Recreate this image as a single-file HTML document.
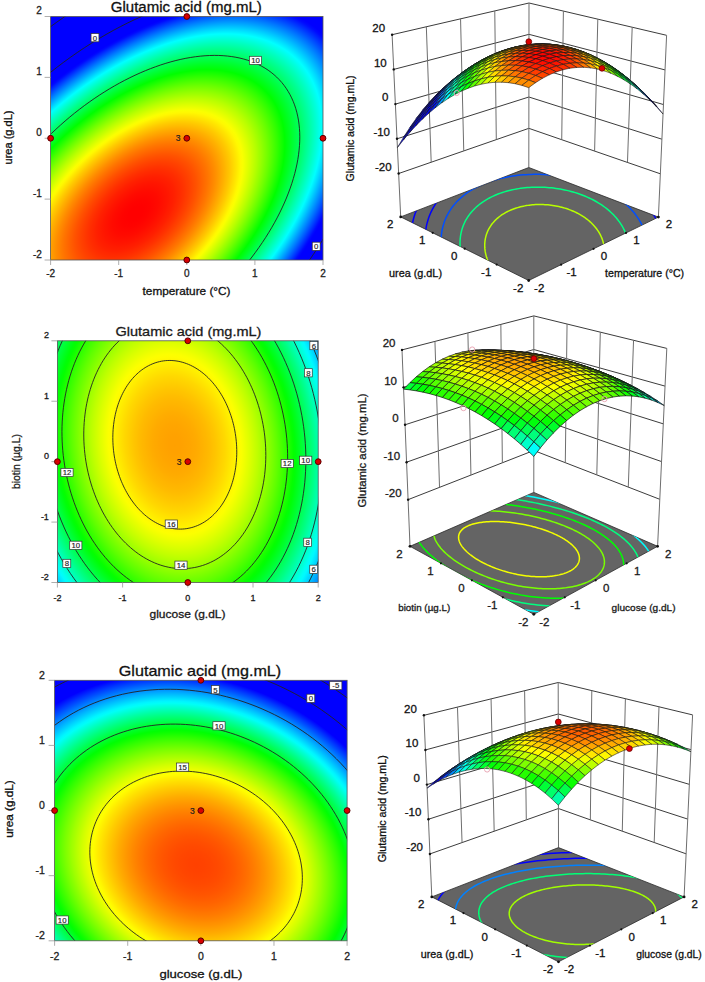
<!DOCTYPE html>
<html><head><meta charset="utf-8"><style>html,body{margin:0;padding:0;background:#fff;}body{width:705px;height:982px;overflow:hidden;}svg{display:block}</style></head><body>
<svg width="705" height="982" viewBox="0 0 705 982">
<rect width="705" height="982" fill="#fff"/>
<defs><radialGradient id="g1" gradientUnits="userSpaceOnUse" cx="0" cy="0" r="1" gradientTransform="matrix(-192.74226 200.42726 -131.68783 -101.19278 135.435 213.481)"><stop offset="0.000" stop-color="#ff0000"/><stop offset="0.010" stop-color="#ff0000"/><stop offset="0.020" stop-color="#ff0000"/><stop offset="0.030" stop-color="#ff0000"/><stop offset="0.040" stop-color="#ff0100"/><stop offset="0.050" stop-color="#ff0200"/><stop offset="0.060" stop-color="#ff0300"/><stop offset="0.070" stop-color="#ff0500"/><stop offset="0.080" stop-color="#ff0700"/><stop offset="0.090" stop-color="#ff0900"/><stop offset="0.100" stop-color="#ff0b00"/><stop offset="0.110" stop-color="#ff0e00"/><stop offset="0.120" stop-color="#ff1100"/><stop offset="0.130" stop-color="#ff1400"/><stop offset="0.140" stop-color="#ff1700"/><stop offset="0.150" stop-color="#ff1b00"/><stop offset="0.160" stop-color="#ff1e00"/><stop offset="0.170" stop-color="#ff2200"/><stop offset="0.180" stop-color="#ff2700"/><stop offset="0.190" stop-color="#ff2b00"/><stop offset="0.200" stop-color="#ff3000"/><stop offset="0.210" stop-color="#ff3500"/><stop offset="0.220" stop-color="#ff3b00"/><stop offset="0.230" stop-color="#ff4000"/><stop offset="0.240" stop-color="#ff4600"/><stop offset="0.250" stop-color="#ff4c00"/><stop offset="0.260" stop-color="#ff5200"/><stop offset="0.270" stop-color="#ff5900"/><stop offset="0.280" stop-color="#ff6000"/><stop offset="0.290" stop-color="#ff6700"/><stop offset="0.300" stop-color="#ff6e00"/><stop offset="0.310" stop-color="#ff7500"/><stop offset="0.320" stop-color="#ff7d00"/><stop offset="0.330" stop-color="#ff8500"/><stop offset="0.340" stop-color="#ff8d00"/><stop offset="0.350" stop-color="#ff9600"/><stop offset="0.360" stop-color="#ff9f00"/><stop offset="0.370" stop-color="#ffa800"/><stop offset="0.380" stop-color="#ffb100"/><stop offset="0.390" stop-color="#ffbb00"/><stop offset="0.400" stop-color="#ffc400"/><stop offset="0.410" stop-color="#ffce00"/><stop offset="0.420" stop-color="#ffd900"/><stop offset="0.430" stop-color="#ffe300"/><stop offset="0.440" stop-color="#ffee00"/><stop offset="0.450" stop-color="#fff900"/><stop offset="0.460" stop-color="#faff00"/><stop offset="0.470" stop-color="#eeff00"/><stop offset="0.480" stop-color="#e2ff00"/><stop offset="0.490" stop-color="#d6ff00"/><stop offset="0.500" stop-color="#c9ff00"/><stop offset="0.510" stop-color="#bdff00"/><stop offset="0.520" stop-color="#b0ff00"/><stop offset="0.530" stop-color="#a2ff00"/><stop offset="0.540" stop-color="#95ff00"/><stop offset="0.550" stop-color="#87ff00"/><stop offset="0.560" stop-color="#79ff00"/><stop offset="0.570" stop-color="#6bff00"/><stop offset="0.580" stop-color="#5cff00"/><stop offset="0.590" stop-color="#4dff00"/><stop offset="0.600" stop-color="#3eff00"/><stop offset="0.610" stop-color="#2fff00"/><stop offset="0.620" stop-color="#1fff00"/><stop offset="0.630" stop-color="#10ff00"/><stop offset="0.640" stop-color="#00ff00"/><stop offset="0.650" stop-color="#00ff0f"/><stop offset="0.660" stop-color="#00ff1d"/><stop offset="0.670" stop-color="#00ff2c"/><stop offset="0.680" stop-color="#00ff3b"/><stop offset="0.690" stop-color="#00ff4a"/><stop offset="0.700" stop-color="#00ff59"/><stop offset="0.710" stop-color="#00ff69"/><stop offset="0.720" stop-color="#00ff79"/><stop offset="0.730" stop-color="#00ff89"/><stop offset="0.740" stop-color="#00ff99"/><stop offset="0.750" stop-color="#00ffaa"/><stop offset="0.760" stop-color="#00ffba"/><stop offset="0.770" stop-color="#00ffcb"/><stop offset="0.780" stop-color="#00ffdc"/><stop offset="0.790" stop-color="#00ffee"/><stop offset="0.800" stop-color="#00ffff"/><stop offset="0.810" stop-color="#00ecff"/><stop offset="0.820" stop-color="#00d9ff"/><stop offset="0.830" stop-color="#00c5ff"/><stop offset="0.840" stop-color="#00b1ff"/><stop offset="0.850" stop-color="#009dff"/><stop offset="0.860" stop-color="#0089ff"/><stop offset="0.870" stop-color="#0075ff"/><stop offset="0.880" stop-color="#0060ff"/><stop offset="0.890" stop-color="#004bff"/><stop offset="0.900" stop-color="#0036ff"/><stop offset="0.910" stop-color="#0021ff"/><stop offset="0.920" stop-color="#000bff"/><stop offset="0.930" stop-color="#0000ff"/><stop offset="0.940" stop-color="#0000ff"/><stop offset="0.950" stop-color="#0000ff"/><stop offset="0.960" stop-color="#0000ff"/><stop offset="0.970" stop-color="#0000ff"/><stop offset="0.980" stop-color="#0000ff"/><stop offset="0.990" stop-color="#0000ff"/><stop offset="1.000" stop-color="#0000ff"/></radialGradient>
<clipPath id="cg1"><rect x="50.60" y="16.50" width="272.40" height="243.50"/></clipPath></defs>
<rect x="50.60" y="16.50" width="272.40" height="243.50" fill="url(#g1)"/>
<g clip-path="url(#cg1)" fill="none" stroke="#222" stroke-width="0.9">
<polyline points="-97.16,455.35 -102.04,451.39 -106.68,447.20 -111.08,442.78 -115.24,438.14 -119.16,433.27 -122.82,428.18 -126.22,422.88 -129.37,417.38 -132.26,411.68 -134.88,405.77 -137.24,399.68 -139.33,393.41 -141.14,386.96 -142.69,380.33 -143.95,373.55 -144.95,366.60 -145.66,359.50 -146.10,352.26 -146.26,344.89 -146.15,337.38 -145.75,329.75 -145.08,322.00 -144.13,314.15 -142.90,306.20 -141.40,298.16 -139.63,290.03 -137.59,281.83 -135.27,273.56 -132.69,265.23 -129.85,256.85 -126.74,248.43 -123.37,239.97 -119.75,231.49 -115.88,222.99 -111.76,214.48 -107.39,205.97 -102.78,197.47 -97.94,188.98 -92.87,180.51 -87.58,172.08 -82.06,163.69 -76.33,155.35 -70.39,147.07 -64.25,138.85 -57.91,130.71 -51.38,122.64 -44.66,114.67 -37.77,106.79 -30.71,99.02 -23.48,91.37 -16.10,83.83 -8.56,76.42 -0.89,69.15 6.92,62.01 14.86,55.03 22.92,48.21 31.09,41.54 39.36,35.05 47.72,28.73 56.17,22.60 64.70,16.65 73.30,10.90 81.96,5.35 90.68,0.00 99.44,-5.13 108.23,-10.05 117.05,-14.75 125.89,-19.22 134.74,-23.47 143.58,-27.48 152.43,-31.25 161.25,-34.78 170.05,-38.07 178.81,-41.11 187.53,-43.89 196.20,-46.43 204.81,-48.70 213.35,-50.72 221.82,-52.48 230.20,-53.97 238.48,-55.20 246.67,-56.17 254.74,-56.87 262.70,-57.30 270.53,-57.46 278.23,-57.36 285.79,-56.99 293.19,-56.36 300.45,-55.45 307.54,-54.29 314.46,-52.85 321.20,-51.16 327.76,-49.20 334.13,-46.99 340.31,-44.51 346.28,-41.79 352.04,-38.81 357.59,-35.58 362.92,-32.10 368.03,-28.39 372.91,-24.43 377.55,-20.24 381.95,-15.82 386.11,-11.17 390.03,-6.31 393.69,-1.22 397.09,4.08 400.24,9.58 403.13,15.29 405.75,21.19 408.11,27.28 410.20,33.55 412.01,40.00 413.56,46.63 414.82,53.41 415.82,60.36 416.53,67.46 416.97,74.70 417.13,82.08 417.02,89.58 416.62,97.21 415.95,104.96 415.00,112.81 413.77,120.76 412.27,128.80 410.50,136.93 408.46,145.13 406.14,153.40 403.56,161.73 400.72,170.11 397.61,178.53 394.24,186.99 390.62,195.47 386.75,203.97 382.63,212.48 378.26,220.99 373.65,229.50 368.81,237.98 363.74,246.45 358.45,254.88 352.93,263.27 347.20,271.61 341.26,279.89 335.12,288.11 328.78,296.26 322.25,304.32 315.53,312.29 308.64,320.17 301.58,327.94 294.35,335.60 286.97,343.13 279.43,350.54 271.76,357.82 263.95,364.95 256.01,371.93 247.95,378.75 239.78,385.42 231.51,391.91 223.15,398.23 214.70,404.36 206.17,410.31 197.57,416.06 188.91,421.61 180.19,426.96 171.43,432.09 162.64,437.01 153.82,441.71 144.98,446.19 136.13,450.43 127.29,454.44 118.44,458.21 109.62,461.74 100.82,465.03 92.06,468.07 83.34,470.86 74.67,473.39 66.06,475.66 57.51,477.68 49.05,479.44 40.67,480.93 32.38,482.16 24.20,483.13 16.13,483.83 8.17,484.26 0.34,484.43 -7.36,484.32 -14.92,483.95 -22.32,483.32 -29.58,482.41 -36.67,481.25 -43.59,479.81 -50.33,478.12 -56.89,476.16 -63.26,473.95 -69.44,471.47 -75.41,468.75 -81.17,465.77 -86.72,462.54 -92.05,459.06 -97.16,455.35"/>
<polyline points="-54.98,411.49 -58.97,408.25 -62.77,404.82 -66.38,401.20 -69.78,397.40 -72.99,393.41 -75.98,389.25 -78.77,384.91 -81.35,380.40 -83.71,375.73 -85.86,370.90 -87.79,365.92 -89.50,360.78 -90.99,355.50 -92.25,350.08 -93.29,344.52 -94.10,338.83 -94.69,333.02 -95.05,327.10 -95.18,321.06 -95.08,314.91 -94.76,308.66 -94.21,302.32 -93.43,295.90 -92.43,289.39 -91.20,282.80 -89.75,276.15 -88.08,269.44 -86.18,262.67 -84.07,255.85 -81.74,248.99 -79.19,242.09 -76.44,235.17 -73.47,228.23 -70.30,221.27 -66.93,214.30 -63.35,207.33 -59.58,200.37 -55.62,193.42 -51.47,186.49 -47.14,179.59 -42.62,172.72 -37.93,165.89 -33.07,159.11 -28.04,152.38 -22.85,145.72 -17.50,139.12 -12.00,132.59 -6.36,126.14 -0.58,119.78 5.34,113.51 11.38,107.34 17.55,101.27 23.83,95.32 30.23,89.48 36.73,83.77 43.32,78.18 50.01,72.72 56.78,67.41 63.63,62.24 70.55,57.22 77.53,52.35 84.57,47.64 91.66,43.09 98.79,38.72 105.96,34.51 113.16,30.49 120.38,26.64 127.62,22.98 134.86,19.50 142.11,16.22 149.34,13.13 156.57,10.24 163.77,7.55 170.95,5.06 178.09,2.78 185.18,0.71 192.23,-1.16 199.22,-2.81 206.15,-4.25 213.01,-5.47 219.80,-6.48 226.50,-7.27 233.11,-7.84 239.62,-8.19 246.03,-8.33 252.33,-8.25 258.52,-7.94 264.59,-7.42 270.52,-6.68 276.33,-5.73 281.99,-4.55 287.51,-3.17 292.88,-1.56 298.10,0.25 303.15,2.27 308.04,4.51 312.76,6.95 317.30,9.59 321.67,12.43 325.85,15.47 329.84,18.71 333.64,22.14 337.25,25.76 340.65,29.57 343.86,33.55 346.85,37.71 349.64,42.05 352.22,46.56 354.58,51.23 356.73,56.06 358.66,61.04 360.37,66.18 361.86,71.46 363.12,76.88 364.16,82.44 364.97,88.13 365.56,93.94 365.92,99.87 366.05,105.91 365.95,112.05 365.63,118.30 365.08,124.64 364.30,131.07 363.30,137.57 362.07,144.16 360.62,150.81 358.95,157.53 357.05,164.30 354.94,171.11 352.61,177.97 350.06,184.87 347.31,191.79 344.34,198.74 341.17,205.70 337.80,212.66 334.22,219.63 330.45,226.59 326.49,233.54 322.34,240.47 318.01,247.37 313.49,254.24 308.80,261.07 303.94,267.85 298.91,274.58 293.72,281.25 288.37,287.85 282.87,294.37 277.23,300.82 271.45,307.18 265.53,313.45 259.49,319.62 253.32,325.69 247.03,331.64 240.64,337.48 234.14,343.20 227.55,348.78 220.86,354.24 214.09,359.55 207.24,364.72 200.32,369.75 193.34,374.61 186.30,379.32 179.21,383.87 172.08,388.24 164.91,392.45 157.71,396.48 150.49,400.32 143.25,403.99 136.01,407.46 128.76,410.74 121.53,413.83 114.30,416.72 107.10,419.41 99.92,421.90 92.78,424.18 85.69,426.26 78.64,428.12 71.65,429.77 64.72,431.21 57.86,432.43 51.07,433.44 44.37,434.23 37.76,434.80 31.25,435.16 24.84,435.29 18.54,435.21 12.35,434.90 6.28,434.38 0.35,433.64 -5.46,432.69 -11.12,431.52 -16.64,430.13 -22.01,428.53 -27.23,426.71 -32.28,424.69 -37.17,422.46 -41.89,420.02 -46.43,417.37 -50.80,414.53 -54.98,411.49"/>
<polyline points="-0.27,354.59 -3.11,352.29 -5.82,349.84 -8.39,347.26 -10.82,344.55 -13.10,341.71 -15.24,338.74 -17.22,335.65 -19.06,332.44 -20.75,329.11 -22.28,325.67 -23.65,322.12 -24.87,318.46 -25.93,314.69 -26.83,310.83 -27.57,306.87 -28.15,302.82 -28.57,298.68 -28.82,294.45 -28.92,290.15 -28.85,285.77 -28.62,281.31 -28.22,276.80 -27.67,272.22 -26.96,267.58 -26.08,262.88 -25.05,258.14 -23.85,253.36 -22.50,248.53 -21.00,243.67 -19.34,238.79 -17.52,233.87 -15.56,228.94 -13.45,223.99 -11.19,219.03 -8.78,214.06 -6.24,209.10 -3.55,204.14 -0.73,199.19 2.23,194.25 5.32,189.33 8.54,184.43 11.88,179.57 15.35,174.73 18.93,169.94 22.63,165.19 26.44,160.48 30.36,155.83 34.38,151.24 38.50,146.70 42.72,142.23 47.03,137.84 51.42,133.52 55.90,129.27 60.46,125.11 65.09,121.04 69.79,117.06 74.55,113.17 79.38,109.38 84.26,105.69 89.19,102.12 94.17,98.65 99.18,95.29 104.24,92.05 109.32,88.93 114.43,85.94 119.56,83.07 124.71,80.32 129.86,77.71 135.03,75.24 140.19,72.90 145.35,70.70 150.50,68.64 155.63,66.72 160.74,64.95 165.83,63.32 170.89,61.84 175.91,60.51 180.90,59.34 185.83,58.31 190.72,57.44 195.56,56.72 200.33,56.16 205.04,55.75 209.69,55.50 214.25,55.40 218.75,55.46 223.15,55.68 227.48,56.05 231.71,56.58 235.84,57.26 239.88,58.09 243.82,59.08 247.64,60.22 251.36,61.52 254.96,62.96 258.45,64.55 261.81,66.29 265.05,68.17 268.16,70.20 271.14,72.37 273.98,74.68 276.69,77.12 279.26,79.70 281.69,82.41 283.97,85.25 286.11,88.22 288.09,91.31 289.93,94.52 291.62,97.85 293.15,101.29 294.52,104.84 295.74,108.50 296.80,112.27 297.70,116.13 298.44,120.09 299.02,124.15 299.44,128.29 299.69,132.51 299.79,136.82 299.72,141.20 299.49,145.65 299.09,150.17 298.54,154.75 297.83,159.39 296.95,164.08 295.92,168.82 294.72,173.60 293.37,178.43 291.87,183.29 290.21,188.18 288.39,193.09 286.43,198.02 284.32,202.97 282.06,207.93 279.65,212.90 277.11,217.86 274.42,222.82 271.60,227.78 268.64,232.71 265.55,237.63 262.33,242.53 258.99,247.39 255.52,252.23 251.94,257.02 248.24,261.77 244.43,266.48 240.51,271.13 236.49,275.73 232.37,280.26 228.15,284.73 223.84,289.12 219.45,293.45 214.97,297.69 210.41,301.85 205.78,305.92 201.08,309.91 196.32,313.79 191.49,317.58 186.61,321.27 181.68,324.85 176.70,328.31 171.68,331.67 166.63,334.91 161.55,338.03 156.44,341.02 151.31,343.90 146.16,346.64 141.00,349.25 135.84,351.72 130.68,354.06 125.52,356.26 120.37,358.33 115.24,360.24 110.13,362.01 105.04,363.64 99.98,365.12 94.96,366.45 89.97,367.62 85.04,368.65 80.15,369.52 75.31,370.24 70.54,370.80 65.83,371.21 61.18,371.46 56.62,371.56 52.12,371.50 47.72,371.28 43.39,370.91 39.16,370.38 35.03,369.70 30.99,368.87 27.05,367.88 23.23,366.74 19.51,365.44 15.91,364.00 12.42,362.41 9.06,360.67 5.82,358.79 2.71,356.76 -0.27,354.59"/>
</g>
<rect x="50.60" y="16.50" width="272.40" height="243.50" fill="none" stroke="#555" stroke-width="0.8"/>
<rect x="91.05" y="33.60" width="7.90" height="8.2" fill="#fff" stroke="#333" stroke-width="0.7"/>
<text x="95.00" y="40.60" font-size="7.80" text-anchor="middle" font-family="Liberation Sans, sans-serif" fill="#222" stroke="#222" stroke-width="0.15">0</text>
<rect x="249.40" y="56.30" width="12.20" height="8.2" fill="#fff" stroke="#333" stroke-width="0.7"/>
<text x="255.50" y="63.30" font-size="7.80" text-anchor="middle" font-family="Liberation Sans, sans-serif" fill="#222" stroke="#222" stroke-width="0.15">10</text>
<rect x="312.25" y="242.20" width="7.90" height="8.2" fill="#fff" stroke="#333" stroke-width="0.7"/>
<text x="316.20" y="249.20" font-size="7.80" text-anchor="middle" font-family="Liberation Sans, sans-serif" fill="#222" stroke="#222" stroke-width="0.15">0</text>
<g stroke="#999" stroke-width="0.8">
<line x1="50.60" y1="260.00" x2="50.60" y2="265.00"/>
<line x1="44.60" y1="16.50" x2="50.60" y2="16.50"/>
<line x1="118.70" y1="260.00" x2="118.70" y2="265.00"/>
<line x1="44.60" y1="77.38" x2="50.60" y2="77.38"/>
<line x1="186.80" y1="260.00" x2="186.80" y2="265.00"/>
<line x1="44.60" y1="138.25" x2="50.60" y2="138.25"/>
<line x1="254.90" y1="260.00" x2="254.90" y2="265.00"/>
<line x1="44.60" y1="199.12" x2="50.60" y2="199.12"/>
<line x1="323.00" y1="260.00" x2="323.00" y2="265.00"/>
<line x1="44.60" y1="260.00" x2="50.60" y2="260.00"/>
</g>
<text x="50.60" y="277.30" font-size="10.00" text-anchor="middle" font-family="Liberation Sans, sans-serif" fill="#222" stroke="#222" stroke-width="0.30">-2</text>
<text x="41.80" y="257.70" font-size="10.00" text-anchor="end" font-family="Liberation Sans, sans-serif" fill="#222" stroke="#222" stroke-width="0.30">-2</text>
<text x="118.70" y="277.30" font-size="10.00" text-anchor="middle" font-family="Liberation Sans, sans-serif" fill="#222" stroke="#222" stroke-width="0.30">-1</text>
<text x="41.80" y="196.82" font-size="10.00" text-anchor="end" font-family="Liberation Sans, sans-serif" fill="#222" stroke="#222" stroke-width="0.30">-1</text>
<text x="186.80" y="277.30" font-size="10.00" text-anchor="middle" font-family="Liberation Sans, sans-serif" fill="#222" stroke="#222" stroke-width="0.30">0</text>
<text x="41.80" y="135.95" font-size="10.00" text-anchor="end" font-family="Liberation Sans, sans-serif" fill="#222" stroke="#222" stroke-width="0.30">0</text>
<text x="254.90" y="277.30" font-size="10.00" text-anchor="middle" font-family="Liberation Sans, sans-serif" fill="#222" stroke="#222" stroke-width="0.30">1</text>
<text x="41.80" y="75.08" font-size="10.00" text-anchor="end" font-family="Liberation Sans, sans-serif" fill="#222" stroke="#222" stroke-width="0.30">1</text>
<text x="323.00" y="277.30" font-size="10.00" text-anchor="middle" font-family="Liberation Sans, sans-serif" fill="#222" stroke="#222" stroke-width="0.30">2</text>
<text x="41.80" y="14.20" font-size="10.00" text-anchor="end" font-family="Liberation Sans, sans-serif" fill="#222" stroke="#222" stroke-width="0.30">2</text>
<circle cx="186.80" cy="16.50" r="2.9" fill="#d80000" stroke="#5a0000" stroke-width="1.0"/>
<circle cx="186.80" cy="260.00" r="2.9" fill="#d80000" stroke="#5a0000" stroke-width="1.0"/>
<circle cx="50.60" cy="138.25" r="2.9" fill="#d80000" stroke="#5a0000" stroke-width="1.0"/>
<circle cx="323.00" cy="138.25" r="2.9" fill="#d80000" stroke="#5a0000" stroke-width="1.0"/>
<circle cx="186.80" cy="138.25" r="2.9" fill="#d80000" stroke="#5a0000" stroke-width="1.0"/>
<text x="180.60" y="141.25" font-size="8.50" text-anchor="end" font-family="Liberation Sans, sans-serif" fill="#222" stroke="#222" stroke-width="0.20">3</text>
<text x="186.30" y="11.50" font-size="14.00" text-anchor="middle" font-family="Liberation Sans, sans-serif" fill="#111" textLength="151.00" lengthAdjust="spacingAndGlyphs" stroke="#111" stroke-width="0.30">Glutamic acid (mg.mL)</text>
<text x="186.55" y="295.30" font-size="11.00" text-anchor="middle" font-family="Liberation Sans, sans-serif" fill="#111" textLength="88.00" lengthAdjust="spacingAndGlyphs" stroke="#111" stroke-width="0.30">temperature (°C)</text>
<text x="0" y="0" font-size="10.50" text-anchor="middle" font-family="Liberation Sans, sans-serif" fill="#111" textLength="54.00" lengthAdjust="spacingAndGlyphs" transform="translate(11.80 137.50) rotate(-90)" stroke="#111" stroke-width="0.30">urea  (g.dL)</text>
<defs><radialGradient id="g2" gradientUnits="userSpaceOnUse" cx="0" cy="0" r="1" gradientTransform="matrix(30.78660 273.26194 -198.93376 19.24993 174.792 444.790)"><stop offset="0.000" stop-color="#ffa000"/><stop offset="0.010" stop-color="#ffa100"/><stop offset="0.020" stop-color="#ffa100"/><stop offset="0.030" stop-color="#ffa100"/><stop offset="0.040" stop-color="#ffa200"/><stop offset="0.050" stop-color="#ffa300"/><stop offset="0.060" stop-color="#ffa400"/><stop offset="0.070" stop-color="#ffa500"/><stop offset="0.080" stop-color="#ffa600"/><stop offset="0.090" stop-color="#ffa800"/><stop offset="0.100" stop-color="#ffa900"/><stop offset="0.110" stop-color="#ffab00"/><stop offset="0.120" stop-color="#ffad00"/><stop offset="0.130" stop-color="#ffb000"/><stop offset="0.140" stop-color="#ffb200"/><stop offset="0.150" stop-color="#ffb500"/><stop offset="0.160" stop-color="#ffb700"/><stop offset="0.170" stop-color="#ffba00"/><stop offset="0.180" stop-color="#ffbd00"/><stop offset="0.190" stop-color="#ffc100"/><stop offset="0.200" stop-color="#ffc400"/><stop offset="0.210" stop-color="#ffc800"/><stop offset="0.220" stop-color="#ffcc00"/><stop offset="0.230" stop-color="#ffd000"/><stop offset="0.240" stop-color="#ffd400"/><stop offset="0.250" stop-color="#ffd800"/><stop offset="0.260" stop-color="#ffdd00"/><stop offset="0.270" stop-color="#ffe200"/><stop offset="0.280" stop-color="#ffe700"/><stop offset="0.290" stop-color="#ffec00"/><stop offset="0.300" stop-color="#fff100"/><stop offset="0.310" stop-color="#fff600"/><stop offset="0.320" stop-color="#fffc00"/><stop offset="0.330" stop-color="#fcff00"/><stop offset="0.340" stop-color="#f5ff00"/><stop offset="0.350" stop-color="#eeff00"/><stop offset="0.360" stop-color="#e6ff00"/><stop offset="0.370" stop-color="#dfff00"/><stop offset="0.380" stop-color="#d7ff00"/><stop offset="0.390" stop-color="#cfff00"/><stop offset="0.400" stop-color="#c7ff00"/><stop offset="0.410" stop-color="#bfff00"/><stop offset="0.420" stop-color="#b6ff00"/><stop offset="0.430" stop-color="#adff00"/><stop offset="0.440" stop-color="#a4ff00"/><stop offset="0.450" stop-color="#9bff00"/><stop offset="0.460" stop-color="#92ff00"/><stop offset="0.470" stop-color="#88ff00"/><stop offset="0.480" stop-color="#7eff00"/><stop offset="0.490" stop-color="#74ff00"/><stop offset="0.500" stop-color="#6aff00"/><stop offset="0.510" stop-color="#60ff00"/><stop offset="0.520" stop-color="#55ff00"/><stop offset="0.530" stop-color="#4aff00"/><stop offset="0.540" stop-color="#3fff00"/><stop offset="0.550" stop-color="#34ff00"/><stop offset="0.560" stop-color="#28ff00"/><stop offset="0.570" stop-color="#1dff00"/><stop offset="0.580" stop-color="#11ff00"/><stop offset="0.590" stop-color="#05ff00"/><stop offset="0.600" stop-color="#00ff08"/><stop offset="0.610" stop-color="#00ff15"/><stop offset="0.620" stop-color="#00ff22"/><stop offset="0.630" stop-color="#00ff30"/><stop offset="0.640" stop-color="#00ff3e"/><stop offset="0.650" stop-color="#00ff4c"/><stop offset="0.660" stop-color="#00ff5a"/><stop offset="0.670" stop-color="#00ff68"/><stop offset="0.680" stop-color="#00ff77"/><stop offset="0.690" stop-color="#00ff85"/><stop offset="0.700" stop-color="#00ff95"/><stop offset="0.710" stop-color="#00ffa4"/><stop offset="0.720" stop-color="#00ffb3"/><stop offset="0.730" stop-color="#00ffc3"/><stop offset="0.740" stop-color="#00ffd3"/><stop offset="0.750" stop-color="#00ffe3"/><stop offset="0.760" stop-color="#00fff3"/><stop offset="0.770" stop-color="#00faff"/><stop offset="0.780" stop-color="#00eaff"/><stop offset="0.790" stop-color="#00daff"/><stop offset="0.800" stop-color="#00caff"/><stop offset="0.810" stop-color="#00b9ff"/><stop offset="0.820" stop-color="#00a8ff"/><stop offset="0.830" stop-color="#0097ff"/><stop offset="0.840" stop-color="#0086ff"/><stop offset="0.850" stop-color="#0075ff"/><stop offset="0.860" stop-color="#0063ff"/><stop offset="0.870" stop-color="#0051ff"/><stop offset="0.880" stop-color="#003fff"/><stop offset="0.890" stop-color="#002dff"/><stop offset="0.900" stop-color="#001aff"/><stop offset="0.910" stop-color="#0008ff"/><stop offset="0.920" stop-color="#0000ff"/><stop offset="0.930" stop-color="#0000ff"/><stop offset="0.940" stop-color="#0000ff"/><stop offset="0.950" stop-color="#0000ff"/><stop offset="0.960" stop-color="#0000ff"/><stop offset="0.970" stop-color="#0000ff"/><stop offset="0.980" stop-color="#0000ff"/><stop offset="0.990" stop-color="#0000ff"/><stop offset="1.000" stop-color="#0000ff"/></radialGradient>
<clipPath id="cg2"><rect x="57.40" y="340.80" width="260.80" height="241.70"/></clipPath></defs>
<rect x="57.40" y="340.80" width="260.80" height="241.70" fill="url(#g2)"/>
<g clip-path="url(#cg2)" fill="none" stroke="#222" stroke-width="0.9">
<polyline points="199.49,663.98 194.46,664.35 189.42,664.51 184.36,664.46 179.29,664.18 174.22,663.69 169.15,662.99 164.08,662.07 159.03,660.93 153.99,659.58 148.97,658.02 143.97,656.25 139.01,654.27 134.08,652.08 129.20,649.69 124.35,647.10 119.56,644.30 114.82,641.31 110.14,638.13 105.53,634.75 100.98,631.19 96.50,627.45 92.11,623.52 87.79,619.42 83.56,615.14 79.42,610.70 75.38,606.09 71.43,601.32 67.58,596.40 63.84,591.33 60.21,586.12 56.70,580.76 53.30,575.27 50.02,569.66 46.86,563.92 43.83,558.06 40.93,552.09 38.16,546.01 35.52,539.83 33.02,533.56 30.67,527.21 28.45,520.77 26.38,514.26 24.45,507.67 22.68,501.03 21.05,494.33 19.58,487.58 18.26,480.79 17.09,473.96 16.08,467.11 15.22,460.23 14.53,453.34 13.99,446.44 13.61,439.53 13.39,432.64 13.33,425.75 13.42,418.89 13.68,412.04 14.10,405.24 14.67,398.47 15.40,391.74 16.29,385.07 17.34,378.46 18.54,371.91 19.90,365.44 21.41,359.04 23.07,352.73 24.87,346.51 26.83,340.38 28.94,334.36 31.18,328.45 33.57,322.65 36.10,316.97 38.77,311.42 41.57,306.00 44.50,300.72 47.56,295.58 50.74,290.59 54.05,285.75 57.48,281.06 61.02,276.54 64.68,272.18 68.44,268.00 72.31,263.99 76.28,260.15 80.35,256.50 84.51,253.04 88.76,249.76 93.09,246.68 97.51,243.79 102.00,241.10 106.56,238.61 111.19,236.33 115.88,234.25 120.63,232.38 125.44,230.72 130.29,229.27 135.19,228.03 140.13,227.00 145.10,226.20 150.10,225.60 155.12,225.23 160.17,225.07 165.22,225.12 170.29,225.40 175.36,225.89 180.43,226.59 185.50,227.51 190.56,228.65 195.60,230.00 200.62,231.56 205.61,233.33 210.57,235.31 215.50,237.50 220.39,239.89 225.23,242.48 230.02,245.28 234.76,248.27 239.44,251.45 244.06,254.83 248.61,258.39 253.08,262.13 257.48,266.06 261.79,270.16 266.02,274.44 270.16,278.88 274.21,283.49 278.15,288.26 282.00,293.18 285.74,298.25 289.37,303.46 292.89,308.82 296.29,314.31 299.57,319.92 302.73,325.67 305.76,331.52 308.66,337.49 311.43,343.57 314.06,349.75 316.56,356.02 318.92,362.37 321.13,368.81 323.21,375.32 325.13,381.91 326.91,388.55 328.53,395.25 330.01,402.00 331.33,408.79 332.49,415.62 333.51,422.47 334.36,429.35 335.06,436.24 335.60,443.14 335.98,450.05 336.20,456.94 336.26,463.83 336.16,470.69 335.90,477.54 335.49,484.34 334.91,491.11 334.18,497.84 333.29,504.51 332.24,511.12 331.04,517.67 329.69,524.14 328.18,530.54 326.52,536.85 324.71,543.08 322.75,549.20 320.65,555.22 318.40,561.13 316.01,566.93 313.48,572.61 310.82,578.16 308.02,583.58 305.08,588.86 302.02,594.00 298.84,598.99 295.53,603.83 292.10,608.52 288.56,613.04 284.91,617.40 281.14,621.58 277.27,625.59 273.30,629.43 269.24,633.08 265.08,636.54 260.83,639.82 256.49,642.90 252.08,645.79 247.59,648.48 243.02,650.97 238.39,653.25 233.70,655.33 228.95,657.20 224.14,658.86 219.29,660.31 214.39,661.55 209.46,662.58 204.49,663.38 199.49,663.98"/>
<polyline points="197.28,644.41 192.71,644.76 188.11,644.90 183.51,644.85 178.89,644.60 174.27,644.16 169.65,643.51 165.04,642.67 160.43,641.64 155.84,640.41 151.27,638.99 146.73,637.38 142.21,635.57 137.72,633.58 133.27,631.40 128.85,629.04 124.49,626.50 120.17,623.77 115.91,620.87 111.71,617.80 107.57,614.55 103.49,611.14 99.49,607.57 95.56,603.83 91.70,599.94 87.93,595.89 84.25,591.69 80.65,587.35 77.15,582.87 73.75,578.25 70.44,573.50 67.24,568.63 64.14,563.63 61.15,558.51 58.28,553.28 55.52,547.95 52.87,542.51 50.35,536.98 47.95,531.35 45.68,525.64 43.53,519.85 41.51,513.99 39.63,508.06 37.87,502.06 36.25,496.01 34.77,489.91 33.43,483.76 32.23,477.58 31.17,471.36 30.24,465.12 29.47,458.85 28.83,452.58 28.34,446.29 28.00,440.00 27.79,433.72 27.74,427.45 27.83,421.20 28.06,414.97 28.44,408.77 28.96,402.60 29.63,396.48 30.44,390.40 31.39,384.38 32.49,378.42 33.72,372.52 35.10,366.69 36.61,360.94 38.26,355.28 40.04,349.70 41.95,344.22 44.00,338.83 46.18,333.55 48.48,328.38 50.91,323.33 53.46,318.39 56.13,313.58 58.92,308.90 61.82,304.35 64.83,299.94 67.95,295.68 71.18,291.56 74.51,287.59 77.93,283.78 81.46,280.12 85.07,276.63 88.78,273.31 92.57,270.15 96.44,267.17 100.38,264.36 104.40,261.73 108.49,259.28 112.65,257.02 116.87,254.94 121.14,253.04 125.47,251.34 129.84,249.82 134.26,248.50 138.73,247.38 143.22,246.44 147.75,245.71 152.30,245.17 156.88,244.82 161.47,244.68 166.08,244.73 170.69,244.98 175.31,245.42 179.93,246.07 184.55,246.91 189.15,247.94 193.74,249.17 198.31,250.59 202.86,252.20 207.38,254.01 211.87,256.00 216.32,258.18 220.73,260.54 225.09,263.08 229.41,265.81 233.67,268.71 237.88,271.78 242.02,275.03 246.09,278.44 250.10,282.01 254.03,285.75 257.88,289.64 261.65,293.69 265.33,297.89 268.93,302.23 272.43,306.71 275.84,311.33 279.14,316.08 282.35,320.95 285.44,325.95 288.43,331.07 291.31,336.30 294.07,341.63 296.71,347.07 299.23,352.60 301.63,358.23 303.91,363.94 306.05,369.73 308.07,375.59 309.96,381.53 311.71,387.52 313.33,393.57 314.81,399.67 316.15,405.82 317.36,412.00 318.42,418.22 319.34,424.46 320.12,430.73 320.75,437.00 321.24,443.29 321.59,449.58 321.79,455.86 321.85,462.13 321.76,468.38 321.52,474.61 321.14,480.81 320.62,486.98 319.95,493.10 319.14,499.18 318.19,505.20 317.10,511.16 315.86,517.06 314.49,522.89 312.98,528.64 311.33,534.30 309.54,539.88 307.63,545.36 305.58,550.75 303.41,556.03 301.10,561.20 298.68,566.26 296.13,571.19 293.46,576.00 290.67,580.68 287.77,585.23 284.75,589.64 281.63,593.90 278.41,598.02 275.08,601.99 271.65,605.80 268.13,609.46 264.51,612.95 260.81,616.27 257.02,619.43 253.15,622.41 249.20,625.22 245.18,627.85 241.09,630.30 236.93,632.56 232.72,634.64 228.44,636.54 224.12,638.24 219.74,639.76 215.32,641.08 210.86,642.20 206.36,643.14 201.84,643.87 197.28,644.41"/>
<polyline points="194.84,622.71 190.76,623.02 186.66,623.15 182.56,623.10 178.45,622.88 174.33,622.48 170.21,621.91 166.10,621.16 162.00,620.24 157.90,619.14 153.83,617.88 149.78,616.44 145.75,614.83 141.75,613.06 137.78,611.11 133.85,609.01 129.96,606.74 126.11,604.31 122.31,601.73 118.57,598.99 114.88,596.10 111.24,593.06 107.67,589.87 104.17,586.54 100.74,583.07 97.38,579.46 94.09,575.72 90.89,571.85 87.77,567.86 84.73,563.74 81.79,559.51 78.93,555.16 76.17,550.71 73.51,546.15 70.94,541.49 68.48,536.73 66.13,531.89 63.88,526.95 61.74,521.94 59.71,516.85 57.80,511.69 56.00,506.46 54.32,501.18 52.76,495.83 51.32,490.44 50.00,485.00 48.80,479.52 47.73,474.01 46.78,468.47 45.96,462.91 45.27,457.32 44.70,451.73 44.26,446.13 43.95,440.52 43.77,434.93 43.72,429.34 43.80,423.76 44.01,418.21 44.35,412.68 44.82,407.19 45.41,401.73 46.13,396.31 46.98,390.95 47.96,385.63 49.06,380.38 50.28,375.18 51.63,370.06 53.10,365.01 54.69,360.04 56.40,355.15 58.22,350.35 60.16,345.64 62.21,341.04 64.38,336.53 66.65,332.13 69.03,327.84 71.51,323.67 74.10,319.62 76.78,315.69 79.57,311.89 82.44,308.22 85.41,304.68 88.46,301.28 91.60,298.03 94.83,294.91 98.13,291.95 101.50,289.14 104.95,286.48 108.47,283.98 112.06,281.63 115.70,279.45 119.41,277.43 123.16,275.58 126.97,273.89 130.83,272.37 134.73,271.02 138.67,269.84 142.65,268.84 146.65,268.01 150.69,267.35 154.75,266.87 158.83,266.56 162.92,266.43 167.03,266.48 171.14,266.70 175.26,267.10 179.37,267.67 183.48,268.42 187.59,269.34 191.68,270.44 195.75,271.70 199.81,273.14 203.84,274.75 207.84,276.52 211.80,278.47 215.74,280.57 219.63,282.84 223.47,285.27 227.27,287.85 231.02,290.59 234.71,293.48 238.34,296.52 241.91,299.71 245.41,303.04 248.85,306.51 252.21,310.12 255.49,313.86 258.69,317.73 261.82,321.72 264.85,325.84 267.80,330.07 270.65,334.42 273.41,338.87 276.08,343.43 278.64,348.09 281.10,352.85 283.46,357.69 285.70,362.63 287.84,367.64 289.87,372.73 291.78,377.89 293.58,383.12 295.26,388.40 296.83,393.75 298.27,399.14 299.59,404.58 300.78,410.06 301.86,415.57 302.80,421.11 303.62,426.67 304.32,432.26 304.88,437.85 305.32,443.45 305.63,449.06 305.81,454.65 305.86,460.24 305.78,465.82 305.57,471.37 305.23,476.90 304.77,482.39 304.17,487.85 303.45,493.27 302.60,498.63 301.63,503.95 300.53,509.20 299.30,514.40 297.95,519.52 296.48,524.57 294.90,529.54 293.19,534.43 291.36,539.23 289.42,543.94 287.37,548.54 285.21,553.05 282.93,557.45 280.55,561.74 278.07,565.91 275.49,569.96 272.80,573.89 270.02,577.69 267.14,581.36 264.18,584.90 261.12,588.30 257.98,591.55 254.76,594.67 251.46,597.63 248.08,600.44 244.63,603.10 241.11,605.60 237.53,607.95 233.88,610.13 230.18,612.15 226.42,614.00 222.61,615.69 218.75,617.21 214.85,618.56 210.91,619.74 206.94,620.74 202.93,621.57 198.90,622.23 194.84,622.71"/>
<polyline points="192.05,597.96 188.54,598.23 185.01,598.34 181.48,598.30 177.94,598.11 174.39,597.77 170.85,597.27 167.31,596.63 163.78,595.84 160.25,594.89 156.75,593.80 153.26,592.56 149.79,591.18 146.34,589.65 142.93,587.98 139.54,586.17 136.19,584.22 132.88,582.13 129.61,579.90 126.39,577.54 123.21,575.05 120.08,572.44 117.01,569.69 113.99,566.82 111.04,563.84 108.14,560.73 105.32,557.51 102.56,554.18 99.87,550.74 97.26,547.20 94.72,543.55 92.26,539.81 89.89,535.98 87.59,532.05 85.39,528.04 83.27,523.94 81.24,519.77 79.31,515.53 77.46,511.21 75.72,506.83 74.07,502.39 72.52,497.89 71.08,493.33 69.73,488.73 68.49,484.09 67.35,479.41 66.32,474.69 65.40,469.95 64.58,465.18 63.88,460.39 63.28,455.58 62.79,450.76 62.42,445.94 62.15,441.12 62.00,436.30 61.95,431.49 62.02,426.69 62.20,421.91 62.49,417.15 62.89,412.42 63.41,407.72 64.03,403.06 64.76,398.44 65.60,393.86 66.55,389.33 67.60,384.86 68.76,380.45 70.03,376.11 71.39,371.83 72.86,367.62 74.43,363.49 76.10,359.43 77.87,355.47 79.73,351.59 81.69,347.80 83.74,344.11 85.88,340.52 88.10,337.03 90.42,333.65 92.81,330.37 95.29,327.21 97.84,324.17 100.47,321.24 103.17,318.44 105.95,315.76 108.79,313.21 111.70,310.79 114.67,308.50 117.70,306.34 120.78,304.33 123.92,302.45 127.11,300.71 130.35,299.11 133.63,297.66 136.95,296.35 140.30,295.19 143.69,294.18 147.12,293.31 150.57,292.60 154.04,292.03 157.53,291.62 161.05,291.35 164.57,291.24 168.11,291.28 171.65,291.47 175.19,291.81 178.74,292.31 182.28,292.95 185.81,293.74 189.33,294.69 192.84,295.78 196.33,297.02 199.80,298.40 203.24,299.93 206.66,301.60 210.04,303.41 213.39,305.36 216.70,307.45 219.97,309.68 223.20,312.04 226.37,314.53 229.50,317.14 232.57,319.89 235.59,322.76 238.55,325.74 241.44,328.85 244.27,332.07 247.02,335.40 249.71,338.84 252.33,342.38 254.86,346.03 257.32,349.77 259.70,353.60 261.99,357.53 264.20,361.54 266.31,365.64 268.34,369.81 270.28,374.05 272.12,378.37 273.86,382.75 275.51,387.19 277.06,391.69 278.51,396.25 279.85,400.85 281.09,405.49 282.23,410.17 283.26,414.89 284.18,419.63 285.00,424.40 285.71,429.19 286.30,434.00 286.79,438.82 287.17,443.64 287.43,448.46 287.59,453.28 287.63,458.09 287.56,462.89 287.38,467.67 287.09,472.43 286.69,477.16 286.18,481.86 285.56,486.52 284.82,491.14 283.99,495.72 283.04,500.25 281.98,504.72 280.82,509.13 279.56,513.47 278.19,517.75 276.72,521.96 275.15,526.09 273.48,530.15 271.71,534.11 269.85,537.99 267.89,541.78 265.84,545.47 263.71,549.06 261.48,552.55 259.17,555.94 256.77,559.21 254.30,562.37 251.74,565.41 249.11,568.34 246.41,571.14 243.64,573.82 240.79,576.37 237.89,578.79 234.92,581.08 231.89,583.24 228.80,585.25 225.66,587.13 222.47,588.87 219.24,590.47 215.96,591.92 212.64,593.23 209.28,594.39 205.89,595.40 202.47,596.27 199.02,596.99 195.54,597.55 192.05,597.96"/>
<polyline points="188.71,568.36 185.88,568.57 183.04,568.66 180.19,568.63 177.33,568.47 174.47,568.20 171.61,567.80 168.75,567.28 165.90,566.64 163.06,565.88 160.23,565.00 157.42,564.00 154.62,562.88 151.84,561.65 149.09,560.30 146.36,558.84 143.65,557.27 140.98,555.58 138.34,553.79 135.74,551.88 133.18,549.87 130.66,547.76 128.18,545.55 125.75,543.24 123.36,540.83 121.03,538.32 118.75,535.72 116.52,533.04 114.35,530.26 112.24,527.40 110.20,524.46 108.22,521.44 106.30,518.35 104.45,515.18 102.67,511.95 100.96,508.64 99.32,505.28 97.76,501.85 96.28,498.37 94.87,494.84 93.54,491.25 92.29,487.62 91.12,483.95 90.04,480.24 89.04,476.49 88.12,472.72 87.29,468.91 86.54,465.08 85.89,461.24 85.32,457.37 84.84,453.49 84.44,449.61 84.14,445.72 83.92,441.83 83.80,437.94 83.76,434.06 83.82,430.19 83.96,426.33 84.20,422.49 84.52,418.67 84.94,414.88 85.44,411.12 86.03,407.40 86.70,403.70 87.47,400.05 88.32,396.45 89.26,392.89 90.28,389.38 91.38,385.93 92.57,382.53 93.83,379.20 95.18,375.93 96.61,372.73 98.11,369.60 99.69,366.55 101.34,363.57 103.06,360.67 104.86,357.86 106.72,355.13 108.66,352.49 110.65,349.94 112.71,347.48 114.84,345.12 117.02,342.86 119.26,340.70 121.55,338.64 123.89,336.69 126.29,334.84 128.73,333.10 131.22,331.48 133.75,329.96 136.33,328.56 138.94,327.27 141.58,326.10 144.26,325.04 146.97,324.11 149.71,323.29 152.47,322.59 155.25,322.01 158.05,321.56 160.87,321.22 163.70,321.01 166.55,320.92 169.40,320.95 172.25,321.11 175.11,321.38 177.97,321.78 180.83,322.30 183.68,322.94 186.52,323.70 189.35,324.58 192.17,325.58 194.96,326.70 197.74,327.93 200.50,329.28 203.23,330.74 205.93,332.31 208.60,334.00 211.24,335.79 213.84,337.70 216.40,339.71 218.93,341.82 221.41,344.03 223.84,346.34 226.22,348.75 228.56,351.26 230.84,353.86 233.06,356.54 235.23,359.32 237.34,362.18 239.39,365.12 241.37,368.14 243.29,371.23 245.13,374.40 246.91,377.63 248.62,380.94 250.26,384.30 251.82,387.73 253.31,391.21 254.71,394.74 256.04,398.33 257.29,401.96 258.46,405.63 259.55,409.34 260.55,413.09 261.46,416.86 262.29,420.67 263.04,424.50 263.70,428.34 264.27,432.21 264.75,436.09 265.14,439.97 265.45,443.86 265.66,447.75 265.78,451.64 265.82,455.52 265.76,459.39 265.62,463.25 265.38,467.09 265.06,470.91 264.65,474.70 264.15,478.46 263.56,482.18 262.88,485.88 262.11,489.53 261.26,493.13 260.33,496.69 259.31,500.20 258.20,503.65 257.02,507.05 255.75,510.38 254.40,513.65 252.98,516.85 251.48,519.98 249.90,523.03 248.25,526.01 246.52,528.91 244.72,531.72 242.86,534.45 240.93,537.09 238.93,539.64 236.87,542.10 234.75,544.46 232.57,546.72 230.33,548.88 228.04,550.94 225.69,552.89 223.29,554.74 220.85,556.48 218.36,558.10 215.83,559.62 213.26,561.02 210.65,562.31 208.00,563.48 205.32,564.54 202.61,565.47 199.88,566.29 197.12,566.99 194.33,567.57 191.53,568.02 188.71,568.36"/>
<polyline points="184.27,528.91 182.34,529.05 180.40,529.11 178.46,529.09 176.52,528.99 174.57,528.80 172.63,528.53 170.68,528.17 168.74,527.74 166.81,527.22 164.88,526.62 162.97,525.94 161.06,525.18 159.17,524.34 157.29,523.42 155.44,522.43 153.60,521.36 151.78,520.21 149.98,518.99 148.21,517.69 146.47,516.32 144.75,514.89 143.06,513.38 141.40,511.80 139.78,510.16 138.19,508.46 136.64,506.69 135.13,504.86 133.65,502.97 132.21,501.03 130.82,499.03 129.47,496.97 128.17,494.86 126.91,492.71 125.70,490.51 124.53,488.26 123.42,485.97 122.36,483.63 121.34,481.26 120.39,478.86 119.48,476.42 118.63,473.95 117.84,471.45 117.10,468.92 116.42,466.37 115.79,463.80 115.23,461.21 114.72,458.61 114.27,455.99 113.88,453.35 113.56,450.72 113.29,448.07 113.08,445.42 112.94,442.77 112.85,440.13 112.83,437.48 112.86,434.85 112.96,432.22 113.12,429.61 113.34,427.01 113.62,424.43 113.97,421.87 114.37,419.33 114.83,416.82 115.35,414.34 115.93,411.88 116.57,409.46 117.26,407.07 118.01,404.72 118.82,402.41 119.68,400.14 120.60,397.92 121.57,395.74 122.59,393.61 123.67,391.53 124.79,389.50 125.96,387.53 127.19,385.61 128.46,383.76 129.77,381.96 131.13,380.22 132.53,378.55 133.98,376.94 135.46,375.40 136.99,373.93 138.55,372.53 140.14,371.20 141.77,369.95 143.44,368.76 145.13,367.65 146.86,366.62 148.61,365.67 150.38,364.79 152.19,363.99 154.01,363.27 155.85,362.64 157.72,362.08 159.59,361.61 161.49,361.21 163.40,360.90 165.32,360.67 167.24,360.53 169.18,360.47 171.12,360.49 173.06,360.60 175.01,360.78 176.96,361.05 178.90,361.41 180.84,361.84 182.78,362.36 184.70,362.96 186.62,363.64 188.52,364.40 190.41,365.24 192.29,366.16 194.15,367.15 195.99,368.22 197.81,369.37 199.60,370.59 201.37,371.89 203.12,373.26 204.84,374.69 206.52,376.20 208.18,377.78 209.80,379.42 211.39,381.12 212.94,382.89 214.46,384.72 215.93,386.61 217.37,388.55 218.76,390.55 220.11,392.61 221.42,394.72 222.68,396.87 223.89,399.07 225.05,401.32 226.16,403.61 227.23,405.95 228.24,408.32 229.20,410.72 230.10,413.16 230.95,415.63 231.75,418.13 232.49,420.66 233.17,423.21 233.79,425.78 234.36,428.37 234.86,430.97 235.31,433.59 235.70,436.23 236.03,438.86 236.30,441.51 236.50,444.16 236.65,446.81 236.73,449.45 236.76,452.10 236.72,454.73 236.62,457.36 236.46,459.97 236.24,462.57 235.96,465.15 235.62,467.71 235.22,470.25 234.76,472.76 234.23,475.24 233.66,477.70 233.02,480.12 232.32,482.51 231.57,484.86 230.77,487.17 229.90,489.44 228.99,491.66 228.02,493.84 226.99,495.97 225.92,498.05 224.79,500.08 223.62,502.05 222.40,503.97 221.13,505.83 219.81,507.62 218.45,509.36 217.05,511.03 215.61,512.64 214.12,514.18 212.60,515.65 211.04,517.05 209.44,518.38 207.81,519.63 206.15,520.82 204.45,521.93 202.73,522.96 200.98,523.91 199.20,524.79 197.40,525.59 195.58,526.31 193.73,526.94 191.87,527.50 189.99,527.97 188.09,528.37 186.19,528.68 184.27,528.91"/>
</g>
<rect x="57.40" y="340.80" width="260.80" height="241.70" fill="none" stroke="#555" stroke-width="0.8"/>
<rect x="309.85" y="341.50" width="7.90" height="8.2" fill="#fff" stroke="#333" stroke-width="0.7"/>
<text x="313.80" y="348.50" font-size="7.80" text-anchor="middle" font-family="Liberation Sans, sans-serif" fill="#1a1a1a" stroke="#1a1a1a" stroke-width="0.15">6</text>
<rect x="304.35" y="368.70" width="7.90" height="8.2" fill="#fff" stroke="#333" stroke-width="0.7"/>
<text x="308.30" y="375.70" font-size="7.80" text-anchor="middle" font-family="Liberation Sans, sans-serif" fill="#1a1a1a" stroke="#1a1a1a" stroke-width="0.15">8</text>
<rect x="281.10" y="459.40" width="12.20" height="8.2" fill="#fff" stroke="#333" stroke-width="0.7"/>
<text x="287.20" y="466.40" font-size="7.80" text-anchor="middle" font-family="Liberation Sans, sans-serif" fill="#1a1a1a" stroke="#1a1a1a" stroke-width="0.15">12</text>
<rect x="299.60" y="456.20" width="12.20" height="8.2" fill="#fff" stroke="#333" stroke-width="0.7"/>
<text x="305.70" y="463.20" font-size="7.80" text-anchor="middle" font-family="Liberation Sans, sans-serif" fill="#1a1a1a" stroke="#1a1a1a" stroke-width="0.15">10</text>
<rect x="303.75" y="538.20" width="7.90" height="8.2" fill="#fff" stroke="#333" stroke-width="0.7"/>
<text x="307.70" y="545.20" font-size="7.80" text-anchor="middle" font-family="Liberation Sans, sans-serif" fill="#1a1a1a" stroke="#1a1a1a" stroke-width="0.15">8</text>
<rect x="309.75" y="565.20" width="7.90" height="8.2" fill="#fff" stroke="#333" stroke-width="0.7"/>
<text x="313.70" y="572.20" font-size="7.80" text-anchor="middle" font-family="Liberation Sans, sans-serif" fill="#1a1a1a" stroke="#1a1a1a" stroke-width="0.15">6</text>
<rect x="174.90" y="561.10" width="12.20" height="8.2" fill="#fff" stroke="#333" stroke-width="0.7"/>
<text x="181.00" y="568.10" font-size="7.80" text-anchor="middle" font-family="Liberation Sans, sans-serif" fill="#1a1a1a" stroke="#1a1a1a" stroke-width="0.15">14</text>
<rect x="165.20" y="520.00" width="12.20" height="8.2" fill="#fff" stroke="#333" stroke-width="0.7"/>
<text x="171.30" y="527.00" font-size="7.80" text-anchor="middle" font-family="Liberation Sans, sans-serif" fill="#1a1a1a" stroke="#1a1a1a" stroke-width="0.15">16</text>
<rect x="60.90" y="468.40" width="12.20" height="8.2" fill="#fff" stroke="#333" stroke-width="0.7"/>
<text x="67.00" y="475.40" font-size="7.80" text-anchor="middle" font-family="Liberation Sans, sans-serif" fill="#1a1a1a" stroke="#1a1a1a" stroke-width="0.15">12</text>
<rect x="69.70" y="541.20" width="12.20" height="8.2" fill="#fff" stroke="#333" stroke-width="0.7"/>
<text x="75.80" y="548.20" font-size="7.80" text-anchor="middle" font-family="Liberation Sans, sans-serif" fill="#1a1a1a" stroke="#1a1a1a" stroke-width="0.15">10</text>
<rect x="62.85" y="559.30" width="7.90" height="8.2" fill="#fff" stroke="#333" stroke-width="0.7"/>
<text x="66.80" y="566.30" font-size="7.80" text-anchor="middle" font-family="Liberation Sans, sans-serif" fill="#1a1a1a" stroke="#1a1a1a" stroke-width="0.15">8</text>
<g stroke="#999" stroke-width="0.8">
<line x1="57.40" y1="582.50" x2="57.40" y2="587.50"/>
<line x1="51.40" y1="340.80" x2="57.40" y2="340.80"/>
<line x1="122.60" y1="582.50" x2="122.60" y2="587.50"/>
<line x1="51.40" y1="401.23" x2="57.40" y2="401.23"/>
<line x1="187.80" y1="582.50" x2="187.80" y2="587.50"/>
<line x1="51.40" y1="461.65" x2="57.40" y2="461.65"/>
<line x1="253.00" y1="582.50" x2="253.00" y2="587.50"/>
<line x1="51.40" y1="522.08" x2="57.40" y2="522.08"/>
<line x1="318.20" y1="582.50" x2="318.20" y2="587.50"/>
<line x1="51.40" y1="582.50" x2="57.40" y2="582.50"/>
</g>
<text x="57.40" y="600.50" font-size="9.00" text-anchor="middle" font-family="Liberation Sans, sans-serif" fill="#1a1a1a" stroke="#1a1a1a" stroke-width="0.30">-2</text>
<text x="48.90" y="580.00" font-size="9.00" text-anchor="end" font-family="Liberation Sans, sans-serif" fill="#1a1a1a" stroke="#1a1a1a" stroke-width="0.30">-2</text>
<text x="122.60" y="600.50" font-size="9.00" text-anchor="middle" font-family="Liberation Sans, sans-serif" fill="#1a1a1a" stroke="#1a1a1a" stroke-width="0.30">-1</text>
<text x="48.90" y="519.58" font-size="9.00" text-anchor="end" font-family="Liberation Sans, sans-serif" fill="#1a1a1a" stroke="#1a1a1a" stroke-width="0.30">-1</text>
<text x="187.80" y="600.50" font-size="9.00" text-anchor="middle" font-family="Liberation Sans, sans-serif" fill="#1a1a1a" stroke="#1a1a1a" stroke-width="0.30">0</text>
<text x="48.90" y="459.15" font-size="9.00" text-anchor="end" font-family="Liberation Sans, sans-serif" fill="#1a1a1a" stroke="#1a1a1a" stroke-width="0.30">0</text>
<text x="253.00" y="600.50" font-size="9.00" text-anchor="middle" font-family="Liberation Sans, sans-serif" fill="#1a1a1a" stroke="#1a1a1a" stroke-width="0.30">1</text>
<text x="48.90" y="398.73" font-size="9.00" text-anchor="end" font-family="Liberation Sans, sans-serif" fill="#1a1a1a" stroke="#1a1a1a" stroke-width="0.30">1</text>
<text x="318.20" y="600.50" font-size="9.00" text-anchor="middle" font-family="Liberation Sans, sans-serif" fill="#1a1a1a" stroke="#1a1a1a" stroke-width="0.30">2</text>
<text x="48.90" y="338.30" font-size="9.00" text-anchor="end" font-family="Liberation Sans, sans-serif" fill="#1a1a1a" stroke="#1a1a1a" stroke-width="0.30">2</text>
<circle cx="187.80" cy="340.80" r="2.9" fill="#d80000" stroke="#5a0000" stroke-width="1.0"/>
<circle cx="187.80" cy="582.50" r="2.9" fill="#d80000" stroke="#5a0000" stroke-width="1.0"/>
<circle cx="57.40" cy="461.65" r="2.9" fill="#d80000" stroke="#5a0000" stroke-width="1.0"/>
<circle cx="318.20" cy="461.65" r="2.9" fill="#d80000" stroke="#5a0000" stroke-width="1.0"/>
<circle cx="187.80" cy="461.65" r="2.9" fill="#d80000" stroke="#5a0000" stroke-width="1.0"/>
<text x="181.60" y="464.65" font-size="8.50" text-anchor="end" font-family="Liberation Sans, sans-serif" fill="#1a1a1a" stroke="#1a1a1a" stroke-width="0.20">3</text>
<text x="188.45" y="335.80" font-size="13.50" text-anchor="middle" font-family="Liberation Sans, sans-serif" fill="#1a1a1a" textLength="146.00" lengthAdjust="spacingAndGlyphs" stroke="#1a1a1a" stroke-width="0.30">Glutamic acid (mg.mL)</text>
<text x="187.50" y="617.80" font-size="10.50" text-anchor="middle" font-family="Liberation Sans, sans-serif" fill="#1a1a1a" textLength="76.00" lengthAdjust="spacingAndGlyphs" stroke="#1a1a1a" stroke-width="0.30">glucose  (g.dL)</text>
<text x="0" y="0" font-size="10.00" text-anchor="middle" font-family="Liberation Sans, sans-serif" fill="#1a1a1a" textLength="55.00" lengthAdjust="spacingAndGlyphs" transform="translate(20.00 461.60) rotate(-90)" stroke="#1a1a1a" stroke-width="0.30">biotin  (µg.L)</text>
<defs><radialGradient id="g3" gradientUnits="userSpaceOnUse" cx="0" cy="0" r="1" gradientTransform="matrix(-181.30131 -152.73730 149.10407 -140.38122 196.099 865.010)"><stop offset="0.000" stop-color="#ff4100"/><stop offset="0.010" stop-color="#ff4100"/><stop offset="0.020" stop-color="#ff4200"/><stop offset="0.030" stop-color="#ff4200"/><stop offset="0.040" stop-color="#ff4300"/><stop offset="0.050" stop-color="#ff4400"/><stop offset="0.060" stop-color="#ff4500"/><stop offset="0.070" stop-color="#ff4600"/><stop offset="0.080" stop-color="#ff4800"/><stop offset="0.090" stop-color="#ff4900"/><stop offset="0.100" stop-color="#ff4b00"/><stop offset="0.110" stop-color="#ff4d00"/><stop offset="0.120" stop-color="#ff4f00"/><stop offset="0.130" stop-color="#ff5200"/><stop offset="0.140" stop-color="#ff5400"/><stop offset="0.150" stop-color="#ff5700"/><stop offset="0.160" stop-color="#ff5a00"/><stop offset="0.170" stop-color="#ff5d00"/><stop offset="0.180" stop-color="#ff6100"/><stop offset="0.190" stop-color="#ff6400"/><stop offset="0.200" stop-color="#ff6800"/><stop offset="0.210" stop-color="#ff6c00"/><stop offset="0.220" stop-color="#ff7000"/><stop offset="0.230" stop-color="#ff7500"/><stop offset="0.240" stop-color="#ff7900"/><stop offset="0.250" stop-color="#ff7e00"/><stop offset="0.260" stop-color="#ff8300"/><stop offset="0.270" stop-color="#ff8800"/><stop offset="0.280" stop-color="#ff8e00"/><stop offset="0.290" stop-color="#ff9300"/><stop offset="0.300" stop-color="#ff9900"/><stop offset="0.310" stop-color="#ff9f00"/><stop offset="0.320" stop-color="#ffa500"/><stop offset="0.330" stop-color="#ffab00"/><stop offset="0.340" stop-color="#ffb200"/><stop offset="0.350" stop-color="#ffb900"/><stop offset="0.360" stop-color="#ffc000"/><stop offset="0.370" stop-color="#ffc700"/><stop offset="0.380" stop-color="#ffce00"/><stop offset="0.390" stop-color="#ffd600"/><stop offset="0.400" stop-color="#ffdd00"/><stop offset="0.410" stop-color="#ffe500"/><stop offset="0.420" stop-color="#ffed00"/><stop offset="0.430" stop-color="#fff600"/><stop offset="0.440" stop-color="#fffe00"/><stop offset="0.450" stop-color="#f6ff00"/><stop offset="0.460" stop-color="#ecff00"/><stop offset="0.470" stop-color="#e1ff00"/><stop offset="0.480" stop-color="#d7ff00"/><stop offset="0.490" stop-color="#ccff00"/><stop offset="0.500" stop-color="#c0ff00"/><stop offset="0.510" stop-color="#b5ff00"/><stop offset="0.520" stop-color="#a9ff00"/><stop offset="0.530" stop-color="#9eff00"/><stop offset="0.540" stop-color="#91ff00"/><stop offset="0.550" stop-color="#85ff00"/><stop offset="0.560" stop-color="#79ff00"/><stop offset="0.570" stop-color="#6cff00"/><stop offset="0.580" stop-color="#5fff00"/><stop offset="0.590" stop-color="#52ff00"/><stop offset="0.600" stop-color="#44ff00"/><stop offset="0.610" stop-color="#37ff00"/><stop offset="0.620" stop-color="#29ff00"/><stop offset="0.630" stop-color="#1aff00"/><stop offset="0.640" stop-color="#0cff00"/><stop offset="0.650" stop-color="#00ff03"/><stop offset="0.660" stop-color="#00ff14"/><stop offset="0.670" stop-color="#00ff25"/><stop offset="0.680" stop-color="#00ff37"/><stop offset="0.690" stop-color="#00ff49"/><stop offset="0.700" stop-color="#00ff5b"/><stop offset="0.710" stop-color="#00ff6e"/><stop offset="0.720" stop-color="#00ff80"/><stop offset="0.730" stop-color="#00ff93"/><stop offset="0.740" stop-color="#00ffa6"/><stop offset="0.750" stop-color="#00ffba"/><stop offset="0.760" stop-color="#00ffce"/><stop offset="0.770" stop-color="#00ffe2"/><stop offset="0.780" stop-color="#00fff6"/><stop offset="0.790" stop-color="#00f5ff"/><stop offset="0.800" stop-color="#00e4ff"/><stop offset="0.810" stop-color="#00d2ff"/><stop offset="0.820" stop-color="#00c0ff"/><stop offset="0.830" stop-color="#00aeff"/><stop offset="0.840" stop-color="#009bff"/><stop offset="0.850" stop-color="#0089ff"/><stop offset="0.860" stop-color="#0076ff"/><stop offset="0.870" stop-color="#0063ff"/><stop offset="0.880" stop-color="#004fff"/><stop offset="0.890" stop-color="#003cff"/><stop offset="0.900" stop-color="#0028ff"/><stop offset="0.910" stop-color="#0014ff"/><stop offset="0.920" stop-color="#0000ff"/><stop offset="0.930" stop-color="#0000ff"/><stop offset="0.940" stop-color="#0000ff"/><stop offset="0.950" stop-color="#0000ff"/><stop offset="0.960" stop-color="#0000ff"/><stop offset="0.970" stop-color="#0000ff"/><stop offset="0.980" stop-color="#0000ff"/><stop offset="0.990" stop-color="#0000ff"/><stop offset="1.000" stop-color="#0000ff"/></radialGradient>
<clipPath id="cg3"><rect x="54.60" y="680.30" width="292.50" height="260.50"/></clipPath></defs>
<rect x="54.60" y="680.30" width="292.50" height="260.50" fill="url(#g3)"/>
<g clip-path="url(#cg3)" fill="none" stroke="#222" stroke-width="0.9">
<polyline points="-5.04,695.56 0.25,690.75 5.74,686.11 11.42,681.65 17.28,677.38 23.31,673.28 29.52,669.38 35.89,665.67 42.42,662.15 49.09,658.84 55.92,655.73 62.88,652.82 69.98,650.13 77.20,647.64 84.53,645.37 91.98,643.32 99.53,641.49 107.17,639.88 114.91,638.49 122.72,637.32 130.60,636.38 138.55,635.66 146.56,635.17 154.61,634.91 162.71,634.87 170.84,635.06 178.99,635.48 187.17,636.13 195.35,637.00 203.53,638.09 211.70,639.41 219.86,640.95 227.99,642.72 236.09,644.70 244.16,646.90 252.17,649.31 260.13,651.94 268.03,654.78 275.86,657.83 283.61,661.08 291.27,664.53 298.83,668.18 306.30,672.02 313.66,676.05 320.90,680.27 328.02,684.68 335.00,689.26 341.86,694.01 348.56,698.93 355.12,704.02 361.52,709.27 367.76,714.67 373.82,720.21 379.71,725.91 385.42,731.73 390.95,737.69 396.28,743.78 401.41,749.98 406.34,756.30 411.07,762.73 415.58,769.25 419.87,775.87 423.95,782.58 427.80,789.37 431.42,796.24 434.81,803.17 437.96,810.17 440.87,817.21 443.54,824.31 445.97,831.44 448.15,838.61 450.09,845.81 451.77,853.02 453.20,860.25 454.38,867.48 455.30,874.70 455.96,881.92 456.37,889.12 456.52,896.30 456.42,903.45 456.06,910.56 455.44,917.62 454.56,924.63 453.43,931.58 452.05,938.47 450.42,945.29 448.53,952.02 446.39,958.67 444.01,965.23 441.38,971.69 438.51,978.04 435.40,984.28 432.06,990.41 428.48,996.41 424.67,1002.28 420.64,1008.01 416.39,1013.61 411.91,1019.05 407.23,1024.35 402.34,1029.49 397.24,1034.46 391.94,1039.27 386.46,1043.91 380.78,1048.37 374.92,1052.65 368.89,1056.74 362.68,1060.64 356.31,1064.36 349.78,1067.87 343.10,1071.18 336.28,1074.30 329.31,1077.20 322.22,1079.90 315.00,1082.38 307.66,1084.65 300.22,1086.70 292.67,1088.53 285.02,1090.14 277.29,1091.53 269.48,1092.70 261.59,1093.64 253.64,1094.36 245.64,1094.85 237.58,1095.11 229.49,1095.15 221.36,1094.96 213.20,1094.54 205.03,1093.90 196.85,1093.02 188.67,1091.93 180.50,1090.61 172.34,1089.07 164.21,1087.31 156.10,1085.32 148.04,1083.12 140.02,1080.71 132.06,1078.08 124.17,1075.24 116.34,1072.20 108.59,1068.95 100.93,1065.49 93.36,1061.84 85.90,1058.00 78.54,1053.97 71.30,1049.75 64.18,1045.34 57.19,1040.76 50.34,1036.01 43.63,1031.09 37.08,1026.00 30.68,1020.75 24.44,1015.35 18.37,1009.81 12.48,1004.12 6.77,998.29 1.25,992.33 -4.08,986.24 -9.22,980.04 -14.15,973.72 -18.87,967.29 -23.38,960.77 -27.68,954.15 -31.75,947.44 -35.60,940.65 -39.22,933.78 -42.61,926.85 -45.76,919.86 -48.67,912.81 -51.35,905.71 -53.78,898.58 -55.96,891.41 -57.89,884.21 -59.57,877.00 -61.00,869.77 -62.18,862.54 -63.10,855.32 -63.77,848.10 -64.17,840.90 -64.33,833.72 -64.22,826.57 -63.86,819.46 -63.24,812.40 -62.37,805.39 -61.24,798.44 -59.85,791.55 -58.22,784.73 -56.33,778.00 -54.20,771.35 -51.81,764.79 -49.19,758.33 -46.32,751.98 -43.21,745.74 -39.86,739.61 -36.28,733.61 -32.48,727.74 -28.44,722.01 -24.19,716.42 -19.72,710.97 -15.03,705.67 -10.14,700.53 -5.04,695.56"/>
<polyline points="17.14,714.24 21.85,709.97 26.73,705.84 31.78,701.87 36.99,698.07 42.36,694.42 47.89,690.95 53.55,687.65 59.36,684.52 65.31,681.57 71.38,678.80 77.57,676.22 83.89,673.82 90.31,671.61 96.84,669.59 103.46,667.77 110.18,666.14 116.98,664.70 123.86,663.47 130.81,662.43 137.83,661.59 144.90,660.95 152.02,660.52 159.19,660.28 166.39,660.25 173.63,660.42 180.88,660.79 188.15,661.36 195.43,662.14 202.71,663.11 209.98,664.29 217.24,665.66 224.47,667.23 231.68,668.99 238.86,670.95 245.99,673.10 253.07,675.44 260.10,677.96 267.06,680.67 273.96,683.56 280.77,686.63 287.51,689.88 294.15,693.30 300.69,696.89 307.14,700.64 313.47,704.56 319.69,708.64 325.78,712.87 331.75,717.25 337.58,721.77 343.28,726.44 348.83,731.25 354.22,736.18 359.47,741.24 364.55,746.43 369.46,751.73 374.21,757.15 378.77,762.67 383.16,768.29 387.36,774.01 391.38,779.81 395.20,785.70 398.82,791.67 402.25,797.71 405.47,803.82 408.48,809.99 411.29,816.21 413.88,822.48 416.26,828.80 418.42,835.15 420.36,841.52 422.08,847.92 423.58,854.34 424.85,860.77 425.90,867.20 426.71,873.63 427.31,880.06 427.67,886.46 427.81,892.85 427.71,899.21 427.39,905.53 426.84,911.82 426.06,918.06 425.06,924.24 423.83,930.37 422.37,936.43 420.69,942.43 418.79,948.34 416.67,954.18 414.33,959.92 411.78,965.58 409.02,971.13 406.04,976.58 402.86,981.92 399.47,987.14 395.88,992.24 392.10,997.22 388.12,1002.07 383.95,1006.78 379.59,1011.35 375.06,1015.78 370.35,1020.05 365.47,1024.18 360.41,1028.15 355.20,1031.95 349.83,1035.60 344.31,1039.07 338.64,1042.37 332.84,1045.50 326.89,1048.45 320.82,1051.22 314.62,1053.80 308.31,1056.20 301.89,1058.41 295.36,1060.43 288.74,1062.25 282.02,1063.88 275.22,1065.32 268.34,1066.56 261.39,1067.59 254.37,1068.43 247.30,1069.07 240.17,1069.50 233.01,1069.74 225.80,1069.77 218.57,1069.60 211.32,1069.23 204.05,1068.66 196.77,1067.88 189.49,1066.91 182.22,1065.73 174.96,1064.36 167.72,1062.79 160.51,1061.03 153.34,1059.07 146.21,1056.92 139.12,1054.58 132.10,1052.06 125.13,1049.35 118.24,1046.46 111.42,1043.39 104.69,1040.14 98.05,1036.72 91.50,1033.13 85.06,1029.38 78.73,1025.46 72.51,1021.38 66.41,1017.15 60.45,1012.77 54.61,1008.25 48.92,1003.58 43.37,998.78 37.97,993.84 32.73,988.78 27.65,983.59 22.74,978.29 17.99,972.87 13.42,967.35 9.04,961.73 4.83,956.02 0.82,950.21 -3.00,944.32 -6.63,938.35 -10.05,932.31 -13.27,926.20 -16.29,920.03 -19.09,913.81 -21.68,907.54 -24.06,901.22 -26.22,894.88 -28.16,888.50 -29.88,882.10 -31.38,875.68 -32.65,869.25 -33.70,862.82 -34.52,856.39 -35.11,849.96 -35.47,843.56 -35.61,837.17 -35.52,830.81 -35.19,824.49 -34.64,818.20 -33.87,811.96 -32.86,805.78 -31.63,799.65 -30.18,793.59 -28.50,787.59 -26.60,781.68 -24.48,775.84 -22.14,770.10 -19.58,764.44 -16.82,758.89 -13.84,753.44 -10.66,748.10 -7.27,742.88 -3.68,737.78 0.10,732.80 4.08,727.95 8.25,723.24 12.60,718.67 17.14,714.24"/>
<polyline points="42.49,735.60 46.53,731.93 50.72,728.39 55.06,724.98 59.53,721.71 64.14,718.59 68.88,715.61 73.74,712.77 78.73,710.09 83.83,707.56 89.04,705.18 94.36,702.96 99.78,700.90 105.29,699.01 110.90,697.27 116.58,695.71 122.35,694.31 128.19,693.08 134.09,692.01 140.06,691.12 146.08,690.40 152.15,689.86 158.27,689.48 164.42,689.28 170.60,689.25 176.81,689.40 183.04,689.72 189.28,690.21 195.52,690.88 201.77,691.71 208.01,692.72 214.24,693.90 220.45,695.24 226.64,696.76 232.80,698.44 238.92,700.28 245.00,702.29 251.03,704.46 257.01,706.78 262.93,709.27 268.78,711.90 274.56,714.69 280.26,717.62 285.88,720.70 291.41,723.93 296.84,727.29 302.18,730.79 307.41,734.42 312.54,738.18 317.54,742.06 322.43,746.07 327.19,750.19 331.83,754.43 336.33,758.78 340.69,763.23 344.90,767.78 348.98,772.43 352.90,777.16 356.66,781.99 360.27,786.90 363.72,791.88 367.00,796.94 370.11,802.06 373.05,807.25 375.81,812.49 378.40,817.78 380.81,823.13 383.03,828.51 385.07,833.93 386.93,839.38 388.59,844.85 390.07,850.34 391.35,855.85 392.45,861.37 393.34,866.89 394.05,872.41 394.56,877.93 394.87,883.43 394.99,888.91 394.90,894.36 394.63,899.79 394.16,905.19 393.49,910.54 392.63,915.85 391.57,921.11 390.32,926.32 388.88,931.46 387.25,936.54 385.43,941.55 383.42,946.48 381.23,951.33 378.86,956.10 376.30,960.78 373.57,965.36 370.66,969.84 367.58,974.22 364.33,978.49 360.92,982.65 357.34,986.70 353.60,990.62 349.71,994.42 345.67,998.09 341.47,1001.63 337.14,1005.04 332.67,1008.31 328.06,1011.43 323.32,1014.42 318.45,1017.25 313.47,1019.93 308.37,1022.47 303.15,1024.84 297.84,1027.06 292.42,1029.12 286.90,1031.01 281.30,1032.75 275.61,1034.31 269.85,1035.71 264.01,1036.95 258.11,1038.01 252.14,1038.90 246.12,1039.62 240.05,1040.16 233.93,1040.54 227.78,1040.74 221.60,1040.77 215.39,1040.62 209.16,1040.30 202.92,1039.81 196.67,1039.15 190.43,1038.31 184.18,1037.30 177.95,1036.12 171.74,1034.78 165.55,1033.26 159.40,1031.58 153.27,1029.74 147.19,1027.73 141.16,1025.56 135.19,1023.24 129.27,1020.76 123.42,1018.12 117.64,1015.33 111.94,1012.40 106.32,1009.32 100.79,1006.09 95.35,1002.73 90.02,999.23 84.78,995.60 79.66,991.84 74.65,987.96 69.77,983.95 65.00,979.83 60.37,975.59 55.87,971.25 51.51,966.79 47.29,962.24 43.22,957.60 39.30,952.86 35.53,948.03 31.93,943.12 28.48,938.14 25.20,933.08 22.09,927.96 19.15,922.77 16.39,917.53 13.80,912.24 11.39,906.90 9.16,901.51 7.12,896.09 5.27,890.65 3.60,885.17 2.13,879.68 0.84,874.17 -0.25,868.65 -1.15,863.13 -1.85,857.61 -2.36,852.10 -2.67,846.60 -2.79,841.11 -2.71,835.66 -2.43,830.23 -1.96,824.83 -1.29,819.48 -0.43,814.17 0.63,808.91 1.88,803.70 3.32,798.56 4.95,793.48 6.77,788.47 8.78,783.54 10.97,778.69 13.34,773.92 15.90,769.25 18.63,764.66 21.54,760.18 24.62,755.80 27.86,751.53 31.28,747.37 34.86,743.32 38.59,739.40 42.49,735.60"/>
<polyline points="72.95,761.26 76.19,758.32 79.55,755.48 83.03,752.75 86.61,750.13 90.31,747.62 94.11,745.23 98.01,742.96 102.00,740.81 106.09,738.78 110.27,736.87 114.54,735.10 118.88,733.45 123.30,731.93 127.79,730.54 132.35,729.28 136.97,728.16 141.65,727.17 146.39,726.32 151.17,725.61 156.00,725.03 160.87,724.59 165.77,724.29 170.70,724.13 175.66,724.11 180.63,724.22 185.63,724.48 190.63,724.87 195.64,725.41 200.65,726.08 205.65,726.89 210.64,727.83 215.62,728.91 220.59,730.12 225.52,731.47 230.43,732.95 235.30,734.56 240.14,736.30 244.93,738.16 249.68,740.15 254.37,742.26 259.00,744.50 263.57,746.85 268.07,749.32 272.51,751.90 276.87,754.60 281.14,757.40 285.34,760.32 289.45,763.33 293.46,766.44 297.38,769.66 301.20,772.96 304.91,776.36 308.52,779.84 312.01,783.41 315.40,787.06 318.66,790.79 321.80,794.58 324.82,798.45 327.71,802.39 330.48,806.38 333.11,810.44 335.60,814.54 337.96,818.70 340.17,822.90 342.25,827.15 344.18,831.43 345.96,835.75 347.60,840.09 349.09,844.46 350.42,848.85 351.60,853.25 352.63,857.67 353.51,862.09 354.23,866.52 354.79,870.95 355.20,875.36 355.45,879.77 355.55,884.17 355.48,888.54 355.26,892.90 354.88,897.22 354.35,901.51 353.65,905.77 352.81,909.99 351.81,914.16 350.65,918.28 349.34,922.36 347.88,926.37 346.28,930.32 344.52,934.21 342.61,938.04 340.57,941.78 338.38,945.46 336.04,949.05 333.58,952.56 330.97,955.99 328.23,959.32 325.36,962.57 322.37,965.71 319.25,968.76 316.01,971.70 312.65,974.54 309.17,977.27 305.58,979.89 301.89,982.40 298.09,984.79 294.19,987.06 290.19,989.21 286.10,991.24 281.92,993.15 277.66,994.92 273.32,996.57 268.90,998.10 264.40,999.48 259.85,1000.74 255.22,1001.86 250.54,1002.85 245.81,1003.70 241.03,1004.42 236.20,1004.99 231.33,1005.43 226.43,1005.73 221.50,1005.89 216.54,1005.91 211.56,1005.80 206.57,1005.54 201.57,1005.15 196.56,1004.61 191.55,1003.94 186.55,1003.14 181.55,1002.19 176.57,1001.11 171.61,999.90 166.67,998.55 161.77,997.07 156.89,995.46 152.06,993.73 147.27,991.86 142.52,989.87 137.83,987.76 133.20,985.52 128.63,983.17 124.12,980.70 119.69,978.12 115.33,975.42 111.05,972.62 106.86,969.71 102.75,966.69 98.74,963.58 94.82,960.37 91.00,957.06 87.29,953.66 83.68,950.18 80.18,946.61 76.80,942.96 73.54,939.24 70.39,935.44 67.37,931.57 64.48,927.63 61.72,923.64 59.09,919.58 56.60,915.48 54.24,911.32 52.02,907.12 49.95,902.87 48.02,898.59 46.23,894.27 44.60,889.93 43.11,885.56 41.78,881.17 40.59,876.77 39.56,872.35 38.69,867.93 37.97,863.50 37.40,859.08 37.00,854.66 36.75,850.25 36.65,845.85 36.72,841.48 36.94,837.12 37.32,832.80 37.85,828.51 38.54,824.25 39.39,820.03 40.39,815.86 41.55,811.74 42.85,807.67 44.31,803.65 45.92,799.70 47.68,795.81 49.58,791.99 51.63,788.24 53.82,784.56 56.15,780.97 58.62,777.46 61.23,774.03 63.96,770.70 66.83,767.46 69.83,764.31 72.95,761.26"/>
<polyline points="114.03,795.87 116.19,793.91 118.43,792.02 120.75,790.20 123.14,788.45 125.60,786.78 128.13,785.19 130.73,783.67 133.39,782.24 136.12,780.89 138.90,779.62 141.74,778.43 144.64,777.33 147.58,776.32 150.58,775.40 153.62,774.56 156.70,773.81 159.82,773.15 162.97,772.59 166.16,772.11 169.38,771.73 172.62,771.43 175.89,771.23 179.17,771.13 182.48,771.11 185.79,771.19 189.12,771.36 192.45,771.62 195.79,771.98 199.13,772.42 202.46,772.96 205.79,773.59 209.11,774.31 212.42,775.12 215.71,776.02 218.98,777.00 222.23,778.07 225.45,779.23 228.64,780.48 231.80,781.80 234.93,783.21 238.02,784.70 241.06,786.27 244.06,787.91 247.02,789.64 249.92,791.43 252.77,793.30 255.57,795.24 258.31,797.25 260.98,799.32 263.59,801.46 266.14,803.67 268.61,805.93 271.02,808.25 273.35,810.63 275.60,813.06 277.78,815.55 279.87,818.08 281.88,820.66 283.81,823.28 285.65,825.94 287.40,828.64 289.06,831.38 290.63,834.15 292.11,836.95 293.49,839.78 294.78,842.63 295.97,845.51 297.06,848.40 298.05,851.31 298.94,854.24 299.73,857.18 300.42,860.12 301.00,863.07 301.48,866.02 301.86,868.97 302.13,871.91 302.29,874.85 302.36,877.78 302.31,880.69 302.17,883.59 301.91,886.48 301.56,889.34 301.10,892.17 300.53,894.98 299.86,897.76 299.09,900.51 298.22,903.23 297.25,905.90 296.18,908.54 295.01,911.13 293.74,913.68 292.37,916.17 290.91,918.62 289.36,921.02 287.72,923.36 285.98,925.64 284.15,927.86 282.24,930.02 280.25,932.12 278.17,934.15 276.01,936.11 273.77,938.00 271.45,939.82 269.06,941.57 266.60,943.24 264.07,944.83 261.47,946.35 258.80,947.78 256.08,949.13 253.29,950.40 250.45,951.59 247.56,952.69 244.61,953.70 241.62,954.63 238.58,955.46 235.50,956.21 232.38,956.87 229.23,957.44 226.04,957.91 222.82,958.30 219.58,958.59 216.31,958.79 213.02,958.90 209.72,958.91 206.40,958.83 203.08,958.66 199.74,958.40 196.41,958.04 193.07,957.60 189.73,957.06 186.40,956.43 183.09,955.71 179.78,954.90 176.49,954.00 173.22,953.02 169.97,951.95 166.75,950.79 163.56,949.55 160.39,948.22 157.27,946.81 154.18,945.32 151.13,943.75 148.13,942.11 145.18,940.39 142.27,938.59 139.42,936.72 136.63,934.78 133.89,932.77 131.22,930.70 128.60,928.56 126.06,926.35 123.58,924.09 121.18,921.77 118.85,919.39 116.60,916.96 114.42,914.48 112.33,911.94 110.32,909.37 108.39,906.74 106.55,904.08 104.79,901.38 103.13,898.64 101.56,895.87 100.09,893.07 98.70,890.24 97.42,887.39 96.23,884.51 95.14,881.62 94.15,878.71 93.26,875.78 92.47,872.85 91.78,869.90 91.20,866.95 90.72,864.00 90.34,861.06 90.07,858.11 89.90,855.17 89.84,852.24 89.88,849.33 90.03,846.43 90.28,843.55 90.64,840.68 91.10,837.85 91.67,835.04 92.33,832.26 93.10,829.51 93.97,826.80 94.95,824.12 96.02,821.48 97.19,818.89 98.46,816.35 99.82,813.85 101.28,811.40 102.84,809.00 104.48,806.66 106.22,804.38 108.04,802.16 109.95,800.00 111.95,797.90 114.03,795.87"/>
</g>
<rect x="54.60" y="680.30" width="292.50" height="260.50" fill="none" stroke="#555" stroke-width="0.8"/>
<rect x="211.35" y="685.60" width="7.90" height="8.2" fill="#fff" stroke="#333" stroke-width="0.7"/>
<text x="215.30" y="692.60" font-size="7.80" text-anchor="middle" font-family="Liberation Sans, sans-serif" fill="#222" stroke="#222" stroke-width="0.15">5</text>
<rect x="306.85" y="694.20" width="7.90" height="8.2" fill="#fff" stroke="#333" stroke-width="0.7"/>
<text x="310.80" y="701.20" font-size="7.80" text-anchor="middle" font-family="Liberation Sans, sans-serif" fill="#222" stroke="#222" stroke-width="0.15">0</text>
<rect x="329.70" y="681.40" width="12.20" height="8.2" fill="#fff" stroke="#333" stroke-width="0.7"/>
<text x="335.80" y="688.40" font-size="7.80" text-anchor="middle" font-family="Liberation Sans, sans-serif" fill="#222" stroke="#222" stroke-width="0.15">-5</text>
<rect x="212.90" y="721.70" width="12.20" height="8.2" fill="#fff" stroke="#333" stroke-width="0.7"/>
<text x="219.00" y="728.70" font-size="7.80" text-anchor="middle" font-family="Liberation Sans, sans-serif" fill="#222" stroke="#222" stroke-width="0.15">10</text>
<rect x="176.50" y="763.00" width="12.20" height="8.2" fill="#fff" stroke="#333" stroke-width="0.7"/>
<text x="182.60" y="770.00" font-size="7.80" text-anchor="middle" font-family="Liberation Sans, sans-serif" fill="#222" stroke="#222" stroke-width="0.15">15</text>
<rect x="56.10" y="915.90" width="12.20" height="8.2" fill="#fff" stroke="#333" stroke-width="0.7"/>
<text x="62.20" y="922.90" font-size="7.80" text-anchor="middle" font-family="Liberation Sans, sans-serif" fill="#222" stroke="#222" stroke-width="0.15">10</text>
<g stroke="#999" stroke-width="0.8">
<line x1="54.60" y1="940.80" x2="54.60" y2="945.80"/>
<line x1="48.60" y1="680.30" x2="54.60" y2="680.30"/>
<line x1="127.72" y1="940.80" x2="127.72" y2="945.80"/>
<line x1="48.60" y1="745.42" x2="54.60" y2="745.42"/>
<line x1="200.85" y1="940.80" x2="200.85" y2="945.80"/>
<line x1="48.60" y1="810.55" x2="54.60" y2="810.55"/>
<line x1="273.98" y1="940.80" x2="273.98" y2="945.80"/>
<line x1="48.60" y1="875.67" x2="54.60" y2="875.67"/>
<line x1="347.10" y1="940.80" x2="347.10" y2="945.80"/>
<line x1="48.60" y1="940.80" x2="54.60" y2="940.80"/>
</g>
<text x="54.60" y="959.50" font-size="10.50" text-anchor="middle" font-family="Liberation Sans, sans-serif" fill="#222" stroke="#222" stroke-width="0.30">-2</text>
<text x="44.90" y="939.30" font-size="10.50" text-anchor="end" font-family="Liberation Sans, sans-serif" fill="#222" stroke="#222" stroke-width="0.30">-2</text>
<text x="127.72" y="959.50" font-size="10.50" text-anchor="middle" font-family="Liberation Sans, sans-serif" fill="#222" stroke="#222" stroke-width="0.30">-1</text>
<text x="44.90" y="874.17" font-size="10.50" text-anchor="end" font-family="Liberation Sans, sans-serif" fill="#222" stroke="#222" stroke-width="0.30">-1</text>
<text x="200.85" y="959.50" font-size="10.50" text-anchor="middle" font-family="Liberation Sans, sans-serif" fill="#222" stroke="#222" stroke-width="0.30">0</text>
<text x="44.90" y="809.05" font-size="10.50" text-anchor="end" font-family="Liberation Sans, sans-serif" fill="#222" stroke="#222" stroke-width="0.30">0</text>
<text x="273.98" y="959.50" font-size="10.50" text-anchor="middle" font-family="Liberation Sans, sans-serif" fill="#222" stroke="#222" stroke-width="0.30">1</text>
<text x="44.90" y="743.92" font-size="10.50" text-anchor="end" font-family="Liberation Sans, sans-serif" fill="#222" stroke="#222" stroke-width="0.30">1</text>
<text x="347.10" y="959.50" font-size="10.50" text-anchor="middle" font-family="Liberation Sans, sans-serif" fill="#222" stroke="#222" stroke-width="0.30">2</text>
<text x="44.90" y="678.80" font-size="10.50" text-anchor="end" font-family="Liberation Sans, sans-serif" fill="#222" stroke="#222" stroke-width="0.30">2</text>
<circle cx="200.85" cy="680.30" r="2.9" fill="#d80000" stroke="#5a0000" stroke-width="1.0"/>
<circle cx="200.85" cy="940.80" r="2.9" fill="#d80000" stroke="#5a0000" stroke-width="1.0"/>
<circle cx="54.60" cy="810.55" r="2.9" fill="#d80000" stroke="#5a0000" stroke-width="1.0"/>
<circle cx="347.10" cy="810.55" r="2.9" fill="#d80000" stroke="#5a0000" stroke-width="1.0"/>
<circle cx="200.85" cy="810.55" r="2.9" fill="#d80000" stroke="#5a0000" stroke-width="1.0"/>
<text x="194.65" y="813.55" font-size="8.50" text-anchor="end" font-family="Liberation Sans, sans-serif" fill="#222" stroke="#222" stroke-width="0.20">3</text>
<text x="200.00" y="675.60" font-size="15.00" text-anchor="middle" font-family="Liberation Sans, sans-serif" fill="#111" textLength="162.50" lengthAdjust="spacingAndGlyphs" stroke="#111" stroke-width="0.30">Glutamic acid (mg.mL)</text>
<text x="200.90" y="977.50" font-size="11.50" text-anchor="middle" font-family="Liberation Sans, sans-serif" fill="#111" textLength="83.00" lengthAdjust="spacingAndGlyphs" stroke="#111" stroke-width="0.30">glucose  (g.dL)</text>
<text x="0" y="0" font-size="11.00" text-anchor="middle" font-family="Liberation Sans, sans-serif" fill="#111" textLength="57.50" lengthAdjust="spacingAndGlyphs" transform="translate(13.20 809.00) rotate(-90)" stroke="#111" stroke-width="0.30">urea  (g.dL)</text>
<g fill="none" stroke="#3c3c3c" stroke-width="1.0">
<polyline points="398.65,173.52 528.85,128.33 660.35,173.81"/>
<polyline points="397.01,138.81 528.89,97.00 661.91,139.19"/>
<polyline points="395.38,104.11 528.92,65.67 663.48,104.56"/>
<polyline points="393.74,69.40 528.96,34.33 665.04,69.93"/>
<polyline points="392.10,34.70 529.00,3.00 666.60,35.30"/>
</g>
<g fill="none" stroke="#6e6e6e" stroke-width="1.0">
<line x1="431.20" y1="162.22" x2="426.33" y2="26.78"/>
<line x1="627.48" y1="162.44" x2="632.20" y2="27.22"/>
<line x1="463.75" y1="150.93" x2="460.55" y2="18.85"/>
<line x1="594.60" y1="151.07" x2="597.80" y2="19.15"/>
<line x1="496.30" y1="139.63" x2="494.77" y2="10.93"/>
<line x1="561.72" y1="139.70" x2="563.40" y2="11.07"/>
<line x1="400.70" y1="216.90" x2="392.10" y2="34.70"/>
<line x1="528.80" y1="167.50" x2="529.00" y2="3.00"/>
<line x1="658.40" y1="217.10" x2="666.60" y2="35.30"/>
</g>
<circle cx="398.65" cy="173.52" r="1.2" fill="#111"/>
<circle cx="397.01" cy="138.81" r="1.2" fill="#111"/>
<circle cx="395.38" cy="104.11" r="1.2" fill="#111"/>
<circle cx="393.74" cy="69.40" r="1.2" fill="#111"/>
<circle cx="392.10" cy="34.70" r="1.2" fill="#111"/>
<polygon points="400.70,216.90 528.80,167.50 658.40,217.10 528.70,280.50" fill="#646464" stroke="#2a2a2a" stroke-width="0.8"/>
<defs><clipPath id="fc1"><polygon points="400.70,216.90 528.80,167.50 658.40,217.10 528.70,280.50"/></clipPath></defs>
<g clip-path="url(#fc1)" fill="none" stroke-width="1.5">
<polyline points="559.61,365.32 556.12,365.47 552.63,365.52 549.13,365.48 545.62,365.35 542.12,365.13 538.62,364.82 535.13,364.41 531.64,363.92 528.17,363.33 524.71,362.66 521.26,361.89 517.83,361.04 514.42,360.10 511.03,359.07 507.66,357.96 504.32,356.76 501.01,355.49 497.73,354.13 494.49,352.69 491.28,351.17 488.10,349.58 484.97,347.91 481.88,346.17 478.83,344.36 475.82,342.48 472.87,340.53 469.96,338.52 467.10,336.44 464.30,334.30 461.55,332.11 458.86,329.86 456.23,327.55 453.66,325.20 451.15,322.79 448.70,320.34 446.32,317.84 444.00,315.30 441.76,312.72 439.58,310.11 437.48,307.46 435.44,304.78 433.48,302.07 431.60,299.33 429.79,296.57 428.06,293.79 426.41,290.99 424.84,288.17 423.35,285.34 421.93,282.50 420.61,279.65 419.36,276.79 418.20,273.93 417.13,271.07 416.14,268.21 415.23,265.35 414.42,262.49 413.69,259.65 413.04,256.81 412.49,253.98 412.02,251.17 411.65,248.38 411.36,245.60 411.16,242.84 411.05,240.11 411.04,237.40 411.11,234.71 411.27,232.05 411.52,229.42 411.85,226.82 412.28,224.26 412.80,221.72 413.40,219.22 414.10,216.76 414.88,214.34 415.74,211.95 416.70,209.60 417.74,207.30 418.87,205.03 420.08,202.81 421.37,200.64 422.75,198.51 424.21,196.42 425.75,194.38 427.37,192.39 429.07,190.45 430.85,188.55 432.71,186.71 434.64,184.91 436.65,183.16 438.73,181.47 440.88,179.82 443.10,178.23 445.39,176.69 447.75,175.20 450.18,173.76 452.67,172.38 455.22,171.04 457.84,169.76 460.51,168.54 463.24,167.36 466.03,166.24 468.87,165.17 471.77,164.16 474.71,163.20 477.71,162.29 480.75,161.43 483.83,160.63 486.96,159.88 490.13,159.18 493.34,158.53 496.58,157.94 499.86,157.40 503.16,156.92 506.50,156.49 509.87,156.10 513.26,155.78 516.67,155.50 520.11,155.28 523.56,155.11 527.02,154.99 530.51,154.92 534.00,154.91 537.50,154.95 541.01,155.04 544.52,155.18 548.03,155.38 551.54,155.62 555.05,155.92 558.55,156.27 562.04,156.68 565.53,157.13 569.00,157.64 572.45,158.20 575.89,158.82 579.30,159.48 582.70,160.20 586.07,160.97 589.41,161.79 592.72,162.66 596.00,163.59 599.24,164.56 602.45,165.59 605.62,166.68 608.74,167.81 611.83,169.00 614.86,170.23 617.85,171.52 620.79,172.86 623.68,174.26 626.52,175.70 629.29,177.19 632.01,178.74 634.67,180.33 637.27,181.98 639.80,183.67 642.27,185.42 644.67,187.21 647.00,189.06 649.26,190.95 651.44,192.88 653.56,194.87 655.59,196.90 657.55,198.98 659.43,201.10 661.23,203.26 662.95,205.47 664.59,207.72 666.15,210.01 667.61,212.35 669.00,214.72 670.29,217.13 671.50,219.57 672.62,222.06 673.65,224.57 674.59,227.12 675.44,229.70 676.19,232.31 676.86,234.95 677.43,237.62 677.91,240.31 678.29,243.02 678.59,245.76 678.78,248.52 678.89,251.29 678.90,254.08 678.81,256.88 678.64,259.70 678.36,262.53 678.00,265.36 677.54,268.20 676.99,271.04 676.34,273.89 675.61,276.73 674.78,279.57 673.86,282.40 672.85,285.23 671.75,288.04 670.57,290.84 669.29,293.63 667.93,296.40 666.48,299.14 664.95,301.87 663.33,304.56 661.63,307.23 659.85,309.87 657.99,312.48 656.05,315.05 654.04,317.58 651.94,320.07 649.78,322.52 647.54,324.92 645.23,327.27 642.85,329.57 640.41,331.82 637.89,334.02 635.32,336.15 632.68,338.23 629.98,340.25 627.22,342.20 624.41,344.08 621.54,345.90 618.62,347.65 615.65,349.32 612.63,350.93 609.57,352.45 606.46,353.90 603.31,355.27 600.12,356.56 596.89,357.77 593.63,358.89 590.34,359.93 587.01,360.88 583.66,361.75 580.28,362.53 576.88,363.22 573.46,363.82 570.02,364.33 566.57,364.75 563.10,365.08 559.61,365.32" stroke="#0000ff"/>
<polyline points="558.14,352.08 555.02,352.20 551.89,352.25 548.76,352.22 545.63,352.10 542.49,351.91 539.36,351.63 536.24,351.28 533.12,350.84 530.01,350.33 526.91,349.74 523.83,349.07 520.76,348.32 517.70,347.50 514.67,346.60 511.66,345.63 508.67,344.58 505.70,343.46 502.77,342.27 499.86,341.01 496.99,339.68 494.14,338.29 491.34,336.82 488.57,335.30 485.84,333.71 483.14,332.06 480.50,330.35 477.89,328.59 475.33,326.76 472.82,324.89 470.36,322.96 467.95,320.98 465.59,318.96 463.29,316.88 461.04,314.77 458.85,312.61 456.71,310.41 454.64,308.18 452.63,305.90 450.67,303.60 448.79,301.26 446.97,298.90 445.21,296.51 443.52,294.09 441.90,291.65 440.35,289.20 438.87,286.72 437.46,284.23 436.12,281.72 434.86,279.20 433.67,276.67 432.55,274.14 431.51,271.60 430.55,269.06 429.66,266.51 428.85,263.97 428.12,261.43 427.46,258.89 426.89,256.37 426.39,253.85 425.98,251.34 425.64,248.84 425.38,246.36 425.20,243.89 425.11,241.45 425.09,239.02 425.15,236.61 425.30,234.22 425.52,231.86 425.83,229.53 426.21,227.22 426.67,224.94 427.22,222.69 427.84,220.46 428.54,218.28 429.32,216.12 430.17,214.00 431.11,211.91 432.12,209.86 433.20,207.85 434.36,205.88 435.60,203.94 436.91,202.05 438.29,200.19 439.75,198.38 441.27,196.61 442.87,194.88 444.53,193.19 446.26,191.55 448.06,189.96 449.92,188.40 451.85,186.90 453.85,185.44 455.90,184.02 458.01,182.65 460.19,181.33 462.42,180.06 464.71,178.83 467.05,177.65 469.45,176.52 471.89,175.43 474.39,174.40 476.94,173.41 479.53,172.47 482.17,171.58 484.85,170.74 487.57,169.94 490.34,169.20 493.14,168.50 495.97,167.85 498.84,167.26 501.75,166.71 504.68,166.20 507.64,165.75 510.63,165.35 513.64,164.99 516.67,164.69 519.73,164.43 522.80,164.22 525.89,164.06 528.99,163.95 532.10,163.88 535.23,163.87 538.36,163.91 541.50,163.99 544.63,164.12 547.78,164.30 550.92,164.53 554.05,164.81 557.18,165.13 560.31,165.51 563.42,165.93 566.52,166.40 569.61,166.92 572.68,167.48 575.73,168.10 578.77,168.76 581.78,169.48 584.76,170.24 587.72,171.04 590.65,171.90 593.55,172.80 596.41,173.75 599.24,174.75 602.04,175.80 604.79,176.89 607.51,178.03 610.18,179.22 612.80,180.45 615.38,181.73 617.91,183.06 620.39,184.43 622.82,185.85 625.19,187.31 627.51,188.82 629.77,190.37 631.98,191.97 634.12,193.61 636.20,195.29 638.21,197.02 640.17,198.79 642.05,200.59 643.87,202.44 645.62,204.33 647.30,206.26 648.91,208.22 650.44,210.23 651.90,212.27 653.29,214.34 654.60,216.45 655.83,218.60 656.99,220.77 658.07,222.98 659.07,225.22 659.99,227.48 660.82,229.78 661.58,232.10 662.26,234.45 662.85,236.82 663.36,239.21 663.79,241.62 664.13,244.05 664.39,246.50 664.57,248.97 664.67,251.45 664.67,253.94 664.60,256.44 664.44,258.95 664.20,261.47 663.87,264.00 663.47,266.52 662.97,269.05 662.40,271.58 661.74,274.10 661.00,276.62 660.18,279.14 659.28,281.64 658.30,284.13 657.25,286.61 656.11,289.08 654.89,291.52 653.60,293.95 652.23,296.36 650.79,298.74 649.27,301.10 647.69,303.42 646.03,305.72 644.30,307.98 642.50,310.21 640.63,312.41 638.70,314.56 636.70,316.67 634.64,318.74 632.51,320.76 630.33,322.74 628.09,324.67 625.79,326.54 623.43,328.37 621.02,330.14 618.56,331.85 616.04,333.50 613.48,335.09 610.88,336.62 608.22,338.09 605.53,339.49 602.79,340.83 600.01,342.09 597.20,343.29 594.35,344.42 591.46,345.48 588.55,346.46 585.61,347.37 582.64,348.20 579.64,348.96 576.62,349.64 573.58,350.24 570.52,350.77 567.44,351.21 564.35,351.58 561.25,351.87 558.14,352.08" stroke="#0000ff"/>
<polyline points="556.43,337.33 553.73,337.44 551.02,337.48 548.31,337.45 545.60,337.35 542.88,337.18 540.17,336.95 537.46,336.65 534.76,336.28 532.07,335.85 529.38,335.35 526.71,334.79 524.05,334.15 521.40,333.46 518.77,332.70 516.16,331.88 513.57,330.99 511.00,330.05 508.46,329.04 505.94,327.98 503.44,326.85 500.98,325.67 498.54,324.44 496.14,323.15 493.77,321.80 491.44,320.41 489.14,318.96 486.88,317.46 484.66,315.92 482.48,314.33 480.35,312.70 478.26,311.02 476.21,309.30 474.21,307.54 472.26,305.74 470.35,303.91 468.50,302.04 466.70,300.14 464.96,298.21 463.26,296.24 461.62,294.25 460.04,292.24 458.52,290.20 457.05,288.14 455.65,286.05 454.30,283.95 453.01,281.84 451.79,279.70 450.63,277.56 449.53,275.40 448.50,273.23 447.53,271.06 446.63,268.88 445.79,266.69 445.02,264.51 444.32,262.32 443.68,260.13 443.11,257.95 442.61,255.77 442.18,253.59 441.82,251.43 441.53,249.27 441.31,247.12 441.15,244.99 441.07,242.86 441.05,240.76 441.11,238.67 441.24,236.59 441.43,234.54 441.70,232.50 442.03,230.49 442.43,228.50 442.90,226.54 443.45,224.60 444.05,222.68 444.73,220.79 445.47,218.93 446.29,217.10 447.16,215.30 448.11,213.54 449.12,211.80 450.19,210.09 451.33,208.42 452.53,206.79 453.79,205.18 455.11,203.62 456.50,202.09 457.94,200.60 459.45,199.14 461.01,197.72 462.63,196.34 464.30,195.00 466.03,193.70 467.81,192.44 469.65,191.22 471.54,190.04 473.47,188.90 475.46,187.81 477.49,186.75 479.57,185.74 481.69,184.76 483.86,183.84 486.07,182.95 488.32,182.10 490.61,181.30 492.93,180.55 495.29,179.83 497.69,179.16 500.12,178.53 502.58,177.95 505.06,177.40 507.58,176.91 510.12,176.45 512.69,176.04 515.28,175.68 517.89,175.36 520.52,175.08 523.16,174.84 525.82,174.65 528.50,174.51 531.19,174.41 533.88,174.35 536.59,174.33 539.30,174.36 542.02,174.44 544.74,174.55 547.46,174.72 550.17,174.92 552.89,175.17 555.60,175.46 558.30,175.80 561.00,176.18 563.68,176.60 566.35,177.07 569.01,177.58 571.65,178.14 574.28,178.73 576.88,179.37 579.46,180.06 582.02,180.78 584.56,181.55 587.06,182.36 589.54,183.21 591.99,184.11 594.41,185.05 596.79,186.03 599.13,187.05 601.44,188.11 603.71,189.21 605.94,190.36 608.13,191.54 610.27,192.76 612.37,194.03 614.42,195.33 616.43,196.67 618.38,198.05 620.29,199.47 622.14,200.92 623.93,202.41 625.68,203.94 627.36,205.50 628.99,207.10 630.56,208.73 632.08,210.40 633.53,212.10 634.91,213.83 636.24,215.59 637.50,217.38 638.70,219.21 639.83,221.06 640.90,222.94 641.90,224.84 642.83,226.77 643.69,228.73 644.49,230.71 645.21,232.71 645.87,234.73 646.45,236.78 646.96,238.84 647.41,240.92 647.77,243.01 648.07,245.12 648.30,247.24 648.45,249.38 648.53,251.52 648.54,253.68 648.48,255.84 648.34,258.01 648.13,260.18 647.85,262.36 647.50,264.53 647.07,266.71 646.58,268.88 646.01,271.05 645.38,273.21 644.67,275.37 643.89,277.51 643.04,279.65 642.13,281.77 641.15,283.88 640.10,285.97 638.98,288.05 637.80,290.10 636.56,292.13 635.25,294.14 633.88,296.12 632.44,298.08 630.95,300.01 629.39,301.90 627.78,303.77 626.11,305.60 624.38,307.39 622.60,309.15 620.77,310.87 618.88,312.54 616.94,314.18 614.95,315.77 612.92,317.31 610.83,318.81 608.70,320.26 606.53,321.65 604.32,323.00 602.06,324.29 599.77,325.53 597.44,326.72 595.07,327.85 592.67,328.92 590.23,329.93 587.77,330.88 585.27,331.77 582.75,332.60 580.21,333.37 577.63,334.07 575.04,334.71 572.43,335.28 569.80,335.79 567.15,336.23 564.49,336.61 561.81,336.92 559.13,337.16 556.43,337.33" stroke="#004fff"/>
<polyline points="554.36,320.24 552.15,320.32 549.94,320.35 547.73,320.33 545.51,320.25 543.30,320.12 541.08,319.93 538.87,319.70 536.66,319.41 534.46,319.06 532.27,318.67 530.08,318.22 527.91,317.72 525.75,317.17 523.60,316.57 521.46,315.92 519.35,315.22 517.25,314.47 515.17,313.67 513.10,312.83 511.07,311.94 509.05,311.00 507.06,310.02 505.09,308.99 503.16,307.93 501.25,306.82 499.37,305.67 497.52,304.48 495.70,303.25 493.92,301.99 492.17,300.69 490.46,299.35 488.79,297.98 487.15,296.58 485.55,295.15 483.99,293.68 482.48,292.19 481.00,290.67 479.57,289.13 478.19,287.56 476.85,285.96 475.55,284.35 474.30,282.71 473.10,281.06 471.95,279.39 470.85,277.70 469.80,276.00 468.79,274.28 467.84,272.56 466.94,270.82 466.10,269.07 465.31,267.31 464.57,265.55 463.88,263.79 463.25,262.02 462.67,260.24 462.15,258.47 461.69,256.70 461.28,254.93 460.93,253.16 460.63,251.39 460.39,249.64 460.21,247.88 460.09,246.14 460.02,244.41 460.01,242.68 460.05,240.97 460.16,239.27 460.32,237.58 460.53,235.91 460.81,234.26 461.14,232.62 461.53,231.00 461.97,229.40 462.47,227.81 463.02,226.25 463.63,224.71 464.30,223.20 465.02,221.70 465.79,220.23 466.62,218.79 467.50,217.37 468.43,215.98 469.41,214.61 470.45,213.27 471.53,211.96 472.67,210.68 473.85,209.43 475.08,208.21 476.36,207.02 477.69,205.86 479.06,204.73 480.47,203.63 481.93,202.57 483.43,201.54 484.98,200.54 486.56,199.58 488.19,198.65 489.85,197.75 491.55,196.89 493.29,196.07 495.06,195.28 496.87,194.52 498.71,193.80 500.58,193.12 502.48,192.47 504.41,191.86 506.37,191.29 508.36,190.75 510.37,190.25 512.40,189.79 514.46,189.36 516.54,188.97 518.64,188.62 520.75,188.31 522.88,188.03 525.03,187.79 527.19,187.59 529.37,187.43 531.55,187.30 533.75,187.21 535.95,187.16 538.16,187.15 540.37,187.17 542.59,187.23 544.81,187.33 547.03,187.47 549.25,187.64 551.47,187.86 553.68,188.11 555.88,188.39 558.08,188.72 560.27,189.08 562.45,189.48 564.62,189.91 566.77,190.38 568.91,190.89 571.04,191.44 573.14,192.02 575.23,192.64 577.30,193.29 579.34,193.98 581.36,194.71 583.36,195.47 585.32,196.27 587.27,197.10 589.18,197.96 591.06,198.86 592.91,199.79 594.72,200.76 596.51,201.76 598.25,202.80 599.96,203.86 601.63,204.96 603.27,206.09 604.86,207.25 606.41,208.44 607.92,209.66 609.38,210.91 610.80,212.19 612.17,213.50 613.50,214.83 614.78,216.20 616.01,217.59 617.19,219.00 618.32,220.45 619.40,221.91 620.43,223.40 621.41,224.91 622.33,226.45 623.20,228.00 624.01,229.58 624.77,231.17 625.47,232.79 626.12,234.42 626.71,236.07 627.24,237.73 627.72,239.41 628.13,241.10 628.49,242.81 628.79,244.52 629.04,246.25 629.22,247.98 629.35,249.73 629.41,251.48 629.42,253.23 629.37,254.99 629.26,256.76 629.09,258.52 628.86,260.29 628.57,262.05 628.23,263.81 627.83,265.57 627.37,267.32 626.85,269.07 626.27,270.81 625.64,272.54 624.95,274.26 624.21,275.97 623.41,277.67 622.56,279.35 621.65,281.02 620.69,282.66 619.67,284.29 618.61,285.90 617.49,287.49 616.32,289.06 615.11,290.60 613.84,292.11 612.53,293.60 611.17,295.06 609.76,296.49 608.31,297.89 606.82,299.26 605.28,300.60 603.70,301.90 602.08,303.16 600.42,304.39 598.73,305.58 596.99,306.73 595.22,307.84 593.42,308.91 591.58,309.93 589.71,310.91 587.81,311.85 585.88,312.75 583.92,313.59 581.94,314.39 579.93,315.15 577.89,315.85 575.84,316.51 573.76,317.11 571.66,317.67 569.55,318.17 567.42,318.62 565.27,319.02 563.11,319.37 560.94,319.67 558.75,319.91 556.56,320.10 554.36,320.24" stroke="#00ff81"/>
<polyline points="551.59,298.62 550.03,298.67 548.46,298.69 546.90,298.67 545.33,298.62 543.76,298.53 542.20,298.40 540.63,298.24 539.07,298.05 537.51,297.81 535.96,297.54 534.41,297.24 532.88,296.90 531.34,296.53 529.82,296.12 528.31,295.68 526.81,295.20 525.32,294.69 523.85,294.15 522.39,293.58 520.95,292.97 519.52,292.34 518.11,291.67 516.71,290.97 515.34,290.25 513.99,289.49 512.66,288.71 511.34,287.90 510.06,287.06 508.79,286.20 507.55,285.31 506.34,284.39 505.15,283.46 503.99,282.50 502.86,281.51 501.75,280.51 500.68,279.49 499.63,278.44 498.62,277.38 497.63,276.30 496.68,275.21 495.76,274.09 494.88,272.96 494.02,271.82 493.21,270.67 492.42,269.50 491.68,268.32 490.97,267.13 490.29,265.93 489.65,264.72 489.05,263.51 488.49,262.28 487.96,261.06 487.48,259.82 487.03,258.59 486.62,257.34 486.25,256.10 485.92,254.86 485.63,253.61 485.38,252.37 485.17,251.13 485.00,249.89 484.87,248.65 484.79,247.42 484.74,246.19 484.73,244.97 484.76,243.75 484.84,242.54 484.95,241.34 485.11,240.15 485.30,238.97 485.54,237.80 485.81,236.64 486.13,235.49 486.48,234.35 486.88,233.23 487.31,232.12 487.78,231.03 488.29,229.95 488.84,228.89 489.43,227.84 490.06,226.81 490.72,225.80 491.42,224.81 492.15,223.83 492.92,222.88 493.73,221.94 494.57,221.03 495.44,220.13 496.35,219.26 497.29,218.41 498.26,217.58 499.27,216.77 500.30,215.99 501.37,215.23 502.47,214.49 503.59,213.78 504.74,213.09 505.92,212.43 507.13,211.79 508.36,211.18 509.62,210.59 510.90,210.03 512.20,209.49 513.53,208.98 514.88,208.50 516.25,208.04 517.63,207.61 519.04,207.21 520.46,206.84 521.90,206.49 523.36,206.17 524.83,205.88 526.32,205.61 527.82,205.38 529.32,205.17 530.84,204.99 532.37,204.84 533.91,204.71 535.46,204.62 537.01,204.55 538.57,204.51 540.13,204.50 541.70,204.51 543.27,204.56 544.83,204.63 546.40,204.73 547.97,204.87 549.54,205.02 551.10,205.21 552.66,205.42 554.21,205.67 555.76,205.94 557.30,206.23 558.83,206.56 560.35,206.91 561.86,207.29 563.36,207.70 564.85,208.13 566.32,208.59 567.78,209.08 569.22,209.59 570.65,210.13 572.05,210.70 573.44,211.29 574.81,211.90 576.16,212.55 577.49,213.21 578.79,213.90 580.07,214.62 581.33,215.35 582.56,216.12 583.77,216.90 584.95,217.71 586.10,218.54 587.22,219.39 588.31,220.26 589.37,221.16 590.41,222.07 591.41,223.01 592.37,223.96 593.31,224.94 594.21,225.93 595.08,226.94 595.91,227.97 596.71,229.01 597.47,230.07 598.19,231.15 598.88,232.24 599.53,233.35 600.14,234.47 600.71,235.60 601.25,236.75 601.74,237.90 602.20,239.07 602.61,240.25 602.99,241.44 603.32,242.63 603.62,243.84 603.87,245.05 604.08,246.27 604.26,247.49 604.39,248.72 604.47,249.95 604.52,251.19 604.53,252.43 604.49,253.67 604.41,254.91 604.30,256.15 604.14,257.39 603.93,258.62 603.69,259.86 603.41,261.08 603.08,262.31 602.72,263.53 602.31,264.74 601.87,265.94 601.39,267.14 600.86,268.33 600.30,269.50 599.70,270.67 599.06,271.82 598.38,272.96 597.67,274.08 596.92,275.19 596.13,276.29 595.31,277.36 594.45,278.42 593.56,279.47 592.64,280.49 591.68,281.49 590.69,282.47 589.67,283.43 588.61,284.36 587.53,285.28 586.42,286.16 585.28,287.03 584.11,287.86 582.91,288.67 581.69,289.46 580.44,290.21 579.17,290.94 577.87,291.64 576.55,292.30 575.21,292.94 573.85,293.55 572.47,294.12 571.07,294.66 569.65,295.17 568.21,295.65 566.76,296.10 565.29,296.50 563.81,296.88 562.32,297.22 560.81,297.53 559.30,297.80 557.77,298.03 556.23,298.23 554.69,298.40 553.14,298.52 551.59,298.62" stroke="#b9ff00"/>
</g>
<circle cx="496.70" cy="264.60" r="1.1" fill="#111"/>
<circle cx="561.12" cy="264.65" r="1.1" fill="#111"/>
<circle cx="464.70" cy="248.70" r="1.1" fill="#111"/>
<circle cx="593.55" cy="248.80" r="1.1" fill="#111"/>
<circle cx="432.70" cy="232.80" r="1.1" fill="#111"/>
<circle cx="625.97" cy="232.95" r="1.1" fill="#111"/>
<circle cx="400.70" cy="216.90" r="1.4" fill="#111"/>
<circle cx="658.40" cy="217.10" r="1.4" fill="#111"/>
<circle cx="528.70" cy="280.50" r="1.4" fill="#111"/>
<g stroke="#141414" stroke-width="0.55" stroke-linejoin="round">
<polygon points="528.98,60.28 535.67,62.14 528.93,64.49 522.24,62.90" fill="#0000ff"/>
<polygon points="522.27,58.97 528.98,60.28 522.24,62.90 515.54,61.87" fill="#000bff"/>
<polygon points="535.74,58.12 542.44,60.25 535.67,62.14 528.98,60.28" fill="#001aff"/>
<polygon points="515.55,58.22 522.27,58.97 515.54,61.87 508.82,61.39" fill="#003dff"/>
<polygon points="529.02,56.53 535.74,58.12 528.98,60.28 522.27,58.97" fill="#005bff"/>
<polygon points="542.52,56.42 549.21,58.83 542.44,60.25 535.74,58.12" fill="#005cff"/>
<polygon points="508.81,58.03 515.55,58.22 508.82,61.39 502.10,61.47" fill="#0064ff"/>
<polygon points="522.29,55.51 529.02,56.53 522.27,58.97 515.55,58.22" fill="#0091ff"/>
<polygon points="535.80,54.56 542.52,56.42 535.74,58.12 529.02,56.53" fill="#00a1ff"/>
<polygon points="549.31,55.21 556.00,57.89 549.21,58.83 542.52,56.42" fill="#0095ff"/>
<polygon points="515.55,55.05 522.29,55.51 515.55,58.22 508.81,58.03" fill="#00bdff"/>
<polygon points="529.06,53.26 535.80,54.56 529.02,56.53 522.29,55.51" fill="#00dcff"/>
<polygon points="542.59,53.07 549.31,55.21 542.52,56.42 535.80,54.56" fill="#00dfff"/>
<polygon points="502.07,58.42 508.81,58.03 502.10,61.47 495.38,62.14" fill="#0080ff"/>
<polygon points="556.11,54.47 562.80,57.43 556.00,57.89 549.31,55.21" fill="#00c4ff"/>
<polygon points="522.31,52.53 529.06,53.26 522.29,55.51 515.55,55.05" fill="#00fff2"/>
<polygon points="535.85,51.50 542.59,53.07 535.80,54.56 529.06,53.26" fill="#00ffe1"/>
<polygon points="495.33,59.40 502.07,58.42 495.38,62.14 488.66,63.39" fill="#0093ff"/>
<polygon points="508.79,55.16 515.55,55.05 508.81,58.03 502.07,58.42" fill="#00deff"/>
<polygon points="549.39,52.06 556.11,54.47 549.31,55.21 542.59,53.07" fill="#00ffec"/>
<polygon points="562.91,54.23 569.59,57.46 562.80,57.43 556.11,54.47" fill="#00ebff"/>
<polygon points="488.60,60.97 495.33,59.40 488.66,63.39 481.95,65.23" fill="#009aff"/>
<polygon points="502.04,55.86 508.79,55.16 502.07,58.42 495.33,59.40" fill="#00f5ff"/>
<polygon points="515.54,52.37 522.31,52.53 515.55,55.05 508.79,55.16" fill="#00ffce"/>
<polygon points="529.09,50.49 535.85,51.50 529.06,53.26 522.31,52.53" fill="#00ffb0"/>
<polygon points="542.65,50.21 549.39,52.06 542.59,53.07 535.85,51.50" fill="#00ffac"/>
<polygon points="556.20,51.55 562.91,54.23 556.11,54.47 549.39,52.06" fill="#00ffc3"/>
<polygon points="569.72,54.49 576.39,58.00 569.59,57.46 562.91,54.23" fill="#00fff6"/>
<polygon points="481.87,63.14 488.60,60.97 481.95,65.23 475.25,67.68" fill="#0097ff"/>
<polygon points="495.28,57.16 502.04,55.86 495.33,59.40 488.60,60.97" fill="#00fffd"/>
<polygon points="508.77,52.80 515.54,52.37 508.79,55.16 502.04,55.86" fill="#00ffb5"/>
<polygon points="522.31,50.05 529.09,50.49 522.31,52.53 515.54,52.37" fill="#00ff87"/>
<polygon points="535.89,48.93 542.65,50.21 535.85,51.50 529.09,50.49" fill="#00ff76"/>
<polygon points="549.46,49.42 556.20,51.55 549.39,52.06 542.65,50.21" fill="#00ff7f"/>
<polygon points="563.02,51.53 569.72,54.49 562.91,54.23 556.20,51.55" fill="#00ffa3"/>
<polygon points="576.53,55.26 583.18,59.04 576.39,58.00 569.72,54.49" fill="#00ffe2"/>
<polygon points="475.16,65.93 481.87,63.14 475.25,67.68 468.56,70.74" fill="#008aff"/>
<polygon points="488.53,59.06 495.28,57.16 488.60,60.97 481.87,63.14" fill="#00fffb"/>
<polygon points="502.00,53.82 508.77,52.80 502.04,55.86 495.28,57.16" fill="#00ffa5"/>
<polygon points="515.53,50.21 522.31,50.05 515.54,52.37 508.77,52.80" fill="#00ff69"/>
<polygon points="529.11,48.22 535.89,48.93 529.09,50.49 522.31,50.05" fill="#00ff49"/>
<polygon points="542.70,47.86 549.46,49.42 542.65,50.21 535.89,48.93" fill="#00ff44"/>
<polygon points="556.28,49.13 563.02,51.53 556.20,51.55 549.46,49.42" fill="#00ff5a"/>
<polygon points="569.83,52.02 576.53,55.26 569.72,54.49 563.02,51.53" fill="#00ff8b"/>
<polygon points="583.33,56.54 589.97,60.59 583.18,59.04 576.53,55.26" fill="#00ffd7"/>
<polygon points="481.79,61.58 488.53,59.06 481.87,63.14 475.16,65.93" fill="#00fbff"/>
<polygon points="495.23,55.45 502.00,53.82 495.28,57.16 488.53,59.06" fill="#00ff9e"/>
<polygon points="508.75,50.96 515.53,50.21 508.77,52.80 502.00,53.82" fill="#00ff55"/>
<polygon points="549.52,47.29 556.28,49.13 549.46,49.42 542.70,47.86" fill="#00ff1b"/>
<polygon points="563.11,49.34 569.83,52.02 563.02,51.53 556.28,49.13" fill="#00ff3e"/>
<polygon points="576.65,53.03 583.33,56.54 576.53,55.26 569.83,52.02" fill="#00ff7c"/>
<polygon points="468.46,69.34 475.16,65.93 468.56,70.74 461.90,74.42" fill="#0073ff"/>
<polygon points="522.32,48.10 529.11,48.22 522.31,50.05 515.53,50.21" fill="#00ff26"/>
<polygon points="535.92,46.88 542.70,47.86 535.89,48.93 529.11,48.22" fill="#00ff13"/>
<polygon points="590.12,58.35 596.74,62.68 589.97,60.59 583.33,56.54" fill="#00ffd5"/>
<polygon points="488.47,57.69 495.23,55.45 488.53,59.06 481.79,61.58" fill="#00ffa2"/>
<polygon points="501.96,52.31 508.75,50.96 502.00,53.82 495.23,55.45" fill="#00ff4a"/>
<polygon points="556.35,47.23 563.11,49.34 556.28,49.13 549.52,47.29" fill="#07ff00"/>
<polygon points="569.93,50.08 576.65,53.03 569.83,52.02 563.11,49.34" fill="#00ff2a"/>
<polygon points="461.79,73.39 468.46,69.34 461.90,74.42 455.26,78.74" fill="#0050ff"/>
<polygon points="475.07,64.72 481.79,61.58 475.16,65.93 468.46,69.34" fill="#00e8ff"/>
<polygon points="515.52,48.57 522.32,48.10 515.53,50.21 508.75,50.96" fill="#00ff0e"/>
<polygon points="529.12,46.48 535.92,46.88 529.11,48.22 522.32,48.10" fill="#17ff00"/>
<polygon points="542.74,46.03 549.52,47.29 542.70,47.86 535.92,46.88" fill="#1eff00"/>
<polygon points="583.45,54.56 590.12,58.35 583.33,56.54 576.65,53.03" fill="#00ff75"/>
<polygon points="596.90,60.68 603.50,65.29 596.74,62.68 590.12,58.35" fill="#00ffdb"/>
<polygon points="495.18,54.28 501.96,52.31 495.23,55.45 488.47,57.69" fill="#00ff49"/>
<polygon points="563.18,47.69 569.93,50.08 563.11,49.34 556.35,47.23" fill="#22ff00"/>
<polygon points="481.72,60.56 488.47,57.69 481.79,61.58 475.07,64.72" fill="#00ffaf"/>
<polygon points="508.72,49.65 515.52,48.57 508.75,50.96 501.96,52.31" fill="#02ff00"/>
<polygon points="522.31,46.68 529.12,46.48 522.32,48.10 515.52,48.57" fill="#38ff00"/>
<polygon points="535.94,45.36 542.74,46.03 535.92,46.88 529.12,46.48" fill="#50ff00"/>
<polygon points="549.57,45.70 556.35,47.23 549.52,47.29 542.74,46.03" fill="#48ff00"/>
<polygon points="576.75,51.33 583.45,54.56 576.65,53.03 569.93,50.08" fill="#00ff1f"/>
<polygon points="455.14,78.08 461.79,73.39 455.26,78.74 448.65,83.69" fill="#0024ff"/>
<polygon points="468.37,68.49 475.07,64.72 468.46,69.34 461.79,73.39" fill="#00caff"/>
<polygon points="590.25,56.62 596.90,60.68 590.12,58.35 583.45,54.56" fill="#00ff77"/>
<polygon points="603.66,63.56 610.24,68.44 603.50,65.29 596.90,60.68" fill="#00ffea"/>
<polygon points="448.53,83.41 455.14,78.08 448.65,83.69 442.08,89.30" fill="#0000ff"/>
<polygon points="461.69,72.91 468.37,68.49 461.79,73.39 455.14,78.08" fill="#00a2ff"/>
<polygon points="474.99,64.06 481.72,60.56 475.07,64.72 468.37,68.49" fill="#00ffc7"/>
<polygon points="488.41,56.87 495.18,54.28 488.47,57.69 481.72,60.56" fill="#00ff52"/>
<polygon points="501.92,51.35 508.72,49.65 501.96,52.31 495.18,54.28" fill="#08ff00"/>
<polygon points="515.50,47.48 522.31,46.68 515.52,48.57 508.72,49.65" fill="#4fff00"/>
<polygon points="529.12,45.28 535.94,45.36 529.12,46.48 522.31,46.68" fill="#76ff00"/>
<polygon points="542.77,44.75 549.57,45.70 542.74,46.03 535.94,45.36" fill="#7fff00"/>
<polygon points="556.40,45.88 563.18,47.69 556.35,47.23 549.57,45.70" fill="#69ff00"/>
<polygon points="570.01,48.67 576.75,51.33 569.93,50.08 563.18,47.69" fill="#34ff00"/>
<polygon points="583.56,53.12 590.25,56.62 583.45,54.56 576.75,51.33" fill="#00ff1c"/>
<polygon points="597.03,59.23 603.66,63.56 596.90,60.68 590.25,56.62" fill="#00ff81"/>
<polygon points="610.41,66.99 616.96,72.14 610.24,68.44 603.66,63.56" fill="#00fdff"/>
<polygon points="508.69,48.90 515.50,47.48 508.72,49.65 501.92,51.35" fill="#5aff00"/>
<polygon points="522.30,45.81 529.12,45.28 522.31,46.68 515.50,47.48" fill="#92ff00"/>
<polygon points="535.95,44.40 542.77,44.75 535.94,45.36 529.12,45.28" fill="#abff00"/>
<polygon points="549.60,44.65 556.40,45.88 549.57,45.70 542.77,44.75" fill="#a5ff00"/>
<polygon points="441.95,89.41 448.53,83.41 442.08,89.30 435.54,95.57" fill="#0000ff"/>
<polygon points="455.04,77.98 461.69,72.91 455.14,78.08 448.53,83.41" fill="#0070ff"/>
<polygon points="468.28,68.21 474.99,64.06 468.37,68.49 461.69,72.91" fill="#00ffe8"/>
<polygon points="481.65,60.10 488.41,56.87 481.72,60.56 474.99,64.06" fill="#00ff65"/>
<polygon points="495.13,53.67 501.92,51.35 495.18,54.28 488.41,56.87" fill="#02ff00"/>
<polygon points="563.24,46.58 570.01,48.67 563.18,47.69 556.40,45.88" fill="#80ff00"/>
<polygon points="576.83,50.18 583.56,53.12 576.75,51.33 570.01,48.67" fill="#3cff00"/>
<polygon points="590.36,55.45 597.03,59.23 590.25,56.62 583.56,53.12" fill="#00ff22"/>
<polygon points="603.80,62.38 610.41,66.99 603.66,63.56 597.03,59.23" fill="#00ff93"/>
<polygon points="617.13,70.97 623.65,76.40 616.96,72.14 610.41,66.99" fill="#00dcff"/>
<polygon points="448.42,83.71 455.04,77.98 448.53,83.41 441.95,89.41" fill="#0033ff"/>
<polygon points="461.59,73.01 468.28,68.21 461.69,72.91 455.04,77.98" fill="#00eaff"/>
<polygon points="474.91,63.98 481.65,60.10 474.99,64.06 468.28,68.21" fill="#00ff82"/>
<polygon points="515.48,46.96 522.30,45.81 515.50,47.48 508.69,48.90" fill="#a2ff00"/>
<polygon points="529.12,44.65 535.95,44.40 529.12,45.28 522.30,45.81" fill="#cbff00"/>
<polygon points="542.79,44.02 549.60,44.65 542.77,44.75 535.95,44.40" fill="#d5ff00"/>
<polygon points="583.65,52.23 590.36,55.45 583.56,53.12 576.83,50.18" fill="#3bff00"/>
<polygon points="597.15,58.32 603.80,62.38 597.03,59.23 590.36,55.45" fill="#00ff30"/>
<polygon points="610.55,66.09 617.13,70.97 610.41,66.99 603.80,62.38" fill="#00ffaf"/>
<polygon points="435.42,96.08 441.95,89.41 435.54,95.57 429.05,102.51" fill="#0000ff"/>
<polygon points="501.88,50.95 508.69,48.90 501.92,51.35 495.13,53.67" fill="#59ff00"/>
<polygon points="556.44,45.08 563.24,46.58 556.40,45.88 549.60,44.65" fill="#c1ff00"/>
<polygon points="623.82,75.52 630.31,81.22 623.65,76.40 617.13,70.97" fill="#00b1ff"/>
<polygon points="488.35,56.62 495.13,53.67 488.41,56.87 481.65,60.10" fill="#00ff0c"/>
<polygon points="570.07,47.82 576.83,50.18 570.01,48.67 563.24,46.58" fill="#8dff00"/>
<polygon points="522.29,45.52 529.12,44.65 522.30,45.81 515.48,46.96" fill="#e0ff00"/>
<polygon points="535.95,44.00 542.79,44.02 535.95,44.40 529.12,44.65" fill="#fbff00"/>
<polygon points="454.94,78.47 461.59,73.01 455.04,77.98 448.42,83.71" fill="#00b2ff"/>
<polygon points="468.20,68.50 474.91,63.98 468.28,68.21 461.59,73.01" fill="#00ffa8"/>
<polygon points="590.45,54.83 597.15,58.32 590.36,55.45 583.65,52.23" fill="#2fff00"/>
<polygon points="603.92,61.76 610.55,66.09 603.80,62.38 597.15,58.32" fill="#00ff47"/>
<polygon points="441.84,90.11 448.42,83.71 441.95,89.41 435.42,96.08" fill="#0000ff"/>
<polygon points="508.65,48.73 515.48,46.96 508.69,48.90 501.88,50.95" fill="#a6ff00"/>
<polygon points="549.63,44.18 556.44,45.08 549.60,44.65 542.79,44.02" fill="#f6ff00"/>
<polygon points="617.27,70.36 623.82,75.52 617.13,70.97 610.55,66.09" fill="#00ffd2"/>
<polygon points="481.58,60.22 488.35,56.62 481.65,60.10 474.91,63.98" fill="#00ff25"/>
<polygon points="495.08,53.63 501.88,50.95 495.13,53.67 488.35,56.62" fill="#4eff00"/>
<polygon points="563.29,46.04 570.07,47.82 563.24,46.58 556.44,45.08" fill="#d3ff00"/>
<polygon points="576.90,49.59 583.65,52.23 576.83,50.18 570.07,47.82" fill="#91ff00"/>
<polygon points="428.93,103.43 435.42,96.08 429.05,102.51 422.61,110.12" fill="#0000ff"/>
<polygon points="630.48,80.63 636.94,86.61 630.31,81.22 623.82,75.52" fill="#007dff"/>
<polygon points="529.11,44.60 535.95,44.00 529.12,44.65 522.29,45.52" fill="#ffea00"/>
<polygon points="461.51,73.69 468.20,68.50 461.59,73.01 454.94,78.47" fill="#00ffd9"/>
<polygon points="597.24,57.99 603.92,61.76 597.15,58.32 590.45,54.83" fill="#1aff00"/>
<polygon points="422.49,111.47 428.93,103.43 422.61,110.12 416.22,118.43" fill="#0000ff"/>
<polygon points="448.32,84.60 454.94,78.47 448.42,83.71 441.84,90.11" fill="#006fff"/>
<polygon points="515.45,47.01 522.29,45.52 515.48,46.96 508.65,48.73" fill="#eaff00"/>
<polygon points="542.80,43.88 549.63,44.18 542.79,44.02 535.95,44.00" fill="#ffde00"/>
<polygon points="610.66,65.75 617.27,70.36 610.55,66.09 603.92,61.76" fill="#00ff66"/>
<polygon points="637.11,86.33 643.53,92.58 636.94,86.61 630.48,80.63" fill="#0040ff"/>
<polygon points="474.84,64.48 481.58,60.22 474.91,63.98 468.20,68.50" fill="#00ff47"/>
<polygon points="488.29,56.96 495.08,53.63 488.35,56.62 481.58,60.22" fill="#37ff00"/>
<polygon points="501.84,51.14 508.65,48.73 501.88,50.95 495.08,53.63" fill="#a0ff00"/>
<polygon points="556.47,44.86 563.29,46.04 556.44,45.08 549.63,44.18" fill="#fff100"/>
<polygon points="570.12,47.54 576.90,49.59 570.07,47.82 563.29,46.04" fill="#dcff00"/>
<polygon points="583.72,51.92 590.45,54.83 583.65,52.23 576.90,49.59" fill="#8bff00"/>
<polygon points="435.31,97.20 441.84,90.11 435.42,96.08 428.93,103.43" fill="#0000ff"/>
<polygon points="623.96,75.20 630.48,80.63 623.82,75.52 617.27,70.36" fill="#00fffe"/>
<polygon points="428.82,104.97 435.31,97.20 428.93,103.43 422.49,111.47" fill="#0000ff"/>
<polygon points="454.85,79.56 461.51,73.69 454.94,78.47 448.32,84.60" fill="#00eaff"/>
<polygon points="522.27,45.82 529.11,44.60 522.29,45.52 515.45,47.01" fill="#ffdb00"/>
<polygon points="535.95,44.19 542.80,43.88 535.95,44.00 529.11,44.60" fill="#ffc000"/>
<polygon points="604.01,61.71 610.66,65.75 603.92,61.76 597.24,57.99" fill="#00ff04"/>
<polygon points="630.62,80.63 637.11,86.33 630.48,80.63 623.96,75.20" fill="#00c8ff"/>
<polygon points="468.12,69.40 474.84,64.48 468.20,68.50 461.51,73.69" fill="#00ff73"/>
<polygon points="481.52,60.94 488.29,56.96 481.58,60.22 474.84,64.48" fill="#15ff00"/>
<polygon points="495.03,54.19 501.84,51.14 495.08,53.63 488.29,56.96" fill="#8eff00"/>
<polygon points="508.62,49.15 515.45,47.01 508.65,48.73 501.84,51.14" fill="#e9ff00"/>
<polygon points="549.64,44.28 556.47,44.86 549.63,44.18 542.80,43.88" fill="#ffc200"/>
<polygon points="563.32,46.08 570.12,47.54 563.29,46.04 556.47,44.86" fill="#ffe300"/>
<polygon points="576.95,49.59 583.72,51.92 576.90,49.59 570.12,47.54" fill="#daff00"/>
<polygon points="590.53,54.80 597.24,57.99 590.45,54.83 583.72,51.92" fill="#7bff00"/>
<polygon points="416.10,120.21 422.49,111.47 416.22,118.43 409.89,127.43" fill="#0000ff"/>
<polygon points="441.74,91.41 448.32,84.60 441.84,90.11 435.31,97.20" fill="#0022ff"/>
<polygon points="617.38,70.32 623.96,75.20 617.27,70.36 610.66,65.75" fill="#00ff8e"/>
<polygon points="643.69,92.62 650.08,99.13 643.53,92.58 637.11,86.33" fill="#0000ff"/>
<polygon points="435.21,98.92 441.74,91.41 435.31,97.20 428.82,104.97" fill="#0000ff"/>
<polygon points="624.07,75.47 630.62,80.63 623.96,75.20 617.38,70.32" fill="#00ffbe"/>
<polygon points="474.77,65.58 481.52,60.94 474.84,64.48 468.12,69.40" fill="#00ff15"/>
<polygon points="488.24,57.90 495.03,54.19 488.29,56.96 481.52,60.94" fill="#72ff00"/>
<polygon points="501.80,51.92 508.62,49.15 501.84,51.14 495.03,54.19" fill="#dcff00"/>
<polygon points="515.43,47.67 522.27,45.82 515.45,47.01 508.62,49.15" fill="#ffd800"/>
<polygon points="542.80,44.33 549.64,44.28 542.80,43.88 535.95,44.19" fill="#ff9f00"/>
<polygon points="556.49,45.23 563.32,46.08 556.47,44.86 549.64,44.28" fill="#ffb000"/>
<polygon points="570.16,47.86 576.95,49.59 570.12,47.54 563.32,46.08" fill="#ffe000"/>
<polygon points="583.77,52.20 590.53,54.80 583.72,51.92 576.95,49.59" fill="#d0ff00"/>
<polygon points="422.38,113.44 428.82,104.97 422.49,111.47 416.10,120.21" fill="#0000ff"/>
<polygon points="448.23,86.10 454.85,79.56 448.32,84.60 441.74,91.41" fill="#00a1ff"/>
<polygon points="461.43,74.99 468.12,69.40 461.51,73.69 454.85,79.56" fill="#00ffa8"/>
<polygon points="529.10,45.14 535.95,44.19 529.11,44.60 522.27,45.82" fill="#ffac00"/>
<polygon points="597.31,58.25 604.01,61.71 597.24,57.99 590.53,54.80" fill="#61ff00"/>
<polygon points="610.75,66.01 617.38,70.32 610.66,65.75 604.01,61.71" fill="#00ff27"/>
<polygon points="637.24,86.64 643.69,92.62 637.11,86.33 630.62,80.63" fill="#0087ff"/>
<polygon points="409.78,129.66 416.10,120.21 409.89,127.43 403.63,137.14" fill="#0000ff"/>
<polygon points="650.24,99.50 656.59,106.28 650.08,99.13 643.69,92.62" fill="#0000ff"/>
<polygon points="441.66,93.34 448.23,86.10 441.74,91.41 435.21,98.92" fill="#004fff"/>
<polygon points="617.47,70.89 624.07,75.47 617.38,70.32 610.75,66.01" fill="#00ff53"/>
<polygon points="481.46,62.27 488.24,57.90 481.52,60.94 474.77,65.58" fill="#49ff00"/>
<polygon points="494.98,55.36 501.80,51.92 495.03,54.19 488.24,57.90" fill="#c4ff00"/>
<polygon points="508.59,50.17 515.43,47.67 508.62,49.15 501.80,51.92" fill="#ffdf00"/>
<polygon points="549.65,45.00 556.49,45.23 549.64,44.28 542.80,44.33" fill="#ff8800"/>
<polygon points="563.34,46.73 570.16,47.86 563.32,46.08 556.49,45.23" fill="#ffa700"/>
<polygon points="576.99,50.19 583.77,52.20 576.95,49.59 570.16,47.86" fill="#ffe500"/>
<polygon points="403.52,139.82 409.78,129.66 403.63,137.14 397.43,147.56" fill="#0000ff"/>
<polygon points="428.73,107.13 435.21,98.92 428.82,104.97 422.38,113.44" fill="#0000ff"/>
<polygon points="468.05,70.91 474.77,65.58 468.12,69.40 461.43,74.99" fill="#00ff46"/>
<polygon points="590.58,55.37 597.31,58.25 590.53,54.80 583.77,52.20" fill="#bbff00"/>
<polygon points="630.73,81.21 637.24,86.64 630.62,80.63 624.07,75.47" fill="#00fff6"/>
<polygon points="656.74,106.98 663.05,114.04 656.59,106.28 650.24,99.50" fill="#0000ff"/>
<polygon points="522.25,46.72 529.10,45.14 522.27,45.82 515.43,47.67" fill="#ffa400"/>
<polygon points="535.94,44.99 542.80,44.33 535.95,44.19 529.10,45.14" fill="#ff8700"/>
<polygon points="416.00,122.62 422.38,113.44 416.10,120.21 409.78,129.66" fill="#0000ff"/>
<polygon points="454.78,81.26 461.43,74.99 454.85,79.56 448.23,86.10" fill="#00ffe8"/>
<polygon points="604.08,62.27 610.75,66.01 604.01,61.71 597.31,58.25" fill="#3eff00"/>
<polygon points="643.83,93.25 650.24,99.50 643.69,92.62 637.24,86.64" fill="#003cff"/>
<polygon points="488.19,59.46 494.98,55.36 488.24,57.90 481.46,62.27" fill="#a1ff00"/>
<polygon points="501.76,53.33 508.59,50.17 501.80,51.92 494.98,55.36" fill="#fff100"/>
<polygon points="556.50,46.22 563.34,46.73 556.49,45.23 549.65,45.00" fill="#ff7a00"/>
<polygon points="570.18,48.78 576.99,50.19 570.16,47.86 563.34,46.73" fill="#ffa800"/>
<polygon points="409.69,132.53 416.00,122.62 409.78,129.66 403.52,139.82" fill="#0000ff"/>
<polygon points="435.13,101.28 441.66,93.34 435.21,98.92 428.73,107.13" fill="#0000ff"/>
<polygon points="448.16,88.23 454.78,81.26 448.23,86.10 441.66,93.34" fill="#00caff"/>
<polygon points="474.71,67.32 481.46,62.27 474.77,65.58 468.05,70.91" fill="#16ff00"/>
<polygon points="583.81,53.08 590.58,55.37 583.77,52.20 576.99,50.19" fill="#fff400"/>
<polygon points="610.82,66.87 617.47,70.89 610.75,66.01 604.08,62.27" fill="#11ff00"/>
<polygon points="624.16,76.35 630.73,81.21 624.07,75.47 617.47,70.89" fill="#00ff87"/>
<polygon points="650.37,100.46 656.74,106.98 650.24,99.50 643.83,93.25" fill="#0000ff"/>
<polygon points="515.40,48.95 522.25,46.72 515.43,47.67 508.59,50.17" fill="#ffa600"/>
<polygon points="542.79,45.39 549.65,45.00 542.80,44.33 535.94,44.99" fill="#ff6b00"/>
<polygon points="422.30,116.04 428.73,107.13 422.38,113.44 416.00,122.62" fill="#0000ff"/>
<polygon points="461.36,76.91 468.05,70.91 461.43,74.99 454.78,81.26" fill="#00ff81"/>
<polygon points="529.08,46.30 535.94,44.99 529.10,45.14 522.25,46.72" fill="#ff7900"/>
<polygon points="597.37,59.11 604.08,62.27 597.31,58.25 590.58,55.37" fill="#9dff00"/>
<polygon points="637.35,87.55 643.83,93.25 637.24,86.64 630.73,81.21" fill="#00c3ff"/>
<polygon points="494.94,57.16 501.76,53.33 494.98,55.36 488.19,59.46" fill="#efff00"/>
<polygon points="563.35,47.99 570.18,48.78 563.34,46.73 556.50,46.22" fill="#ff7600"/>
<polygon points="415.92,125.68 422.30,116.04 416.00,122.62 409.69,132.53" fill="#0000ff"/>
<polygon points="454.71,83.61 461.36,76.91 454.78,81.26 448.16,88.23" fill="#00ffc6"/>
<polygon points="481.41,64.23 488.19,59.46 481.46,62.27 474.71,67.32" fill="#73ff00"/>
<polygon points="577.01,51.40 583.81,53.08 576.99,50.19 570.18,48.78" fill="#ffb200"/>
<polygon points="604.13,63.44 610.82,66.87 604.08,62.27 597.37,59.11" fill="#75ff00"/>
<polygon points="643.93,94.49 650.37,100.46 643.83,93.25 637.35,87.55" fill="#0074ff"/>
<polygon points="508.55,51.83 515.40,48.95 508.59,50.17 501.76,53.33" fill="#ffb400"/>
<polygon points="549.65,46.33 556.50,46.22 549.65,45.00 542.79,45.39" fill="#ff5800"/>
<polygon points="428.65,109.93 435.13,101.28 428.73,107.13 422.30,116.04" fill="#0000ff"/>
<polygon points="441.59,95.90 448.16,88.23 441.66,93.34 435.13,101.28" fill="#0071ff"/>
<polygon points="467.99,73.05 474.71,67.32 468.05,70.91 461.36,76.91" fill="#00ff23"/>
<polygon points="522.22,48.25 529.08,46.30 522.25,46.72 515.40,48.95" fill="#ff7700"/>
<polygon points="535.93,46.42 542.79,45.39 535.94,44.99 529.08,46.30" fill="#ff5800"/>
<polygon points="590.62,56.55 597.37,59.11 590.58,55.37 583.81,53.08" fill="#f1ff00"/>
<polygon points="617.54,72.06 624.16,76.35 617.47,70.89 610.82,66.87" fill="#00ff21"/>
<polygon points="630.81,82.42 637.35,87.55 630.73,81.21 624.16,76.35" fill="#00ffc4"/>
<polygon points="422.22,119.30 428.65,109.93 422.30,116.04 415.92,125.68" fill="#0000ff"/>
<polygon points="461.30,79.48 467.99,73.05 461.36,76.91 454.71,83.61" fill="#00ff64"/>
<polygon points="488.14,61.66 494.94,57.16 488.19,59.46 481.41,64.23" fill="#c6ff00"/>
<polygon points="570.19,50.34 577.01,51.40 570.18,48.78 563.35,47.99" fill="#ff7b00"/>
<polygon points="597.40,60.60 604.13,63.44 597.37,59.11 590.62,56.55" fill="#ceff00"/>
<polygon points="637.42,89.08 643.93,94.49 637.35,87.55 630.81,82.42" fill="#00f5ff"/>
<polygon points="501.71,55.38 508.55,51.83 501.76,53.33 494.94,57.16" fill="#ffcc00"/>
<polygon points="556.50,47.83 563.35,47.99 556.50,46.22 549.65,46.33" fill="#ff4f00"/>
<polygon points="448.09,91.01 454.71,83.61 448.16,88.23 441.59,95.90" fill="#00e8ff"/>
<polygon points="474.66,69.69 481.41,64.23 474.71,67.32 467.99,73.05" fill="#39ff00"/>
<polygon points="515.36,50.86 522.22,48.25 515.40,48.95 508.55,51.83" fill="#ff7f00"/>
<polygon points="529.06,48.09 535.93,46.42 529.08,46.30 522.22,48.25" fill="#ff5100"/>
<polygon points="542.78,47.09 549.65,46.33 542.79,45.39 535.93,46.42" fill="#ff4100"/>
<polygon points="583.83,54.60 590.62,56.55 583.81,53.08 577.01,51.40" fill="#ffc600"/>
<polygon points="610.87,68.36 617.54,72.06 610.82,66.87 604.13,63.44" fill="#43ff00"/>
<polygon points="435.06,104.29 441.59,95.90 435.13,101.28 428.65,109.93" fill="#000eff"/>
<polygon points="624.22,77.85 630.81,82.42 624.16,76.35 617.54,72.06" fill="#00ff59"/>
<polygon points="467.94,75.85 474.66,69.69 467.99,73.05 461.30,79.48" fill="#00ff0a"/>
<polygon points="590.64,58.37 597.40,60.60 590.62,56.55 583.83,54.60" fill="#ffe300"/>
<polygon points="428.59,113.39 435.06,104.29 428.65,109.93 422.22,119.30" fill="#0000ff"/>
<polygon points="454.65,86.61 461.30,79.48 454.71,83.61 448.09,91.01" fill="#00ffae"/>
<polygon points="481.36,66.85 488.14,61.66 481.41,64.23 474.66,69.69" fill="#91ff00"/>
<polygon points="494.89,59.61 501.71,55.38 494.94,57.16 488.14,61.66" fill="#ffef00"/>
<polygon points="508.51,54.14 515.36,50.86 508.55,51.83 501.71,55.38" fill="#ff9300"/>
<polygon points="522.19,50.43 529.06,48.09 522.22,48.25 515.36,50.86" fill="#ff5500"/>
<polygon points="535.91,48.49 542.78,47.09 535.93,46.42 529.06,48.09" fill="#ff3500"/>
<polygon points="549.63,48.31 556.50,47.83 549.65,46.33 542.78,47.09" fill="#ff3300"/>
<polygon points="563.35,49.90 570.19,50.34 563.35,47.99 556.50,47.83" fill="#ff4f00"/>
<polygon points="577.02,53.26 583.83,54.60 577.01,51.40 570.19,50.34" fill="#ff8a00"/>
<polygon points="604.16,65.24 610.87,68.36 604.13,63.44 597.40,60.60" fill="#a1ff00"/>
<polygon points="630.87,84.25 637.42,89.08 630.81,82.42 624.22,77.85" fill="#00ff9a"/>
<polygon points="441.53,99.13 448.09,91.01 441.59,95.90 435.06,104.29" fill="#0089ff"/>
<polygon points="617.58,73.87 624.22,77.85 617.54,72.06 610.87,68.36" fill="#08ff00"/>
<polygon points="474.61,72.73 481.36,66.85 474.66,69.69 467.94,75.85" fill="#52ff00"/>
<polygon points="583.84,56.76 590.64,58.37 583.83,54.60 577.02,53.26" fill="#ffa200"/>
<polygon points="435.01,107.97 441.53,99.13 435.06,104.29 428.59,113.39" fill="#0020ff"/>
<polygon points="461.25,82.71 467.94,75.85 461.30,79.48 454.65,86.61" fill="#00ff50"/>
<polygon points="515.33,53.43 522.19,50.43 515.36,50.86 508.51,54.14" fill="#ff6300"/>
<polygon points="529.03,50.54 535.91,48.49 529.06,48.09 522.19,50.43" fill="#ff3300"/>
<polygon points="542.76,49.43 549.63,48.31 542.78,47.09 535.91,48.49" fill="#ff2200"/>
<polygon points="597.42,62.74 604.16,65.24 597.40,60.60 590.64,58.37" fill="#f4ff00"/>
<polygon points="624.26,79.99 630.87,84.25 624.22,77.85 617.58,73.87" fill="#00ff35"/>
<polygon points="501.68,58.09 508.51,54.14 501.71,55.38 494.89,59.61" fill="#ffb100"/>
<polygon points="556.49,50.10 563.35,49.90 556.50,47.83 549.63,48.31" fill="#ff2e00"/>
<polygon points="448.04,94.46 454.65,86.61 448.09,91.01 441.53,99.13" fill="#00fbff"/>
<polygon points="488.09,64.53 494.89,59.61 488.14,61.66 481.36,66.85" fill="#e0ff00"/>
<polygon points="570.19,52.54 577.02,53.26 570.19,50.34 563.35,49.90" fill="#ff5900"/>
<polygon points="610.90,70.49 617.58,73.87 610.87,68.36 604.16,65.24" fill="#6bff00"/>
<polygon points="441.48,103.03 448.04,94.46 441.53,99.13 435.01,107.97" fill="#0097ff"/>
<polygon points="467.89,79.33 474.61,72.73 467.94,75.85 461.25,82.71" fill="#07ff00"/>
<polygon points="481.32,70.14 488.09,64.53 481.36,66.85 474.61,72.73" fill="#a5ff00"/>
<polygon points="508.48,57.11 515.33,53.43 508.51,54.14 501.68,58.09" fill="#ff7d00"/>
<polygon points="522.16,53.27 529.03,50.54 522.19,50.43 515.33,53.43" fill="#ff3d00"/>
<polygon points="535.88,51.22 542.76,49.43 535.91,48.49 529.03,50.54" fill="#ff1b00"/>
<polygon points="549.61,50.95 556.49,50.10 549.63,48.31 542.76,49.43" fill="#ff1800"/>
<polygon points="577.01,55.77 583.84,56.76 577.02,53.26 570.19,52.54" fill="#ff6d00"/>
<polygon points="590.64,60.85 597.42,62.74 590.64,58.37 583.84,56.76" fill="#ffc400"/>
<polygon points="617.60,76.33 624.26,79.99 617.58,73.87 610.90,70.49" fill="#2bff00"/>
<polygon points="454.60,90.29 461.25,82.71 454.65,86.61 448.04,94.46" fill="#00ffa0"/>
<polygon points="604.17,67.70 610.90,70.49 604.16,65.24 597.42,62.74" fill="#c3ff00"/>
<polygon points="494.85,62.73 501.68,58.09 494.89,59.61 488.09,64.53" fill="#ffdb00"/>
<polygon points="563.33,52.47 570.19,52.54 563.35,49.90 556.49,50.10" fill="#ff3300"/>
<polygon points="448.00,98.60 454.60,90.29 448.04,94.46 441.48,103.03" fill="#00fff9"/>
<polygon points="529.00,53.67 535.88,51.22 529.03,50.54 522.16,53.27" fill="#ff2000"/>
<polygon points="610.90,73.28 617.60,76.33 610.90,70.49 604.17,67.70" fill="#88ff00"/>
<polygon points="461.21,86.63 467.89,79.33 461.25,82.71 454.60,90.29" fill="#00ff46"/>
<polygon points="474.57,76.46 481.32,70.14 474.61,72.73 467.89,79.33" fill="#5fff00"/>
<polygon points="488.05,68.07 494.85,62.73 488.09,64.53 481.32,70.14" fill="#efff00"/>
<polygon points="501.64,61.47 508.48,57.11 501.68,58.09 494.85,62.73" fill="#ffa100"/>
<polygon points="515.29,56.67 522.16,53.27 515.33,53.43 508.48,57.11" fill="#ff5100"/>
<polygon points="542.73,52.45 549.61,50.95 542.76,49.43 535.88,51.22" fill="#ff0d00"/>
<polygon points="556.46,53.04 563.33,52.47 556.49,50.10 549.61,50.95" fill="#ff1800"/>
<polygon points="570.17,55.41 577.01,55.77 570.19,52.54 563.33,52.47" fill="#ff4200"/>
<polygon points="583.83,59.58 590.64,60.85 583.84,56.76 577.01,55.77" fill="#ff8900"/>
<polygon points="597.41,65.54 604.17,67.70 597.42,62.74 590.64,60.85" fill="#ffef00"/>
<polygon points="454.57,94.67 461.21,86.63 454.60,90.29 448.00,98.60" fill="#00ff9b"/>
<polygon points="494.82,66.54 501.64,61.47 494.85,62.73 488.05,68.07" fill="#ffd100"/>
<polygon points="522.12,56.80 529.00,53.67 522.16,53.27 515.29,56.67" fill="#ff3000"/>
<polygon points="535.85,54.63 542.73,52.45 535.88,51.22 529.00,53.67" fill="#ff0d00"/>
<polygon points="563.30,55.71 570.17,55.41 563.33,52.47 556.46,53.04" fill="#ff2200"/>
<polygon points="604.16,70.84 610.90,73.28 604.17,67.70 597.41,65.54" fill="#d9ff00"/>
<polygon points="467.86,83.49 474.57,76.46 467.89,79.33 461.21,86.63" fill="#0eff00"/>
<polygon points="481.28,74.12 488.05,68.07 481.32,70.14 474.57,76.46" fill="#aeff00"/>
<polygon points="508.44,60.77 515.29,56.67 508.48,57.11 501.64,61.47" fill="#ff7100"/>
<polygon points="549.58,54.27 556.46,53.04 549.61,50.95 542.73,52.45" fill="#ff0800"/>
<polygon points="576.99,58.95 583.83,59.58 577.01,55.77 570.17,55.41" fill="#ff5900"/>
<polygon points="590.62,64.00 597.41,65.54 590.64,60.85 583.83,59.58" fill="#ffb000"/>
<polygon points="461.18,91.26 467.86,83.49 461.21,86.63 454.57,94.67" fill="#00ff45"/>
<polygon points="488.02,72.31 494.82,66.54 488.05,68.07 481.28,74.12" fill="#f3ff00"/>
<polygon points="501.60,65.56 508.44,60.77 501.64,61.47 494.82,66.54" fill="#ff9c00"/>
<polygon points="515.26,60.61 522.12,56.80 515.29,56.67 508.44,60.77" fill="#ff4a00"/>
<polygon points="528.96,57.48 535.85,54.63 529.00,53.67 522.12,56.80" fill="#ff1800"/>
<polygon points="542.69,56.17 549.58,54.27 542.73,52.45 535.85,54.63" fill="#ff0300"/>
<polygon points="556.43,56.66 563.30,55.71 556.46,53.04 549.58,54.27" fill="#ff0d00"/>
<polygon points="570.14,58.97 576.99,58.95 570.17,55.41 563.30,55.71" fill="#ff3500"/>
<polygon points="597.39,69.02 604.16,70.84 597.41,65.54 590.62,64.00" fill="#ffdf00"/>
<polygon points="474.54,80.88 481.28,74.12 474.57,76.46 467.86,83.49" fill="#62ff00"/>
<polygon points="583.80,63.09 590.62,64.00 583.83,59.58 576.99,58.95" fill="#ff7b00"/>
<polygon points="508.40,65.13 515.26,60.61 508.44,60.77 501.60,65.56" fill="#ff7000"/>
<polygon points="549.54,58.29 556.43,56.66 549.58,54.27 542.69,56.17" fill="#ff0300"/>
<polygon points="467.83,88.38 474.54,80.88 467.86,83.49 461.18,91.26" fill="#0aff00"/>
<polygon points="481.25,78.81 488.02,72.31 481.28,74.12 474.54,80.88" fill="#acff00"/>
<polygon points="494.78,71.06 501.60,65.56 494.82,66.54 488.02,72.31" fill="#ffd100"/>
<polygon points="522.08,61.03 528.96,57.48 522.12,56.80 515.26,60.61" fill="#ff2d00"/>
<polygon points="535.81,58.74 542.69,56.17 535.85,54.63 528.96,57.48" fill="#ff0900"/>
<polygon points="563.27,59.65 570.14,58.97 563.30,55.71 556.43,56.66" fill="#ff1b00"/>
<polygon points="576.95,62.84 583.80,63.09 576.99,58.95 570.14,58.97" fill="#ff5100"/>
<polygon points="590.58,67.84 597.39,69.02 590.62,64.00 583.80,63.09" fill="#ffa600"/>
<polygon points="474.51,86.03 481.25,78.81 474.54,80.88 467.83,88.38" fill="#59ff00"/>
<polygon points="501.56,70.36 508.40,65.13 501.60,65.56 494.78,71.06" fill="#ffa100"/>
<polygon points="515.22,65.27 522.08,61.03 515.26,60.61 508.40,65.13" fill="#ff4e00"/>
<polygon points="542.65,60.59 549.54,58.29 542.69,56.17 535.81,58.74" fill="#ff0400"/>
<polygon points="556.38,61.00 563.27,59.65 556.43,56.66 549.54,58.29" fill="#ff0c00"/>
<polygon points="583.75,67.31 590.58,67.84 583.80,63.09 576.95,62.84" fill="#ff7700"/>
<polygon points="487.98,77.28 494.78,71.06 488.02,72.31 481.25,78.81" fill="#ecff00"/>
<polygon points="528.92,62.01 535.81,58.74 528.96,57.48 522.08,61.03" fill="#ff1a00"/>
<polygon points="570.09,63.24 576.95,62.84 570.14,58.97 563.27,59.65" fill="#ff3200"/>
<polygon points="481.22,84.23 487.98,77.28 481.25,78.81 474.51,86.03" fill="#9fff00"/>
<polygon points="494.75,76.30 501.56,70.36 494.78,71.06 487.98,77.28" fill="#ffdc00"/>
<polygon points="508.36,70.22 515.22,65.27 508.40,65.13 501.56,70.36" fill="#ff7a00"/>
<polygon points="522.04,65.98 528.92,62.01 522.08,61.03 515.22,65.27" fill="#ff3500"/>
<polygon points="535.76,63.58 542.65,60.59 535.81,58.74 528.92,62.01" fill="#ff0f00"/>
<polygon points="549.49,63.02 556.38,61.00 549.54,58.29 542.65,60.59" fill="#ff0800"/>
<polygon points="563.21,64.31 570.09,63.24 563.27,59.65 556.38,61.00" fill="#ff1e00"/>
<polygon points="576.90,67.44 583.75,67.31 576.95,62.84 570.09,63.24" fill="#ff5300"/>
<polygon points="487.95,82.98 494.75,76.30 487.98,77.28 481.22,84.23" fill="#daff00"/>
<polygon points="528.87,67.27 535.76,63.58 528.92,62.01 522.04,65.98" fill="#ff2600"/>
<polygon points="570.03,68.23 576.90,67.44 570.09,63.24 563.21,64.31" fill="#ff3a00"/>
<polygon points="501.53,75.89 508.36,70.22 501.56,70.36 494.75,76.30" fill="#ffb000"/>
<polygon points="515.17,70.66 522.04,65.98 515.22,65.27 508.36,70.22" fill="#ff5c00"/>
<polygon points="542.60,65.74 549.49,63.02 542.65,60.59 535.76,63.58" fill="#ff0f00"/>
<polygon points="556.33,66.06 563.21,64.31 556.38,61.00 549.49,63.02" fill="#ff1500"/>
<polygon points="494.71,82.30 501.53,75.89 494.75,76.30 487.95,82.98" fill="#fff200"/>
<polygon points="521.99,71.68 528.87,67.27 522.04,65.98 515.17,70.66" fill="#ff4800"/>
<polygon points="535.71,69.16 542.60,65.74 535.76,63.58 528.87,67.27" fill="#ff2100"/>
<polygon points="563.15,69.71 570.03,68.23 563.21,64.31 556.33,66.06" fill="#ff2d00"/>
<polygon points="508.32,76.06 515.17,70.66 508.36,70.22 501.53,75.89" fill="#ff8e00"/>
<polygon points="549.43,68.50 556.33,66.06 549.49,63.02 542.60,65.74" fill="#ff1700"/>
<polygon points="501.49,82.19 508.32,76.06 501.53,75.89 494.71,82.30" fill="#ffcb00"/>
<polygon points="515.13,76.80 521.99,71.68 515.17,70.66 508.32,76.06" fill="#ff7500"/>
<polygon points="528.82,73.29 535.71,69.16 528.87,67.27 521.99,71.68" fill="#ff3e00"/>
<polygon points="542.54,71.65 549.43,68.50 542.60,65.74 535.71,69.16" fill="#ff2400"/>
<polygon points="556.26,71.88 563.15,69.71 556.33,66.06 549.43,68.50" fill="#ff2a00"/>
<polygon points="508.28,82.66 515.13,76.80 508.32,76.06 501.49,82.19" fill="#ffad00"/>
<polygon points="549.37,74.74 556.26,71.88 549.43,68.50 542.54,71.65" fill="#ff3200"/>
<polygon points="521.94,78.14 528.82,73.29 521.99,71.68 515.13,76.80" fill="#ff6500"/>
<polygon points="535.65,75.50 542.54,71.65 535.71,69.16 528.82,73.29" fill="#ff3c00"/>
<polygon points="515.08,83.73 521.94,78.14 515.13,76.80 508.28,82.66" fill="#ff9800"/>
<polygon points="542.47,78.32 549.37,74.74 542.54,71.65 535.65,75.50" fill="#ff4500"/>
<polygon points="528.76,80.08 535.65,75.50 528.82,73.29 521.94,78.14" fill="#ff5f00"/>
<polygon points="521.89,85.39 528.76,80.08 521.94,78.14 515.08,83.73" fill="#ff8d00"/>
<polygon points="535.58,82.63 542.47,78.32 535.65,75.50 528.76,80.08" fill="#ff6300"/>
<polygon points="528.70,87.67 535.58,82.63 528.76,80.08 521.89,85.39" fill="#ff8c00"/>
</g>
<circle cx="528.80" cy="41.70" r="2.9" fill="#dd0000" stroke="#6a0000" stroke-width="0.8"/>
<circle cx="602.00" cy="68.30" r="2.9" fill="#dd0000" stroke="#6a0000" stroke-width="0.8"/>
<circle cx="456.70" cy="93.00" r="2.6" fill="none" stroke="#e8a0b0" stroke-width="0.9"/>
<text x="385.10" y="31.90" font-size="11.50" text-anchor="end" font-family="Liberation Sans, sans-serif" fill="#111" stroke="#111" stroke-width="0.30">20</text>
<text x="386.74" y="66.60" font-size="11.50" text-anchor="end" font-family="Liberation Sans, sans-serif" fill="#111" stroke="#111" stroke-width="0.30">10</text>
<text x="388.38" y="101.31" font-size="11.50" text-anchor="end" font-family="Liberation Sans, sans-serif" fill="#111" stroke="#111" stroke-width="0.30">0</text>
<text x="390.01" y="136.01" font-size="11.50" text-anchor="end" font-family="Liberation Sans, sans-serif" fill="#111" stroke="#111" stroke-width="0.30">-10</text>
<text x="391.65" y="170.72" font-size="11.50" text-anchor="end" font-family="Liberation Sans, sans-serif" fill="#111" stroke="#111" stroke-width="0.30">-20</text>
<text x="390.20" y="228.20" font-size="11.50" text-anchor="middle" font-family="Liberation Sans, sans-serif" fill="#111" stroke="#111" stroke-width="0.30">2</text>
<text x="422.20" y="244.10" font-size="11.50" text-anchor="middle" font-family="Liberation Sans, sans-serif" fill="#111" stroke="#111" stroke-width="0.30">1</text>
<text x="454.20" y="260.00" font-size="11.50" text-anchor="middle" font-family="Liberation Sans, sans-serif" fill="#111" stroke="#111" stroke-width="0.30">0</text>
<text x="486.20" y="275.90" font-size="11.50" text-anchor="middle" font-family="Liberation Sans, sans-serif" fill="#111" stroke="#111" stroke-width="0.30">-1</text>
<text x="518.20" y="291.80" font-size="11.50" text-anchor="middle" font-family="Liberation Sans, sans-serif" fill="#111" stroke="#111" stroke-width="0.30">-2</text>
<text x="539.20" y="291.80" font-size="11.50" text-anchor="middle" font-family="Liberation Sans, sans-serif" fill="#111" stroke="#111" stroke-width="0.30">-2</text>
<text x="571.62" y="275.95" font-size="11.50" text-anchor="middle" font-family="Liberation Sans, sans-serif" fill="#111" stroke="#111" stroke-width="0.30">-1</text>
<text x="604.05" y="260.10" font-size="11.50" text-anchor="middle" font-family="Liberation Sans, sans-serif" fill="#111" stroke="#111" stroke-width="0.30">0</text>
<text x="636.47" y="244.25" font-size="11.50" text-anchor="middle" font-family="Liberation Sans, sans-serif" fill="#111" stroke="#111" stroke-width="0.30">1</text>
<text x="668.90" y="228.40" font-size="11.50" text-anchor="middle" font-family="Liberation Sans, sans-serif" fill="#111" stroke="#111" stroke-width="0.30">2</text>
<text x="0" y="0" font-size="10.60" text-anchor="middle" font-family="Liberation Sans, sans-serif" fill="#111" textLength="106.00" lengthAdjust="spacingAndGlyphs" transform="translate(353.50 128.40) rotate(-90)" stroke="#111" stroke-width="0.30">Glutamic acid (mg.mL)</text>
<text x="415.50" y="277.30" font-size="10.30" text-anchor="middle" font-family="Liberation Sans, sans-serif" fill="#111" textLength="53.00" lengthAdjust="spacingAndGlyphs" stroke="#111" stroke-width="0.30">urea  (g.dL)</text>
<text x="644.60" y="277.30" font-size="10.50" text-anchor="middle" font-family="Liberation Sans, sans-serif" fill="#111" textLength="79.00" lengthAdjust="spacingAndGlyphs" stroke="#111" stroke-width="0.30">temperature (°C)</text>
<g fill="none" stroke="#3c3c3c" stroke-width="1.0">
<polyline points="408.10,499.65 533.80,450.48 659.79,499.30"/>
<polyline points="406.57,462.21 533.80,416.83 661.54,461.57"/>
<polyline points="405.05,424.78 533.80,383.19 663.29,423.85"/>
<polyline points="403.52,387.34 533.80,349.54 665.05,386.12"/>
<polyline points="402.00,349.90 533.80,315.90 666.80,348.40"/>
</g>
<g fill="none" stroke="#6e6e6e" stroke-width="1.0">
<line x1="439.52" y1="487.36" x2="434.95" y2="341.40"/>
<line x1="628.29" y1="487.09" x2="633.55" y2="340.27"/>
<line x1="470.95" y1="475.07" x2="467.90" y2="332.90"/>
<line x1="596.79" y1="474.89" x2="600.30" y2="332.15"/>
<line x1="502.37" y1="462.77" x2="500.85" y2="324.40"/>
<line x1="565.30" y1="462.68" x2="567.05" y2="324.02"/>
<line x1="410.00" y1="546.30" x2="402.00" y2="349.90"/>
<line x1="533.80" y1="492.40" x2="533.80" y2="315.90"/>
<line x1="657.60" y1="546.30" x2="666.80" y2="348.40"/>
</g>
<circle cx="408.10" cy="499.65" r="1.2" fill="#111"/>
<circle cx="406.57" cy="462.21" r="1.2" fill="#111"/>
<circle cx="405.05" cy="424.78" r="1.2" fill="#111"/>
<circle cx="403.52" cy="387.34" r="1.2" fill="#111"/>
<circle cx="402.00" cy="349.90" r="1.2" fill="#111"/>
<polygon points="410.00,546.30 533.80,492.40 657.60,546.30 533.80,614.30" fill="#646464" stroke="#2a2a2a" stroke-width="0.8"/>
<defs><clipPath id="fc2"><polygon points="410.00,546.30 533.80,492.40 657.60,546.30 533.80,614.30"/></clipPath></defs>
<g clip-path="url(#fc2)" fill="none" stroke-width="1.5">
<polyline points="637.52,595.48 635.78,596.67 633.96,597.82 632.07,598.94 630.09,600.03 628.04,601.08 625.92,602.10 623.72,603.07 621.45,604.01 619.11,604.91 616.70,605.77 614.22,606.59 611.68,607.36 609.08,608.09 606.41,608.78 603.68,609.42 600.90,610.02 598.06,610.57 595.16,611.07 592.21,611.52 589.22,611.93 586.17,612.29 583.08,612.59 579.94,612.85 576.77,613.06 573.55,613.21 570.29,613.32 567.01,613.37 563.68,613.37 560.33,613.32 556.95,613.22 553.54,613.06 550.11,612.86 546.66,612.60 543.19,612.29 539.70,611.93 536.20,611.52 532.68,611.06 529.16,610.55 525.63,609.99 522.09,609.37 518.56,608.71 515.02,608.00 511.49,607.25 507.96,606.44 504.44,605.59 500.92,604.70 497.43,603.76 493.94,602.77 490.47,601.74 487.03,600.67 483.60,599.56 480.20,598.41 476.83,597.22 473.48,595.99 470.17,594.73 466.88,593.43 463.64,592.10 460.43,590.73 457.26,589.34 454.14,587.91 451.06,586.45 448.02,584.97 445.04,583.46 442.10,581.92 439.22,580.36 436.40,578.79 433.62,577.19 430.91,575.57 428.26,573.93 425.67,572.28 423.14,570.61 420.68,568.94 418.29,567.25 415.97,565.55 413.72,563.84 411.53,562.12 409.43,560.40 407.40,558.68 405.44,556.96 403.56,555.23 401.76,553.50 400.04,551.78 398.41,550.06 396.85,548.34 395.38,546.64 394.00,544.94 392.70,543.24 391.48,541.56 390.36,539.89 389.32,538.23 388.37,536.59 387.51,534.96 386.74,533.35 386.06,531.76 385.47,530.19 384.98,528.63 384.57,527.10 384.26,525.59 384.04,524.10 383.91,522.63 383.88,521.19 383.94,519.78 384.09,518.39 384.33,517.02 384.66,515.69 385.09,514.39 385.61,513.11 386.22,511.86 386.92,510.65 387.71,509.47 388.59,508.31 389.56,507.19 390.62,506.11 391.77,505.05 393.01,504.03 394.33,503.04 395.73,502.09 397.23,501.17 398.80,500.29 400.46,499.44 402.20,498.62 404.01,497.84 405.91,497.10 407.89,496.39 409.94,495.72 412.06,495.08 414.26,494.48 416.53,493.92 418.87,493.39 421.28,492.90 423.76,492.44 426.30,492.02 428.90,491.63 431.57,491.28 434.30,490.97 437.08,490.69 439.92,490.44 442.82,490.23 445.77,490.06 448.76,489.92 451.81,489.81 454.90,489.74 458.04,489.70 461.21,489.70 464.43,489.73 467.68,489.79 470.97,489.89 474.30,490.02 477.65,490.18 481.03,490.38 484.44,490.61 487.87,490.87 491.32,491.16 494.79,491.48 498.28,491.84 501.78,492.23 505.30,492.64 508.82,493.09 512.35,493.57 515.89,494.08 519.42,494.62 522.96,495.19 526.49,495.79 530.02,496.42 533.54,497.07 537.05,497.76 540.55,498.47 544.04,499.21 547.50,499.99 550.95,500.78 554.38,501.61 557.78,502.46 561.15,503.34 564.50,504.25 567.81,505.18 571.09,506.14 574.34,507.12 577.55,508.13 580.71,509.17 583.84,510.23 586.92,511.31 589.95,512.42 592.94,513.55 595.87,514.71 598.76,515.89 601.58,517.09 604.35,518.31 607.07,519.55 609.72,520.82 612.31,522.10 614.83,523.41 617.29,524.74 619.69,526.08 622.01,527.44 624.26,528.83 626.44,530.22 628.55,531.64 630.58,533.07 632.54,534.52 634.42,535.98 636.22,537.45 637.93,538.94 639.57,540.44 641.13,541.95 642.60,543.48 643.98,545.01 645.28,546.55 646.50,548.10 647.62,549.66 648.66,551.22 649.61,552.79 650.47,554.36 651.24,555.94 651.92,557.51 652.51,559.09 653.00,560.67 653.41,562.25 653.72,563.83 653.94,565.40 654.07,566.97 654.10,568.53 654.04,570.08 653.89,571.63 653.65,573.17 653.32,574.70 652.89,576.21 652.37,577.71 651.76,579.20 651.06,580.67 650.27,582.13 649.39,583.57 648.41,584.99 647.35,586.38 646.21,587.76 644.97,589.11 643.65,590.44 642.24,591.74 640.75,593.02 639.18,594.26 637.52,595.48" stroke="#00fffe"/>
<polyline points="625.01,590.63 623.45,591.67 621.83,592.69 620.13,593.67 618.36,594.63 616.53,595.55 614.63,596.44 612.66,597.30 610.63,598.12 608.54,598.91 606.38,599.66 604.17,600.37 601.89,601.05 599.56,601.69 597.18,602.29 594.74,602.84 592.25,603.36 589.71,603.84 587.12,604.27 584.48,604.67 581.80,605.02 579.08,605.32 576.31,605.59 573.51,605.81 570.67,605.98 567.79,606.11 564.88,606.20 561.94,606.24 558.96,606.23 555.97,606.18 552.94,606.09 549.89,605.95 546.82,605.76 543.74,605.53 540.63,605.25 537.51,604.93 534.38,604.56 531.24,604.15 528.09,603.70 524.93,603.20 521.77,602.66 518.60,602.07 515.44,601.44 512.28,600.77 509.12,600.06 505.97,599.31 502.83,598.52 499.70,597.69 496.59,596.82 493.49,595.91 490.40,594.97 487.34,593.99 484.30,592.97 481.28,591.92 478.28,590.84 475.32,589.73 472.39,588.58 469.48,587.40 466.61,586.20 463.78,584.97 460.99,583.71 458.23,582.42 455.52,581.11 452.85,579.78 450.22,578.42 447.64,577.05 445.11,575.65 442.64,574.24 440.21,572.81 437.84,571.37 435.52,569.91 433.26,568.43 431.06,566.95 428.92,565.45 426.84,563.95 424.83,562.44 422.88,560.92 420.99,559.39 419.18,557.87 417.43,556.34 415.75,554.81 414.14,553.27 412.60,551.74 411.14,550.21 409.75,548.69 408.43,547.17 407.19,545.66 406.03,544.15 404.94,542.65 403.94,541.17 403.01,539.69 402.16,538.22 401.39,536.77 400.70,535.33 400.09,533.91 399.57,532.50 399.12,531.10 398.76,529.73 398.48,528.38 398.29,527.04 398.17,525.72 398.14,524.43 398.19,523.16 398.33,521.91 398.54,520.68 398.84,519.48 399.23,518.30 399.69,517.15 400.24,516.03 400.86,514.93 401.57,513.85 402.36,512.81 403.23,511.79 404.18,510.81 405.20,509.85 406.31,508.92 407.49,508.02 408.75,507.15 410.08,506.31 411.49,505.50 412.97,504.73 414.53,503.98 416.15,503.27 417.85,502.58 419.61,501.93 421.45,501.31 423.35,500.73 425.32,500.17 427.35,499.65 429.44,499.16 431.60,498.70 433.81,498.27 436.08,497.88 438.41,497.52 440.80,497.19 443.24,496.89 445.73,496.63 448.27,496.39 450.86,496.19 453.50,496.02 456.18,495.88 458.90,495.78 461.67,495.70 464.47,495.66 467.31,495.65 470.19,495.67 473.10,495.71 476.04,495.79 479.01,495.90 482.01,496.05 485.04,496.22 488.09,496.42 491.15,496.65 494.24,496.91 497.35,497.20 500.47,497.51 503.60,497.86 506.74,498.24 509.89,498.64 513.05,499.07 516.21,499.53 519.38,500.02 522.54,500.54 525.70,501.08 528.86,501.65 532.01,502.25 535.15,502.87 538.28,503.52 541.39,504.20 544.49,504.90 547.58,505.62 550.64,506.38 553.68,507.15 556.70,507.95 559.69,508.78 562.66,509.63 565.59,510.50 568.50,511.40 571.37,512.32 574.20,513.26 576.99,514.23 579.75,515.22 582.46,516.22 585.13,517.25 587.76,518.31 590.34,519.38 592.86,520.47 595.34,521.58 597.77,522.71 600.14,523.86 602.46,525.03 604.72,526.21 606.92,527.42 609.06,528.63 611.13,529.87 613.15,531.12 615.10,532.39 616.99,533.67 618.80,534.96 620.55,536.27 622.23,537.59 623.84,538.92 625.38,540.26 626.84,541.61 628.23,542.97 629.55,544.34 630.79,545.72 631.95,547.11 633.04,548.50 634.04,549.90 634.97,551.30 635.82,552.71 636.59,554.12 637.28,555.53 637.88,556.94 638.41,558.35 638.85,559.76 639.22,561.17 639.50,562.58 639.69,563.98 639.81,565.38 639.84,566.77 639.79,568.15 639.65,569.53 639.43,570.90 639.14,572.26 638.75,573.60 638.29,574.93 637.74,576.25 637.12,577.56 636.41,578.85 635.62,580.12 634.75,581.37 633.80,582.61 632.78,583.82 631.67,585.02 630.49,586.19 629.23,587.34 627.90,588.46 626.49,589.56 625.01,590.63" stroke="#00ff7f"/>
<polyline points="610.80,585.10 609.46,585.98 608.05,586.85 606.58,587.68 605.05,588.49 603.46,589.27 601.82,590.03 600.11,590.75 598.35,591.44 596.54,592.11 594.68,592.74 592.76,593.34 590.79,593.91 588.77,594.45 586.70,594.95 584.59,595.42 582.44,595.86 580.23,596.25 577.99,596.62 575.71,596.94 573.39,597.24 571.03,597.49 568.63,597.71 566.20,597.89 563.74,598.03 561.25,598.13 558.73,598.20 556.18,598.23 553.61,598.22 551.01,598.17 548.39,598.08 545.75,597.96 543.10,597.79 540.42,597.59 537.73,597.35 535.03,597.07 532.32,596.75 529.60,596.40 526.87,596.01 524.13,595.58 521.39,595.12 518.65,594.61 515.91,594.08 513.18,593.50 510.44,592.90 507.72,592.26 505.00,591.58 502.29,590.87 499.59,590.13 496.90,589.36 494.23,588.55 491.58,587.71 488.94,586.85 486.33,585.96 483.74,585.03 481.17,584.08 478.63,583.11 476.11,582.10 473.63,581.08 471.18,580.03 468.76,578.95 466.37,577.86 464.02,576.74 461.71,575.60 459.43,574.45 457.20,573.27 455.01,572.08 452.87,570.88 450.76,569.66 448.71,568.42 446.70,567.17 444.75,565.92 442.84,564.65 440.99,563.37 439.19,562.08 437.44,560.79 435.75,559.49 434.12,558.18 432.55,556.87 431.03,555.56 429.58,554.24 428.19,552.93 426.85,551.61 425.59,550.30 424.38,548.99 423.24,547.68 422.17,546.38 421.16,545.08 420.22,543.79 419.35,542.51 418.55,541.23 417.81,539.97 417.14,538.71 416.55,537.47 416.02,536.23 415.57,535.01 415.18,533.81 414.87,532.62 414.63,531.44 414.46,530.28 414.36,529.13 414.33,528.01 414.38,526.90 414.49,525.81 414.68,524.74 414.94,523.69 415.27,522.66 415.67,521.65 416.14,520.67 416.69,519.70 417.30,518.76 417.98,517.84 418.74,516.95 419.56,516.08 420.45,515.24 421.40,514.42 422.43,513.62 423.52,512.85 424.67,512.11 425.89,511.39 427.17,510.70 428.52,510.04 429.93,509.40 431.40,508.80 432.93,508.21 434.52,507.66 436.16,507.13 437.87,506.64 439.62,506.17 441.44,505.72 443.30,505.31 445.22,504.92 447.19,504.57 449.21,504.24 451.27,503.94 453.39,503.66 455.54,503.42 457.74,503.20 459.99,503.01 462.27,502.85 464.59,502.72 466.95,502.62 469.35,502.54 471.77,502.50 474.24,502.47 476.73,502.48 479.25,502.52 481.80,502.58 484.37,502.67 486.97,502.79 489.59,502.93 492.23,503.10 494.88,503.30 497.56,503.52 500.25,503.77 502.95,504.05 505.66,504.35 508.38,504.67 511.11,505.03 513.85,505.41 516.58,505.81 519.32,506.24 522.06,506.69 524.80,507.17 527.54,507.67 530.26,508.20 532.98,508.74 535.69,509.32 538.39,509.91 541.08,510.53 543.75,511.18 546.40,511.84 549.04,512.53 551.65,513.23 554.24,513.96 556.81,514.72 559.35,515.49 561.86,516.28 564.35,517.09 566.80,517.93 569.22,518.78 571.61,519.65 573.96,520.54 576.27,521.45 578.54,522.38 580.78,523.33 582.97,524.29 585.11,525.27 587.21,526.27 589.27,527.28 591.27,528.31 593.23,529.35 595.14,530.41 596.99,531.48 598.79,532.57 600.54,533.66 602.22,534.78 603.86,535.90 605.43,537.03 606.95,538.18 608.40,539.33 609.79,540.50 611.12,541.67 612.39,542.85 613.60,544.04 614.74,545.24 615.81,546.44 616.82,547.64 617.76,548.86 618.63,550.07 619.43,551.29 620.17,552.51 620.83,553.74 621.43,554.96 621.96,556.18 622.41,557.41 622.80,558.63 623.11,559.84 623.35,561.06 623.52,562.27 623.62,563.48 623.65,564.68 623.60,565.87 623.49,567.05 623.30,568.23 623.04,569.39 622.71,570.55 622.31,571.69 621.83,572.83 621.29,573.94 620.68,575.05 619.99,576.14 619.24,577.21 618.42,578.26 617.53,579.30 616.58,580.32 615.55,581.32 614.46,582.30 613.31,583.25 612.09,584.19 610.80,585.10" stroke="#00ff00"/>
<polyline points="593.96,578.49 592.86,579.20 591.71,579.89 590.51,580.55 589.26,581.20 587.96,581.82 586.62,582.42 585.23,582.99 583.79,583.54 582.31,584.07 580.79,584.57 579.22,585.04 577.61,585.49 575.97,585.91 574.28,586.31 572.55,586.68 570.79,587.02 569.00,587.33 567.17,587.61 565.30,587.87 563.41,588.09 561.48,588.29 559.52,588.46 557.54,588.59 555.53,588.70 553.50,588.78 551.44,588.82 549.36,588.84 547.26,588.82 545.14,588.78 543.00,588.70 540.84,588.60 538.67,588.46 536.49,588.30 534.29,588.10 532.09,587.87 529.87,587.61 527.65,587.33 525.42,587.01 523.19,586.66 520.95,586.29 518.72,585.89 516.48,585.45 514.24,584.99 512.01,584.51 509.78,583.99 507.56,583.45 505.35,582.88 503.15,582.28 500.95,581.66 498.77,581.02 496.61,580.35 494.46,579.66 492.32,578.94 490.21,578.20 488.11,577.44 486.03,576.66 483.98,575.86 481.95,575.03 479.95,574.19 477.97,573.33 476.03,572.45 474.11,571.56 472.22,570.65 470.36,569.72 468.54,568.78 466.75,567.82 465.00,566.86 463.28,565.88 461.61,564.88 459.97,563.88 458.37,562.87 456.81,561.85 455.30,560.82 453.83,559.79 452.41,558.74 451.03,557.70 449.69,556.64 448.41,555.59 447.17,554.53 445.98,553.47 444.85,552.41 443.76,551.34 442.72,550.28 441.74,549.22 440.81,548.16 439.94,547.10 439.11,546.05 438.35,545.00 437.63,543.96 436.98,542.92 436.38,541.89 435.83,540.87 435.35,539.86 434.92,538.85 434.54,537.85 434.23,536.87 433.97,535.89 433.78,534.93 433.64,533.98 433.56,533.04 433.53,532.11 433.57,531.20 433.67,530.30 433.82,529.42 434.03,528.56 434.30,527.71 434.63,526.87 435.02,526.06 435.46,525.26 435.96,524.48 436.52,523.72 437.13,522.97 437.80,522.25 438.53,521.55 439.31,520.86 440.14,520.20 441.03,519.55 441.98,518.93 442.97,518.33 444.02,517.75 445.12,517.19 446.27,516.66 447.47,516.14 448.72,515.65 450.02,515.18 451.36,514.73 452.75,514.31 454.19,513.91 455.67,513.53 457.19,513.18 458.76,512.85 460.37,512.54 462.01,512.25 463.70,511.99 465.42,511.76 467.19,511.54 468.98,511.35 470.81,511.18 472.68,511.04 474.57,510.92 476.50,510.83 478.45,510.75 480.44,510.70 482.45,510.68 484.48,510.68 486.54,510.70 488.62,510.74 490.72,510.81 492.84,510.90 494.98,511.01 497.14,511.15 499.31,511.31 501.49,511.49 503.69,511.69 505.89,511.92 508.11,512.16 510.33,512.43 512.56,512.72 514.79,513.04 517.03,513.37 519.26,513.73 521.50,514.10 523.74,514.50 525.97,514.92 528.19,515.35 530.41,515.81 532.63,516.29 534.83,516.79 537.02,517.30 539.20,517.84 541.37,518.40 543.52,518.97 545.66,519.56 547.77,520.17 549.87,520.80 551.94,521.45 554.00,522.11 556.03,522.79 558.03,523.49 560.01,524.20 561.95,524.93 563.87,525.67 565.76,526.43 567.62,527.21 569.44,528.00 571.23,528.80 572.98,529.62 574.70,530.45 576.37,531.29 578.01,532.15 579.61,533.02 581.16,533.90 582.68,534.79 584.15,535.69 585.57,536.60 586.95,537.52 588.28,538.45 589.57,539.39 590.81,540.34 591.99,541.29 593.13,542.25 594.22,543.22 595.25,544.20 596.24,545.18 597.17,546.16 598.04,547.15 598.87,548.14 599.63,549.14 600.35,550.14 601.00,551.14 601.60,552.14 602.15,553.14 602.63,554.14 603.06,555.14 603.43,556.14 603.75,557.13 604.00,558.12 604.20,559.11 604.34,560.10 604.42,561.08 604.44,562.05 604.41,563.02 604.31,563.98 604.16,564.93 603.95,565.88 603.68,566.81 603.35,567.73 602.96,568.65 602.52,569.55 602.02,570.44 601.46,571.31 600.85,572.18 600.18,573.02 599.45,573.86 598.67,574.67 597.83,575.47 596.94,576.26 596.00,577.02 595.01,577.77 593.96,578.49" stroke="#79ff00"/>
<polyline points="572.00,569.82 571.22,570.30 570.41,570.77 569.56,571.23 568.68,571.67 567.76,572.09 566.81,572.50 565.83,572.89 564.81,573.26 563.77,573.62 562.69,573.96 561.58,574.28 560.45,574.58 559.28,574.87 558.09,575.13 556.87,575.38 555.62,575.61 554.35,575.82 553.06,576.00 551.74,576.17 550.40,576.32 549.04,576.45 547.65,576.56 546.25,576.65 544.83,576.71 543.39,576.76 541.94,576.79 540.46,576.79 538.98,576.77 537.48,576.74 535.97,576.68 534.44,576.60 532.91,576.50 531.36,576.39 529.81,576.25 528.25,576.08 526.68,575.90 525.11,575.70 523.54,575.48 521.96,575.24 520.38,574.98 518.80,574.70 517.21,574.40 515.63,574.08 514.06,573.74 512.48,573.39 510.91,573.01 509.35,572.62 507.79,572.21 506.24,571.78 504.69,571.33 503.16,570.87 501.64,570.40 500.13,569.90 498.64,569.39 497.15,568.87 495.69,568.33 494.23,567.78 492.80,567.21 491.38,566.63 489.99,566.04 488.61,565.43 487.25,564.81 485.92,564.18 484.60,563.55 483.31,562.90 482.05,562.24 480.81,561.57 479.60,560.89 478.41,560.20 477.25,559.51 476.12,558.81 475.02,558.10 473.95,557.39 472.91,556.67 471.91,555.95 470.93,555.22 469.99,554.49 469.08,553.75 468.20,553.02 467.36,552.28 466.56,551.54 465.79,550.79 465.06,550.05 464.36,549.31 463.71,548.57 463.09,547.83 462.51,547.09 461.96,546.36 461.46,545.62 460.99,544.89 460.57,544.17 460.19,543.45 459.84,542.73 459.54,542.02 459.27,541.31 459.05,540.62 458.87,539.93 458.73,539.24 458.63,538.56 458.58,537.90 458.56,537.24 458.59,536.59 458.65,535.95 458.76,535.32 458.91,534.70 459.10,534.09 459.34,533.49 459.61,532.90 459.92,532.32 460.28,531.76 460.67,531.21 461.10,530.67 461.58,530.15 462.09,529.64 462.64,529.14 463.24,528.66 463.86,528.19 464.53,527.73 465.24,527.29 465.98,526.87 466.75,526.46 467.57,526.06 468.42,525.68 469.30,525.32 470.22,524.97 471.17,524.64 472.15,524.32 473.17,524.03 474.21,523.74 475.29,523.48 476.40,523.23 477.53,523.00 478.70,522.78 479.89,522.58 481.11,522.40 482.36,522.24 483.63,522.09 484.92,521.96 486.24,521.85 487.58,521.75 488.94,521.67 490.33,521.61 491.73,521.57 493.15,521.54 494.59,521.53 496.04,521.54 497.51,521.56 499.00,521.61 500.50,521.67 502.01,521.74 503.54,521.83 505.07,521.94 506.62,522.07 508.17,522.21 509.73,522.37 511.29,522.55 512.87,522.74 514.44,522.95 516.02,523.17 517.60,523.41 519.18,523.67 520.76,523.94 522.35,524.23 523.92,524.53 525.50,524.85 527.07,525.18 528.63,525.53 530.19,525.89 531.74,526.27 533.28,526.66 534.82,527.06 536.34,527.48 537.85,527.91 539.34,528.36 540.83,528.82 542.29,529.29 543.74,529.77 545.18,530.27 546.60,530.77 547.99,531.29 549.37,531.83 550.73,532.37 552.06,532.92 553.38,533.48 554.66,534.06 555.93,534.64 557.17,535.23 558.38,535.84 559.57,536.45 560.73,537.07 561.86,537.70 562.96,538.33 564.03,538.98 565.07,539.63 566.07,540.29 567.05,540.95 567.99,541.62 568.90,542.30 569.77,542.98 570.61,543.67 571.42,544.36 572.19,545.05 572.92,545.75 573.61,546.45 574.27,547.16 574.89,547.86 575.47,548.57 576.02,549.28 576.52,549.99 576.98,550.70 577.41,551.41 577.79,552.12 578.14,552.83 578.44,553.54 578.70,554.24 578.93,554.95 579.11,555.65 579.25,556.34 579.34,557.04 579.40,557.73 579.42,558.41 579.39,559.09 579.32,559.76 579.22,560.43 579.07,561.08 578.88,561.74 578.64,562.38 578.37,563.02 578.06,563.64 577.70,564.26 577.31,564.87 576.87,565.47 576.40,566.05 575.89,566.63 575.33,567.19 574.74,567.74 574.11,568.28 573.45,568.81 572.74,569.32 572.00,569.82" stroke="#f3ff00"/>
</g>
<circle cx="502.85" cy="597.30" r="1.1" fill="#111"/>
<circle cx="564.75" cy="597.30" r="1.1" fill="#111"/>
<circle cx="471.90" cy="580.30" r="1.1" fill="#111"/>
<circle cx="595.70" cy="580.30" r="1.1" fill="#111"/>
<circle cx="440.95" cy="563.30" r="1.1" fill="#111"/>
<circle cx="626.65" cy="563.30" r="1.1" fill="#111"/>
<circle cx="410.00" cy="546.30" r="1.4" fill="#111"/>
<circle cx="657.60" cy="546.30" r="1.4" fill="#111"/>
<circle cx="533.80" cy="614.30" r="1.4" fill="#111"/>
<g stroke="#141414" stroke-width="0.70" stroke-linejoin="round">
<polygon points="533.84,362.49 540.32,366.21 533.80,366.56 527.31,362.82" fill="#00cdff"/>
<polygon points="527.34,359.24 533.84,362.49 527.31,362.82 520.80,359.54" fill="#00ffd3"/>
<polygon points="540.39,362.38 546.86,366.07 540.32,366.21 533.84,362.49" fill="#00f1ff"/>
<polygon points="520.81,356.46 527.34,359.24 520.80,359.54 514.27,356.73" fill="#00ff7d"/>
<polygon points="533.89,359.15 540.39,362.38 533.84,362.49 527.34,359.24" fill="#00ffae"/>
<polygon points="546.94,362.49 553.40,366.16 546.86,366.07 540.39,362.38" fill="#00ffec"/>
<polygon points="514.27,354.16 520.81,356.46 514.27,356.73 507.72,354.40" fill="#00ff30"/>
<polygon points="527.36,356.40 533.89,359.15 527.34,359.24 520.81,356.46" fill="#00ff58"/>
<polygon points="540.44,359.29 546.94,362.49 540.39,362.38 533.89,359.15" fill="#00ff8d"/>
<polygon points="553.50,362.82 559.95,366.46 553.40,366.16 546.94,362.49" fill="#00ffcf"/>
<polygon points="520.82,354.14 527.36,356.40 520.81,356.46 514.27,354.16" fill="#00ff0c"/>
<polygon points="533.93,356.57 540.44,359.29 533.89,359.15 527.36,356.40" fill="#00ff38"/>
<polygon points="547.01,359.66 553.50,362.82 546.94,362.49 540.44,359.29" fill="#00ff71"/>
<polygon points="507.71,352.35 514.27,354.16 507.72,354.40 501.16,352.55" fill="#13ff00"/>
<polygon points="560.06,363.39 566.51,367.00 559.95,366.46 553.50,362.82" fill="#00ffb6"/>
<polygon points="527.39,354.34 533.93,356.57 527.36,356.40 520.82,354.14" fill="#13ff00"/>
<polygon points="540.50,356.97 547.01,359.66 540.44,359.29 533.93,356.57" fill="#00ff1c"/>
<polygon points="501.14,351.03 507.71,352.35 501.16,352.55 494.59,351.20" fill="#4cff00"/>
<polygon points="514.27,352.37 520.82,354.14 514.27,354.16 507.71,352.35" fill="#35ff00"/>
<polygon points="553.58,360.26 560.06,363.39 553.50,362.82 547.01,359.66" fill="#00ff58"/>
<polygon points="566.63,364.19 573.06,367.77 566.51,367.00 560.06,363.39" fill="#00ffa1"/>
<polygon points="494.56,350.23 501.14,351.03 494.59,351.20 488.01,350.35" fill="#7bff00"/>
<polygon points="507.70,351.10 514.27,352.37 507.71,352.35 501.14,351.03" fill="#6dff00"/>
<polygon points="520.84,352.61 527.39,354.34 520.82,354.14 514.27,352.37" fill="#53ff00"/>
<polygon points="533.97,354.78 540.50,356.97 533.93,356.57 527.39,354.34" fill="#2eff00"/>
<polygon points="547.08,357.61 553.58,360.26 547.01,359.66 540.50,356.97" fill="#00ff04"/>
<polygon points="560.16,361.09 566.63,364.19 560.06,363.39 553.58,360.26" fill="#00ff44"/>
<polygon points="573.19,365.23 579.62,368.78 573.06,367.77 566.63,364.19" fill="#00ff91"/>
<polygon points="487.98,349.94 494.56,350.23 488.01,350.35 481.44,350.02" fill="#a2ff00"/>
<polygon points="501.12,350.34 507.70,351.10 501.14,351.03 494.56,350.23" fill="#9cff00"/>
<polygon points="514.27,351.39 520.84,352.61 514.27,352.37 507.70,351.10" fill="#8bff00"/>
<polygon points="527.42,353.09 533.97,354.78 527.39,354.34 520.84,352.61" fill="#6dff00"/>
<polygon points="540.55,355.46 547.08,357.61 540.50,356.97 533.97,354.78" fill="#44ff00"/>
<polygon points="553.66,358.48 560.16,361.09 553.58,360.26 547.08,357.61" fill="#0fff00"/>
<polygon points="566.73,362.17 573.19,365.23 566.63,364.19 560.16,361.09" fill="#00ff34"/>
<polygon points="579.76,366.51 586.18,370.03 579.62,368.78 573.19,365.23" fill="#00ff84"/>
<polygon points="481.40,350.18 487.98,349.94 481.44,350.02 474.86,350.20" fill="#c0ff00"/>
<polygon points="494.54,350.10 501.12,350.34 494.56,350.23 487.98,349.94" fill="#c3ff00"/>
<polygon points="507.69,350.68 514.27,351.39 507.70,351.10 501.12,350.34" fill="#b9ff00"/>
<polygon points="520.85,351.91 527.42,353.09 520.84,352.61 514.27,351.39" fill="#a4ff00"/>
<polygon points="534.00,353.81 540.55,355.46 533.97,354.78 527.42,353.09" fill="#83ff00"/>
<polygon points="547.13,356.37 553.66,358.48 547.08,357.61 540.55,355.46" fill="#56ff00"/>
<polygon points="560.24,359.60 566.73,362.17 560.16,361.09 553.66,358.48" fill="#1eff00"/>
<polygon points="573.31,363.49 579.76,366.51 573.19,365.23 566.73,362.17" fill="#00ff29"/>
<polygon points="586.33,368.05 592.74,371.52 586.18,370.03 579.76,366.51" fill="#00ff7c"/>
<polygon points="487.96,350.39 494.54,350.10 487.98,349.94 481.40,350.18" fill="#e0ff00"/>
<polygon points="501.11,350.49 507.69,350.68 501.12,350.34 494.54,350.10" fill="#dfff00"/>
<polygon points="514.27,351.25 520.85,351.91 514.27,351.39 507.69,350.68" fill="#d2ff00"/>
<polygon points="553.72,357.53 560.24,359.60 553.66,358.48 547.13,356.37" fill="#65ff00"/>
<polygon points="566.83,360.96 573.31,363.49 566.73,362.17 560.24,359.60" fill="#28ff00"/>
<polygon points="579.88,365.06 586.33,368.05 579.76,366.51 573.31,363.49" fill="#00ff21"/>
<polygon points="474.82,350.95 481.40,350.18 474.86,350.20 468.29,350.92" fill="#d6ff00"/>
<polygon points="527.44,352.68 534.00,353.81 527.42,353.09 520.85,351.91" fill="#b9ff00"/>
<polygon points="540.59,354.77 547.13,356.37 540.55,355.46 534.00,353.81" fill="#95ff00"/>
<polygon points="592.89,369.83 599.29,373.27 592.74,371.52 586.33,368.05" fill="#00ff79"/>
<polygon points="494.53,350.83 501.11,350.49 494.54,350.10 487.96,350.39" fill="#fcff00"/>
<polygon points="507.69,351.12 514.27,351.25 507.69,350.68 501.11,350.49" fill="#f8ff00"/>
<polygon points="560.31,358.94 566.83,360.96 560.24,359.60 553.72,357.53" fill="#6fff00"/>
<polygon points="573.41,362.58 579.88,365.06 573.31,363.49 566.83,360.96" fill="#2fff00"/>
<polygon points="468.26,352.26 474.82,350.95 468.29,350.92 461.72,352.17" fill="#e3ff00"/>
<polygon points="481.38,351.21 487.96,350.39 481.40,350.18 474.82,350.95" fill="#f5ff00"/>
<polygon points="520.86,352.07 527.44,352.68 520.85,351.91 514.27,351.25" fill="#e7ff00"/>
<polygon points="534.03,353.69 540.59,354.77 534.00,353.81 527.44,352.68" fill="#cbff00"/>
<polygon points="547.18,355.98 553.72,357.53 547.13,356.37 540.59,354.77" fill="#a3ff00"/>
<polygon points="586.46,366.89 592.89,369.83 586.33,368.05 579.88,365.06" fill="#00ff1e"/>
<polygon points="599.45,371.87 605.83,375.27 599.29,373.27 592.89,369.83" fill="#00ff79"/>
<polygon points="501.10,351.52 507.69,351.12 501.11,350.49 494.53,350.83" fill="#ffed00"/>
<polygon points="566.90,360.61 573.41,362.58 566.83,360.96 560.31,358.94" fill="#75ff00"/>
<polygon points="487.94,351.71 494.53,350.83 487.96,350.39 481.38,351.21" fill="#fff000"/>
<polygon points="514.28,351.99 520.86,352.07 514.27,351.25 507.69,351.12" fill="#fff400"/>
<polygon points="527.46,353.13 534.03,353.69 527.44,352.68 520.86,352.07" fill="#f8ff00"/>
<polygon points="540.63,354.95 547.18,355.98 540.59,354.77 534.03,353.69" fill="#d8ff00"/>
<polygon points="553.78,357.44 560.31,358.94 553.72,357.53 547.18,355.98" fill="#acff00"/>
<polygon points="579.99,364.45 586.46,366.89 579.88,365.06 573.41,362.58" fill="#32ff00"/>
<polygon points="461.70,354.12 468.26,352.26 461.72,352.17 455.17,353.97" fill="#e7ff00"/>
<polygon points="474.80,352.58 481.38,351.21 474.82,350.95 468.26,352.26" fill="#fffd00"/>
<polygon points="593.02,368.97 599.45,371.87 592.89,369.83 586.46,366.89" fill="#00ff1f"/>
<polygon points="606.00,374.17 612.37,377.53 605.83,375.27 599.45,371.87" fill="#00ff7e"/>
<polygon points="455.15,356.54 461.70,354.12 455.17,353.97 448.63,356.33" fill="#e2ff00"/>
<polygon points="468.24,354.51 474.80,352.58 468.26,352.26 461.70,354.12" fill="#fffa00"/>
<polygon points="481.36,353.15 487.94,351.71 481.38,351.21 474.80,352.58" fill="#ffe500"/>
<polygon points="494.52,352.46 501.10,351.52 494.53,350.83 487.94,351.71" fill="#ffdb00"/>
<polygon points="507.69,352.45 514.28,351.99 507.69,351.12 501.10,351.52" fill="#ffdb00"/>
<polygon points="520.87,353.11 527.46,353.13 520.86,352.07 514.28,351.99" fill="#ffe600"/>
<polygon points="534.05,354.44 540.63,354.95 534.03,353.69 527.46,353.13" fill="#fffa00"/>
<polygon points="547.22,356.46 553.78,357.44 547.18,355.98 540.63,354.95" fill="#e1ff00"/>
<polygon points="560.37,359.15 566.90,360.61 560.31,358.94 553.78,357.44" fill="#b2ff00"/>
<polygon points="573.49,362.52 579.99,364.45 573.41,362.58 566.90,360.61" fill="#77ff00"/>
<polygon points="586.56,366.58 593.02,368.97 586.46,366.89 579.99,364.45" fill="#30ff00"/>
<polygon points="599.58,371.32 606.00,374.17 599.45,371.87 593.02,368.97" fill="#00ff24"/>
<polygon points="612.54,376.74 618.90,380.06 612.37,377.53 606.00,374.17" fill="#00ff87"/>
<polygon points="514.28,353.62 520.87,353.11 514.28,351.99 507.69,352.45" fill="#ffce00"/>
<polygon points="527.47,354.48 534.05,354.44 527.46,353.13 520.87,353.11" fill="#ffdb00"/>
<polygon points="540.65,356.01 547.22,356.46 540.63,354.95 534.05,354.44" fill="#fff300"/>
<polygon points="553.82,358.23 560.37,359.15 553.78,357.44 547.22,356.46" fill="#e6ff00"/>
<polygon points="448.63,359.53 455.15,356.54 448.63,356.33 442.12,359.25" fill="#d4ff00"/>
<polygon points="461.69,357.00 468.24,354.51 461.70,354.12 455.15,356.54" fill="#fffe00"/>
<polygon points="474.79,355.14 481.36,353.15 474.80,352.58 468.24,354.51" fill="#ffe300"/>
<polygon points="487.93,353.95 494.52,352.46 487.94,351.71 481.36,353.15" fill="#ffd200"/>
<polygon points="501.10,353.45 507.69,352.45 501.10,351.52 494.52,352.46" fill="#ffca00"/>
<polygon points="566.96,361.12 573.49,362.52 566.90,360.61 560.37,359.15" fill="#b4ff00"/>
<polygon points="580.07,364.71 586.56,366.58 579.99,364.45 573.49,362.52" fill="#75ff00"/>
<polygon points="593.13,368.97 599.58,371.32 593.02,368.97 586.56,366.58" fill="#2bff00"/>
<polygon points="606.13,373.93 612.54,376.74 606.00,374.17 599.58,371.32" fill="#00ff2e"/>
<polygon points="619.06,379.58 625.41,382.85 618.90,380.06 612.54,376.74" fill="#00ff94"/>
<polygon points="455.15,360.06 461.69,357.00 455.15,356.54 448.63,359.53" fill="#f2ff00"/>
<polygon points="468.23,357.69 474.79,355.14 468.24,354.51 461.69,357.00" fill="#ffe800"/>
<polygon points="481.36,356.01 487.93,353.95 481.36,353.15 474.79,355.14" fill="#ffcf00"/>
<polygon points="520.88,355.06 527.47,354.48 520.87,353.11 514.28,353.62" fill="#ffc300"/>
<polygon points="534.07,356.10 540.65,356.01 534.05,354.44 527.47,354.48" fill="#ffd400"/>
<polygon points="547.25,357.84 553.82,358.23 547.22,356.46 540.65,356.01" fill="#ffee00"/>
<polygon points="586.65,367.15 593.13,368.97 586.56,366.58 580.07,364.71" fill="#6fff00"/>
<polygon points="599.69,371.64 606.13,373.93 599.58,371.32 593.13,368.97" fill="#21ff00"/>
<polygon points="612.67,376.81 619.06,379.58 612.54,376.74 606.13,373.93" fill="#00ff3b"/>
<polygon points="442.12,363.10 448.63,359.53 442.12,359.25 435.62,362.75" fill="#beff00"/>
<polygon points="507.69,354.69 514.28,353.62 507.69,352.45 501.10,353.45" fill="#ffbd00"/>
<polygon points="560.42,360.25 566.96,361.12 560.37,359.15 553.82,358.23" fill="#e8ff00"/>
<polygon points="625.58,382.69 631.91,385.92 625.41,382.85 619.06,379.58" fill="#00ffa5"/>
<polygon points="494.51,355.01 501.10,353.45 494.52,352.46 487.93,353.95" fill="#ffc100"/>
<polygon points="573.55,363.36 580.07,364.71 573.49,362.52 566.96,361.12" fill="#b1ff00"/>
<polygon points="527.48,356.74 534.07,356.10 527.47,354.48 520.88,355.06" fill="#ffbd00"/>
<polygon points="540.67,357.99 547.25,357.84 540.65,356.01 534.07,356.10" fill="#ffd000"/>
<polygon points="461.69,360.82 468.23,357.69 461.69,357.00 455.15,360.06" fill="#fff400"/>
<polygon points="474.79,358.63 481.36,356.01 474.79,355.14 468.23,357.69" fill="#ffd500"/>
<polygon points="593.21,369.87 599.69,371.64 593.13,368.97 586.65,367.15" fill="#65ff00"/>
<polygon points="606.24,374.57 612.67,376.81 606.13,373.93 599.69,371.64" fill="#14ff00"/>
<polygon points="448.64,363.70 455.15,360.06 448.63,359.53 442.12,363.10" fill="#dbff00"/>
<polygon points="514.29,356.19 520.88,355.06 514.28,353.62 507.69,354.69" fill="#ffb300"/>
<polygon points="553.85,359.92 560.42,360.25 553.82,358.23 547.25,357.84" fill="#ffee00"/>
<polygon points="619.20,379.97 625.58,382.69 619.06,379.58 612.67,376.81" fill="#00ff4d"/>
<polygon points="487.93,357.13 494.51,355.01 487.93,353.95 481.36,356.01" fill="#ffbf00"/>
<polygon points="501.10,356.32 507.69,354.69 501.10,353.45 494.51,355.01" fill="#ffb400"/>
<polygon points="567.01,362.55 573.55,363.36 566.96,361.12 560.42,360.25" fill="#e5ff00"/>
<polygon points="580.13,365.86 586.65,367.15 580.07,364.71 573.55,363.36" fill="#abff00"/>
<polygon points="435.64,367.26 442.12,363.10 435.62,362.75 429.15,366.83" fill="#9fff00"/>
<polygon points="632.08,386.08 638.40,389.26 631.91,385.92 625.58,382.69" fill="#00ffbb"/>
<polygon points="534.08,358.69 540.67,357.99 534.07,356.10 527.48,356.74" fill="#ffba00"/>
<polygon points="468.24,361.84 474.79,358.63 468.23,357.69 461.69,360.82" fill="#ffe200"/>
<polygon points="599.77,372.86 606.24,374.57 599.69,371.64 593.21,369.87" fill="#57ff00"/>
<polygon points="429.19,372.00 435.64,367.26 429.15,366.83 422.71,371.50" fill="#78ff00"/>
<polygon points="455.17,364.54 461.69,360.82 455.15,360.06 448.64,363.70" fill="#f4ff00"/>
<polygon points="520.89,357.94 527.48,356.74 520.88,355.06 514.29,356.19" fill="#ffad00"/>
<polygon points="547.27,360.14 553.85,359.92 547.25,357.84 540.67,357.99" fill="#ffd000"/>
<polygon points="612.77,377.79 619.20,379.97 612.67,376.81 606.24,374.57" fill="#02ff00"/>
<polygon points="638.56,389.75 644.87,392.89 638.40,389.26 632.08,386.08" fill="#00ffd5"/>
<polygon points="481.36,359.83 487.93,357.13 481.36,356.01 474.79,358.63" fill="#ffc500"/>
<polygon points="494.51,358.51 501.10,356.32 494.51,355.01 487.93,357.13" fill="#ffb300"/>
<polygon points="507.69,357.88 514.29,356.19 507.69,354.69 501.10,356.32" fill="#ffab00"/>
<polygon points="560.45,362.27 567.01,362.55 560.42,360.25 553.85,359.92" fill="#fff100"/>
<polygon points="573.60,365.11 580.13,365.86 573.55,363.36 567.01,362.55" fill="#deff00"/>
<polygon points="586.71,368.63 593.21,369.87 586.65,367.15 580.13,365.86" fill="#a0ff00"/>
<polygon points="442.15,367.92 448.64,363.70 442.12,363.10 435.64,367.26" fill="#bcff00"/>
<polygon points="625.71,383.42 632.08,386.08 625.58,382.69 619.20,379.97" fill="#00ff63"/>
<polygon points="435.68,372.75 442.15,367.92 435.64,367.26 429.19,372.00" fill="#94ff00"/>
<polygon points="461.71,365.63 468.24,361.84 461.69,360.82 455.17,364.54" fill="#fff600"/>
<polygon points="527.49,359.96 534.08,358.69 527.48,356.74 520.89,357.94" fill="#ffaa00"/>
<polygon points="540.68,360.91 547.27,360.14 540.67,357.99 534.08,358.69" fill="#ffba00"/>
<polygon points="606.32,376.13 612.77,377.79 606.24,374.57 599.77,372.86" fill="#45ff00"/>
<polygon points="632.20,387.14 638.56,389.75 632.08,386.08 625.71,383.42" fill="#00ff7e"/>
<polygon points="474.80,363.11 481.36,359.83 474.79,358.63 468.24,361.84" fill="#ffd300"/>
<polygon points="487.94,361.28 494.51,358.51 487.93,357.13 481.36,359.83" fill="#ffb900"/>
<polygon points="501.10,360.15 507.69,357.88 501.10,356.32 494.51,358.51" fill="#ffaa00"/>
<polygon points="514.29,359.71 520.89,357.94 514.29,356.19 507.69,357.88" fill="#ffa500"/>
<polygon points="553.87,362.56 560.45,362.27 553.85,359.92 547.27,360.14" fill="#ffd400"/>
<polygon points="567.04,364.90 573.60,365.11 567.01,362.55 560.45,362.27" fill="#fff700"/>
<polygon points="580.18,367.94 586.71,368.63 580.13,365.86 573.60,365.11" fill="#d3ff00"/>
<polygon points="593.27,371.68 599.77,372.86 593.21,369.87 586.71,368.63" fill="#92ff00"/>
<polygon points="422.77,377.35 429.19,372.00 422.71,371.50 416.30,376.77" fill="#47ff00"/>
<polygon points="448.67,368.84 455.17,364.54 448.64,363.70 442.15,367.92" fill="#d4ff00"/>
<polygon points="619.30,381.28 625.71,383.42 619.20,379.97 612.77,377.79" fill="#00ff15"/>
<polygon points="645.02,393.71 651.32,396.80 644.87,392.89 638.56,389.75" fill="#00fff3"/>
<polygon points="442.19,373.75 448.67,368.84 442.15,367.92 435.68,372.75" fill="#acff00"/>
<polygon points="625.80,385.06 632.20,387.14 625.71,383.42 619.30,381.28" fill="#00ff30"/>
<polygon points="481.37,364.63 487.94,361.28 481.36,359.83 474.80,363.11" fill="#ffc700"/>
<polygon points="494.52,362.99 501.10,360.15 494.51,358.51 487.94,361.28" fill="#ffb100"/>
<polygon points="507.70,362.04 514.29,359.71 507.69,357.88 501.10,360.15" fill="#ffa500"/>
<polygon points="520.89,361.80 527.49,359.96 520.89,357.94 514.29,359.71" fill="#ffa300"/>
<polygon points="547.28,363.39 553.87,362.56 547.27,360.14 540.68,360.91" fill="#ffbe00"/>
<polygon points="560.46,365.24 567.04,364.90 560.45,362.27 553.87,362.56" fill="#ffda00"/>
<polygon points="573.62,367.80 580.18,367.94 573.60,365.11 567.04,364.90" fill="#fcff00"/>
<polygon points="586.75,371.05 593.27,371.68 586.71,368.63 580.18,367.94" fill="#c3ff00"/>
<polygon points="429.25,378.18 435.68,372.75 429.19,372.00 422.77,377.35" fill="#63ff00"/>
<polygon points="455.20,370.01 461.71,365.63 455.17,364.54 448.67,368.84" fill="#e9ff00"/>
<polygon points="468.26,366.97 474.80,363.11 468.24,361.84 461.71,365.63" fill="#ffe800"/>
<polygon points="534.09,362.25 540.68,360.91 534.08,358.69 527.49,359.96" fill="#ffab00"/>
<polygon points="599.83,375.01 606.32,376.13 599.77,372.86 593.27,371.68" fill="#7fff00"/>
<polygon points="612.85,379.68 619.30,381.28 612.77,377.79 606.32,376.13" fill="#2fff00"/>
<polygon points="638.68,391.15 645.02,393.71 638.56,389.75 632.20,387.14" fill="#00ff9c"/>
<polygon points="416.38,383.32 422.77,377.35 416.30,376.77 409.93,382.65" fill="#0eff00"/>
<polygon points="651.46,397.96 657.74,400.99 651.32,396.80 645.02,393.71" fill="#00e9ff"/>
<polygon points="448.71,375.00 455.20,370.01 448.67,368.84 442.19,373.75" fill="#c0ff00"/>
<polygon points="619.36,383.52 625.80,385.06 619.30,381.28 612.85,379.68" fill="#14ff00"/>
<polygon points="487.95,366.42 494.52,362.99 487.94,361.28 481.37,364.63" fill="#ffbf00"/>
<polygon points="501.11,364.96 507.70,362.04 501.10,360.15 494.52,362.99" fill="#ffac00"/>
<polygon points="514.29,364.21 520.89,361.80 514.29,359.71 507.70,362.04" fill="#ffa300"/>
<polygon points="553.88,366.15 560.46,365.24 553.87,362.56 547.28,363.39" fill="#ffc500"/>
<polygon points="567.05,368.21 573.62,367.80 567.04,364.90 560.46,365.24" fill="#ffe500"/>
<polygon points="580.20,370.97 586.75,371.05 580.18,367.94 573.62,367.80" fill="#edff00"/>
<polygon points="410.04,389.90 416.38,383.32 409.93,382.65 403.60,389.15" fill="#00ff36"/>
<polygon points="435.75,379.26 442.19,373.75 435.68,372.75 429.25,378.18" fill="#7aff00"/>
<polygon points="474.82,368.58 481.37,364.63 474.80,363.11 468.26,366.97" fill="#ffdc00"/>
<polygon points="593.31,374.45 599.83,375.01 593.27,371.68 586.75,371.05" fill="#b0ff00"/>
<polygon points="632.29,389.13 638.68,391.15 632.20,387.14 625.80,385.06" fill="#00ff4f"/>
<polygon points="657.88,402.51 664.15,405.49 657.74,400.99 651.46,397.96" fill="#00c5ff"/>
<polygon points="527.49,364.15 534.09,362.25 527.49,359.96 520.89,361.80" fill="#ffa400"/>
<polygon points="540.68,364.80 547.28,363.39 540.68,360.91 534.09,362.25" fill="#ffaf00"/>
<polygon points="422.85,384.23 429.25,378.18 422.77,377.35 416.38,383.32" fill="#29ff00"/>
<polygon points="461.74,371.44 468.26,366.97 461.71,365.63 455.20,370.01" fill="#f9ff00"/>
<polygon points="606.36,378.63 612.85,379.68 606.32,376.13 599.83,375.01" fill="#68ff00"/>
<polygon points="645.13,395.46 651.46,397.96 645.02,393.71 638.68,391.15" fill="#00ffbf"/>
<polygon points="494.53,368.47 501.11,364.96 494.52,362.99 487.95,366.42" fill="#ffba00"/>
<polygon points="507.70,367.20 514.29,364.21 507.70,362.04 501.11,364.96" fill="#ffaa00"/>
<polygon points="560.47,369.19 567.05,368.21 560.46,365.24 553.88,366.15" fill="#ffd000"/>
<polygon points="573.63,371.46 580.20,370.97 573.62,367.80 567.05,368.21" fill="#fff300"/>
<polygon points="416.49,390.90 422.85,384.23 416.38,383.32 410.04,389.90" fill="#00ff1a"/>
<polygon points="442.26,380.60 448.71,375.00 442.19,373.75 435.75,379.26" fill="#8eff00"/>
<polygon points="455.25,376.51 461.74,371.44 455.20,370.01 448.71,375.00" fill="#d0ff00"/>
<polygon points="481.39,370.45 487.95,366.42 481.37,364.63 474.82,368.58" fill="#ffd500"/>
<polygon points="586.76,374.43 593.31,374.45 586.75,371.05 580.20,370.97" fill="#d9ff00"/>
<polygon points="612.89,382.53 619.36,383.52 612.85,379.68 606.36,378.63" fill="#4eff00"/>
<polygon points="625.86,387.65 632.29,389.13 625.80,385.06 619.36,383.52" fill="#00ff0a"/>
<polygon points="651.57,400.06 657.88,402.51 651.46,397.96 645.13,395.46" fill="#00ffe6"/>
<polygon points="520.89,366.64 527.49,364.15 520.89,361.80 514.29,364.21" fill="#ffa400"/>
<polygon points="547.28,367.63 553.88,366.15 547.28,363.39 540.68,364.80" fill="#ffb700"/>
<polygon points="429.34,385.40 435.75,379.26 429.25,378.18 422.85,384.23" fill="#40ff00"/>
<polygon points="468.30,373.13 474.82,368.58 468.26,366.97 461.74,371.44" fill="#fff900"/>
<polygon points="534.08,366.78 540.68,364.80 534.09,362.25 527.49,364.15" fill="#ffa900"/>
<polygon points="599.85,378.13 606.36,378.63 599.83,375.01 593.31,374.45" fill="#99ff00"/>
<polygon points="638.76,393.50 645.13,395.46 638.68,391.15 632.29,389.13" fill="#00ff72"/>
<polygon points="501.12,370.80 507.70,367.20 501.11,364.96 494.53,368.47" fill="#ffb900"/>
<polygon points="567.05,372.51 573.63,371.46 567.05,368.21 560.47,369.19" fill="#ffde00"/>
<polygon points="422.96,392.16 429.34,385.40 422.85,384.23 416.49,390.90" fill="#00ff03"/>
<polygon points="461.79,378.28 468.30,373.13 461.74,371.44 455.25,376.51" fill="#dbff00"/>
<polygon points="487.97,372.58 494.53,368.47 487.95,366.42 481.39,370.45" fill="#ffd100"/>
<polygon points="580.20,374.99 586.76,374.43 580.20,370.97 573.63,371.46" fill="#f9ff00"/>
<polygon points="606.39,382.10 612.89,382.53 606.36,378.63 599.85,378.13" fill="#7eff00"/>
<polygon points="645.20,398.16 651.57,400.06 645.13,395.46 638.76,393.50" fill="#00ff9a"/>
<polygon points="514.29,369.72 520.89,366.64 514.29,364.21 507.70,367.20" fill="#ffac00"/>
<polygon points="553.87,370.74 560.47,369.19 553.88,366.15 547.28,367.63" fill="#ffc200"/>
<polygon points="435.83,386.82 442.26,380.60 435.75,379.26 429.34,385.40" fill="#53ff00"/>
<polygon points="448.78,382.20 455.25,376.51 448.71,375.00 442.26,380.60" fill="#9dff00"/>
<polygon points="474.86,375.08 481.39,370.45 474.82,368.58 468.30,373.13" fill="#fff200"/>
<polygon points="527.48,369.35 534.08,366.78 527.49,364.15 520.89,366.64" fill="#ffaa00"/>
<polygon points="540.68,369.69 547.28,367.63 540.68,364.80 534.08,366.78" fill="#ffb100"/>
<polygon points="593.32,378.18 599.85,378.13 593.31,374.45 586.76,374.43" fill="#c1ff00"/>
<polygon points="619.40,386.73 625.86,387.65 619.36,383.52 612.89,382.53" fill="#2fff00"/>
<polygon points="632.34,392.08 638.76,393.50 632.29,389.13 625.86,387.65" fill="#00ff2e"/>
<polygon points="429.45,393.67 435.83,386.82 429.34,385.40 422.96,392.16" fill="#10ff00"/>
<polygon points="468.34,380.32 474.86,375.08 468.30,373.13 461.79,378.28" fill="#e3ff00"/>
<polygon points="494.55,374.99 501.12,370.80 494.53,368.47 487.97,372.58" fill="#ffd000"/>
<polygon points="573.62,376.12 580.20,374.99 573.63,371.46 567.05,372.51" fill="#fff000"/>
<polygon points="599.85,382.22 606.39,382.10 599.85,378.13 593.32,378.18" fill="#a6ff00"/>
<polygon points="638.80,396.81 645.20,398.16 638.76,393.50 632.34,392.08" fill="#00ff56"/>
<polygon points="507.70,373.39 514.29,369.72 507.70,367.20 501.12,370.80" fill="#ffbc00"/>
<polygon points="560.45,374.14 567.05,372.51 560.47,369.19 553.87,370.74" fill="#ffd100"/>
<polygon points="455.31,384.06 461.79,378.28 455.25,376.51 448.78,382.20" fill="#a9ff00"/>
<polygon points="481.42,377.30 487.97,372.58 481.39,370.45 474.86,375.08" fill="#ffee00"/>
<polygon points="520.88,372.51 527.48,369.35 520.89,366.64 514.29,369.72" fill="#ffb200"/>
<polygon points="534.07,372.34 540.68,369.69 534.08,366.78 527.48,369.35" fill="#ffb200"/>
<polygon points="547.27,372.88 553.87,370.74 547.28,367.63 540.68,369.69" fill="#ffbd00"/>
<polygon points="586.76,378.81 593.32,378.18 586.76,374.43 580.20,374.99" fill="#e1ff00"/>
<polygon points="612.90,386.36 619.40,386.73 612.89,382.53 606.39,382.10" fill="#5fff00"/>
<polygon points="442.34,388.51 448.78,382.20 442.26,380.60 435.83,386.82" fill="#62ff00"/>
<polygon points="625.89,391.22 632.34,392.08 625.86,387.65 619.40,386.73" fill="#0cff00"/>
<polygon points="474.90,382.63 481.42,377.30 474.86,375.08 468.34,380.32" fill="#e7ff00"/>
<polygon points="593.30,382.92 599.85,382.22 593.32,378.18 586.76,378.81" fill="#c5ff00"/>
<polygon points="435.94,395.45 442.34,388.51 435.83,386.82 429.45,393.67" fill="#1eff00"/>
<polygon points="461.85,386.19 468.34,380.32 461.79,378.28 455.31,384.06" fill="#b0ff00"/>
<polygon points="487.99,379.79 494.55,374.99 487.97,372.58 481.42,377.30" fill="#ffee00"/>
<polygon points="501.13,377.67 507.70,373.39 501.12,370.80 494.55,374.99" fill="#ffd300"/>
<polygon points="514.29,376.27 520.88,372.51 514.29,369.72 507.70,373.39" fill="#ffc200"/>
<polygon points="527.47,375.58 534.07,372.34 527.48,369.35 520.88,372.51" fill="#ffbb00"/>
<polygon points="540.66,375.61 547.27,372.88 540.68,369.69 534.07,372.34" fill="#ffbe00"/>
<polygon points="553.85,376.35 560.45,374.14 553.87,370.74 547.27,372.88" fill="#ffcc00"/>
<polygon points="567.02,377.82 573.62,376.12 567.05,372.51 560.45,374.14" fill="#ffe300"/>
<polygon points="580.18,380.01 586.76,378.81 580.20,374.99 573.62,376.12" fill="#f8ff00"/>
<polygon points="606.38,386.56 612.90,386.36 606.39,382.10 599.85,382.22" fill="#86ff00"/>
<polygon points="632.35,396.02 638.80,396.81 632.34,392.08 625.89,391.22" fill="#00ff1c"/>
<polygon points="448.87,390.46 455.31,384.06 448.78,382.20 442.34,388.51" fill="#6dff00"/>
<polygon points="619.40,390.92 625.89,391.22 619.40,386.73 612.90,386.36" fill="#3bff00"/>
<polygon points="481.46,385.22 487.99,379.79 481.42,377.30 474.90,382.63" fill="#e7ff00"/>
<polygon points="586.73,384.20 593.30,382.92 586.76,378.81 580.18,380.01" fill="#dbff00"/>
<polygon points="442.45,397.50 448.87,390.46 442.34,388.51 435.94,395.45" fill="#29ff00"/>
<polygon points="468.40,388.59 474.90,382.63 468.34,380.32 461.85,386.19" fill="#b3ff00"/>
<polygon points="520.87,379.42 527.47,375.58 520.88,372.51 514.29,376.27" fill="#ffcb00"/>
<polygon points="534.06,378.93 540.66,375.61 534.07,372.34 527.47,375.58" fill="#ffc700"/>
<polygon points="547.24,379.16 553.85,376.35 547.27,372.88 540.66,375.61" fill="#ffce00"/>
<polygon points="599.83,387.33 606.38,386.56 599.85,382.22 593.30,382.92" fill="#a4ff00"/>
<polygon points="625.88,395.79 632.35,396.02 625.89,391.22 619.40,390.92" fill="#14ff00"/>
<polygon points="507.71,380.63 514.29,376.27 507.70,373.39 501.13,377.67" fill="#ffd900"/>
<polygon points="560.42,380.12 567.02,377.82 560.45,374.14 553.85,376.35" fill="#ffde00"/>
<polygon points="455.40,392.68 461.85,386.19 455.31,384.06 448.87,390.46" fill="#74ff00"/>
<polygon points="494.57,382.57 501.13,377.67 494.55,374.99 487.99,379.79" fill="#fff200"/>
<polygon points="573.59,381.80 580.18,380.01 573.62,376.12 567.02,377.82" fill="#fff900"/>
<polygon points="612.88,391.20 619.40,390.92 612.90,386.36 606.38,386.56" fill="#62ff00"/>
<polygon points="448.97,399.82 455.40,392.68 448.87,390.46 442.45,397.50" fill="#2fff00"/>
<polygon points="474.95,391.27 481.46,385.22 474.90,382.63 468.40,388.59" fill="#b2ff00"/>
<polygon points="488.03,388.08 494.57,382.57 487.99,379.79 481.46,385.22" fill="#e2ff00"/>
<polygon points="514.29,383.88 520.87,379.42 514.29,376.27 507.71,380.63" fill="#ffe300"/>
<polygon points="527.46,382.86 534.06,378.93 527.47,375.58 520.87,379.42" fill="#ffd800"/>
<polygon points="540.63,382.57 547.24,379.16 540.66,375.61 534.06,378.93" fill="#ffd800"/>
<polygon points="553.82,383.01 560.42,380.12 553.85,376.35 547.24,379.16" fill="#ffe100"/>
<polygon points="580.14,386.07 586.73,384.20 580.18,380.01 573.59,381.80" fill="#e8ff00"/>
<polygon points="593.26,388.69 599.83,387.33 593.30,382.92 586.73,384.20" fill="#baff00"/>
<polygon points="619.37,396.14 625.88,395.79 619.40,390.92 612.88,391.20" fill="#3aff00"/>
<polygon points="461.93,395.18 468.40,388.59 461.85,386.19 455.40,392.68" fill="#77ff00"/>
<polygon points="606.34,392.05 612.88,391.20 606.38,386.56 599.83,387.33" fill="#80ff00"/>
<polygon points="501.14,385.62 507.71,380.63 501.13,377.67 494.57,382.57" fill="#fff800"/>
<polygon points="566.99,384.18 573.59,381.80 567.02,377.82 560.42,380.12" fill="#fff500"/>
<polygon points="455.50,402.41 461.93,395.18 455.40,392.68 448.97,399.82" fill="#31ff00"/>
<polygon points="534.03,386.59 540.63,382.57 534.06,378.93 527.46,382.86" fill="#ffe900"/>
<polygon points="612.83,397.06 619.37,396.14 612.88,391.20 606.34,392.05" fill="#58ff00"/>
<polygon points="468.48,397.95 474.95,391.27 468.40,388.59 461.93,395.18" fill="#75ff00"/>
<polygon points="481.51,394.22 488.03,388.08 481.46,385.22 474.95,391.27" fill="#aeff00"/>
<polygon points="494.59,391.22 501.14,385.62 494.57,382.57 488.03,388.08" fill="#daff00"/>
<polygon points="507.72,388.95 514.29,383.88 507.71,380.63 501.14,385.62" fill="#fbff00"/>
<polygon points="520.87,387.41 527.46,382.86 520.87,379.42 514.29,383.88" fill="#fff100"/>
<polygon points="547.21,386.51 553.82,383.01 547.24,379.16 540.63,382.57" fill="#ffeb00"/>
<polygon points="560.38,387.15 566.99,384.18 560.42,380.12 553.82,383.01" fill="#fff800"/>
<polygon points="573.54,388.53 580.14,386.07 573.59,381.80 566.99,384.18" fill="#edff00"/>
<polygon points="586.67,390.64 593.26,388.69 586.73,384.20 580.14,386.07" fill="#c7ff00"/>
<polygon points="599.77,393.48 606.34,392.05 599.83,387.33 593.26,388.69" fill="#95ff00"/>
<polygon points="462.03,405.28 468.48,397.95 461.93,395.18 455.50,402.41" fill="#30ff00"/>
<polygon points="501.16,394.66 507.72,388.95 501.14,385.62 494.59,391.22" fill="#ceff00"/>
<polygon points="527.44,391.23 534.03,386.59 527.46,382.86 520.87,387.41" fill="#fcff00"/>
<polygon points="540.60,390.62 547.21,386.51 540.63,382.57 534.03,386.59" fill="#fffd00"/>
<polygon points="566.93,391.59 573.54,388.53 566.99,384.18 560.38,387.15" fill="#e9ff00"/>
<polygon points="606.27,398.58 612.83,397.06 606.34,392.05 599.77,393.48" fill="#6dff00"/>
<polygon points="475.02,401.01 481.51,394.22 474.95,391.27 468.48,397.95" fill="#70ff00"/>
<polygon points="488.07,397.47 494.59,391.22 488.03,388.08 481.51,394.22" fill="#a5ff00"/>
<polygon points="514.29,392.58 520.87,387.41 514.29,383.88 507.72,388.95" fill="#ebff00"/>
<polygon points="553.77,390.74 560.38,387.15 553.82,383.01 547.21,386.51" fill="#fbff00"/>
<polygon points="580.08,393.19 586.67,390.64 580.14,386.07 573.54,388.53" fill="#ccff00"/>
<polygon points="593.19,395.51 599.77,393.48 593.26,388.69 586.67,390.64" fill="#a2ff00"/>
<polygon points="468.56,408.44 475.02,401.01 468.48,397.95 462.03,405.28" fill="#2aff00"/>
<polygon points="494.63,401.00 501.16,394.66 494.59,391.22 488.07,397.47" fill="#98ff00"/>
<polygon points="507.73,398.38 514.29,392.58 507.72,388.95 501.16,394.66" fill="#bdff00"/>
<polygon points="520.85,396.50 527.44,391.23 520.87,387.41 514.29,392.58" fill="#d7ff00"/>
<polygon points="534.00,395.35 540.60,390.62 534.03,386.59 527.44,391.23" fill="#e5ff00"/>
<polygon points="547.16,394.94 553.77,390.74 547.21,386.51 540.60,390.62" fill="#e7ff00"/>
<polygon points="560.32,395.27 566.93,391.59 560.38,387.15 553.77,390.74" fill="#ddff00"/>
<polygon points="573.47,396.34 580.08,393.19 573.54,388.53 566.93,391.59" fill="#c7ff00"/>
<polygon points="599.70,400.70 606.27,398.58 599.77,393.48 593.19,395.51" fill="#79ff00"/>
<polygon points="481.57,404.35 488.07,397.47 481.51,394.22 475.02,401.01" fill="#67ff00"/>
<polygon points="586.60,398.15 593.19,395.51 586.67,390.64 580.08,393.19" fill="#a6ff00"/>
<polygon points="514.29,402.39 520.85,396.50 514.29,392.58 507.73,398.38" fill="#a9ff00"/>
<polygon points="553.71,399.57 560.32,395.27 553.77,390.74 547.16,394.94" fill="#c7ff00"/>
<polygon points="475.10,411.88 481.57,404.35 475.02,401.01 468.56,408.44" fill="#20ff00"/>
<polygon points="488.12,407.98 494.63,401.00 488.07,397.47 481.57,404.35" fill="#59ff00"/>
<polygon points="501.18,404.82 507.73,398.38 501.16,394.66 494.63,401.00" fill="#87ff00"/>
<polygon points="527.41,400.71 534.00,395.35 527.44,391.23 520.85,396.50" fill="#bfff00"/>
<polygon points="540.56,399.77 547.16,394.94 540.60,390.62 534.00,395.35" fill="#c9ff00"/>
<polygon points="566.86,400.11 573.47,396.34 566.93,391.59 560.32,395.27" fill="#baff00"/>
<polygon points="579.99,401.39 586.60,398.15 580.08,393.19 573.47,396.34" fill="#a1ff00"/>
<polygon points="593.10,403.42 599.70,400.70 593.19,395.51 586.60,398.15" fill="#7cff00"/>
<polygon points="481.64,415.62 488.12,407.98 481.57,404.35 475.10,411.88" fill="#12ff00"/>
<polygon points="507.74,408.93 514.29,402.39 507.73,398.38 501.18,404.82" fill="#72ff00"/>
<polygon points="520.84,406.71 527.41,400.71 520.85,396.50 514.29,402.39" fill="#90ff00"/>
<polygon points="547.11,404.49 553.71,399.57 547.16,394.94 540.56,399.77" fill="#a9ff00"/>
<polygon points="560.25,404.50 566.86,400.11 560.32,395.27 553.71,399.57" fill="#a4ff00"/>
<polygon points="586.50,406.75 593.10,403.42 586.60,398.15 579.99,401.39" fill="#77ff00"/>
<polygon points="494.67,411.90 501.18,404.82 494.63,401.00 488.12,407.98" fill="#48ff00"/>
<polygon points="533.97,405.23 540.56,399.77 534.00,395.35 527.41,400.71" fill="#a3ff00"/>
<polygon points="573.39,405.25 579.99,401.39 573.47,396.34 566.86,400.11" fill="#93ff00"/>
<polygon points="488.18,419.64 494.67,411.90 488.12,407.98 481.64,415.62" fill="#00ff00"/>
<polygon points="501.21,416.12 507.74,408.93 501.18,404.82 494.67,411.90" fill="#32ff00"/>
<polygon points="514.29,413.35 520.84,406.71 514.29,402.39 507.74,408.93" fill="#59ff00"/>
<polygon points="527.39,411.32 533.97,405.23 527.41,400.71 520.84,406.71" fill="#73ff00"/>
<polygon points="540.51,410.05 547.11,404.49 540.56,399.77 533.97,405.23" fill="#82ff00"/>
<polygon points="553.64,409.52 560.25,404.50 553.71,399.57 547.11,404.49" fill="#86ff00"/>
<polygon points="566.78,409.74 573.39,405.25 566.86,400.11 560.25,404.50" fill="#7dff00"/>
<polygon points="579.89,410.71 586.50,406.75 579.99,401.39 573.39,405.25" fill="#68ff00"/>
<polygon points="494.72,423.97 501.21,416.12 494.67,411.90 488.18,419.64" fill="#00ff17"/>
<polygon points="533.93,416.25 540.51,410.05 533.97,405.23 527.39,411.32" fill="#53ff00"/>
<polygon points="573.28,415.29 579.89,410.71 573.39,405.25 566.78,409.74" fill="#52ff00"/>
<polygon points="507.76,420.65 514.29,413.35 507.74,408.93 501.21,416.12" fill="#19ff00"/>
<polygon points="520.83,418.07 527.39,411.32 520.84,406.71 514.29,413.35" fill="#3cff00"/>
<polygon points="547.05,415.18 553.64,409.52 547.11,404.49 540.51,410.05" fill="#5eff00"/>
<polygon points="560.17,414.86 566.78,409.74 560.25,404.50 553.64,409.52" fill="#5eff00"/>
<polygon points="501.25,428.60 507.76,420.65 501.21,416.12 494.72,423.97" fill="#00ff32"/>
<polygon points="527.36,423.10 533.93,416.25 527.39,411.32 520.83,418.07" fill="#1bff00"/>
<polygon points="540.46,421.48 547.05,415.18 540.51,410.05 533.93,416.25" fill="#2eff00"/>
<polygon points="566.68,420.51 573.28,415.29 566.78,409.74 560.17,414.86" fill="#32ff00"/>
<polygon points="514.29,425.47 520.83,418.07 514.29,413.35 507.76,420.65" fill="#00ff05"/>
<polygon points="553.57,420.62 560.17,414.86 553.64,409.52 547.05,415.18" fill="#36ff00"/>
<polygon points="507.78,433.54 514.29,425.47 507.76,420.65 501.25,428.60" fill="#00ff52"/>
<polygon points="520.82,430.61 527.36,423.10 520.83,418.07 514.29,425.47" fill="#00ff28"/>
<polygon points="533.89,428.44 540.46,421.48 533.93,416.25 527.36,423.10" fill="#00ff0b"/>
<polygon points="546.98,427.03 553.57,420.62 547.05,415.18 540.46,421.48" fill="#05ff00"/>
<polygon points="560.07,426.38 566.68,420.51 560.17,414.86 553.57,420.62" fill="#0aff00"/>
<polygon points="514.30,438.79 520.82,430.61 514.29,425.47 507.78,433.54" fill="#00ff75"/>
<polygon points="553.48,432.89 560.07,426.38 553.57,420.62 546.98,427.03" fill="#00ff29"/>
<polygon points="527.34,436.06 533.89,428.44 527.36,423.10 520.82,430.61" fill="#00ff50"/>
<polygon points="540.40,434.09 546.98,427.03 540.46,421.48 533.89,428.44" fill="#00ff36"/>
<polygon points="520.81,444.35 527.34,436.06 520.82,430.61 514.30,438.79" fill="#00ff9d"/>
<polygon points="546.90,440.07 553.48,432.89 546.98,427.03 540.40,434.09" fill="#00ff66"/>
<polygon points="533.84,441.83 540.40,434.09 533.89,428.44 527.34,436.06" fill="#00ff7b"/>
<polygon points="527.31,450.23 533.84,441.83 527.34,436.06 520.81,444.35" fill="#00ffca"/>
<polygon points="540.34,447.91 546.90,440.07 540.40,434.09 533.84,441.83" fill="#00ffab"/>
<polygon points="533.80,456.43 540.34,447.91 533.84,441.83 527.31,450.23" fill="#00fffa"/>
</g>
<circle cx="533.90" cy="358.60" r="2.9" fill="#dd0000" stroke="#6a0000" stroke-width="0.8"/>
<circle cx="472.20" cy="349.50" r="2.6" fill="none" stroke="#e8a0b0" stroke-width="0.9"/>
<circle cx="463.50" cy="408.10" r="2.6" fill="none" stroke="#e8a0b0" stroke-width="0.9"/>
<circle cx="604.50" cy="399.10" r="2.6" fill="none" stroke="#e8a0b0" stroke-width="0.9"/>
<text x="395.50" y="347.30" font-size="11.50" text-anchor="end" font-family="Liberation Sans, sans-serif" fill="#1a1a1a" stroke="#1a1a1a" stroke-width="0.30">20</text>
<text x="397.02" y="384.74" font-size="11.50" text-anchor="end" font-family="Liberation Sans, sans-serif" fill="#1a1a1a" stroke="#1a1a1a" stroke-width="0.30">10</text>
<text x="398.55" y="422.18" font-size="11.50" text-anchor="end" font-family="Liberation Sans, sans-serif" fill="#1a1a1a" stroke="#1a1a1a" stroke-width="0.30">0</text>
<text x="400.07" y="459.61" font-size="11.50" text-anchor="end" font-family="Liberation Sans, sans-serif" fill="#1a1a1a" stroke="#1a1a1a" stroke-width="0.30">-10</text>
<text x="401.60" y="497.05" font-size="11.50" text-anchor="end" font-family="Liberation Sans, sans-serif" fill="#1a1a1a" stroke="#1a1a1a" stroke-width="0.30">-20</text>
<text x="399.50" y="557.60" font-size="11.50" text-anchor="middle" font-family="Liberation Sans, sans-serif" fill="#1a1a1a" stroke="#1a1a1a" stroke-width="0.30">2</text>
<text x="430.45" y="574.60" font-size="11.50" text-anchor="middle" font-family="Liberation Sans, sans-serif" fill="#1a1a1a" stroke="#1a1a1a" stroke-width="0.30">1</text>
<text x="461.40" y="591.60" font-size="11.50" text-anchor="middle" font-family="Liberation Sans, sans-serif" fill="#1a1a1a" stroke="#1a1a1a" stroke-width="0.30">0</text>
<text x="492.35" y="608.60" font-size="11.50" text-anchor="middle" font-family="Liberation Sans, sans-serif" fill="#1a1a1a" stroke="#1a1a1a" stroke-width="0.30">-1</text>
<text x="523.30" y="625.60" font-size="11.50" text-anchor="middle" font-family="Liberation Sans, sans-serif" fill="#1a1a1a" stroke="#1a1a1a" stroke-width="0.30">-2</text>
<text x="544.30" y="625.60" font-size="11.50" text-anchor="middle" font-family="Liberation Sans, sans-serif" fill="#1a1a1a" stroke="#1a1a1a" stroke-width="0.30">-2</text>
<text x="575.25" y="608.60" font-size="11.50" text-anchor="middle" font-family="Liberation Sans, sans-serif" fill="#1a1a1a" stroke="#1a1a1a" stroke-width="0.30">-1</text>
<text x="606.20" y="591.60" font-size="11.50" text-anchor="middle" font-family="Liberation Sans, sans-serif" fill="#1a1a1a" stroke="#1a1a1a" stroke-width="0.30">0</text>
<text x="637.15" y="574.60" font-size="11.50" text-anchor="middle" font-family="Liberation Sans, sans-serif" fill="#1a1a1a" stroke="#1a1a1a" stroke-width="0.30">1</text>
<text x="668.10" y="557.60" font-size="11.50" text-anchor="middle" font-family="Liberation Sans, sans-serif" fill="#1a1a1a" stroke="#1a1a1a" stroke-width="0.30">2</text>
<text x="0" y="0" font-size="11.30" text-anchor="middle" font-family="Liberation Sans, sans-serif" fill="#1a1a1a" textLength="114.00" lengthAdjust="spacingAndGlyphs" transform="translate(366.00 450.50) rotate(-90)" stroke="#1a1a1a" stroke-width="0.30">Glutamic acid (mg.mL)</text>
<text x="424.20" y="610.50" font-size="9.50" text-anchor="middle" font-family="Liberation Sans, sans-serif" fill="#1a1a1a" textLength="52.00" lengthAdjust="spacingAndGlyphs" stroke="#1a1a1a" stroke-width="0.30">biotin  (µg.L)</text>
<text x="643.60" y="610.50" font-size="9.80" text-anchor="middle" font-family="Liberation Sans, sans-serif" fill="#1a1a1a" textLength="64.00" lengthAdjust="spacingAndGlyphs" stroke="#1a1a1a" stroke-width="0.30">glucose  (g.dL)</text>
<g fill="none" stroke="#3c3c3c" stroke-width="1.0">
<polyline points="429.93,853.93 558.43,808.53 686.11,853.83"/>
<polyline points="428.42,819.27 558.37,777.02 687.73,819.10"/>
<polyline points="426.92,784.61 558.31,745.52 689.36,784.37"/>
<polyline points="425.41,749.96 558.26,714.01 690.98,749.63"/>
<polyline points="423.90,715.30 558.20,682.50 692.60,714.90"/>
</g>
<g fill="none" stroke="#6e6e6e" stroke-width="1.0">
<line x1="462.06" y1="842.58" x2="457.47" y2="707.10"/>
<line x1="654.19" y1="842.51" x2="659.00" y2="706.80"/>
<line x1="494.18" y1="831.23" x2="491.05" y2="698.90"/>
<line x1="622.27" y1="831.18" x2="625.40" y2="698.70"/>
<line x1="526.30" y1="819.88" x2="524.62" y2="690.70"/>
<line x1="590.35" y1="819.86" x2="591.80" y2="690.60"/>
<line x1="431.80" y1="896.90" x2="423.90" y2="715.30"/>
<line x1="558.50" y1="847.60" x2="558.20" y2="682.50"/>
<line x1="684.10" y1="896.90" x2="692.60" y2="714.90"/>
</g>
<circle cx="429.93" cy="853.93" r="1.2" fill="#111"/>
<circle cx="428.42" cy="819.27" r="1.2" fill="#111"/>
<circle cx="426.92" cy="784.61" r="1.2" fill="#111"/>
<circle cx="425.41" cy="749.96" r="1.2" fill="#111"/>
<circle cx="423.90" cy="715.30" r="1.2" fill="#111"/>
<polygon points="431.80,896.90 558.50,847.60 684.10,896.90 558.50,961.80" fill="#646464" stroke="#2a2a2a" stroke-width="0.8"/>
<defs><clipPath id="fc3"><polygon points="431.80,896.90 558.50,847.60 684.10,896.90 558.50,961.80"/></clipPath></defs>
<g clip-path="url(#fc3)" fill="none" stroke-width="1.5">
<polyline points="418.33,911.22 418.27,909.47 418.34,907.73 418.51,906.01 418.80,904.31 419.20,902.63 419.72,900.96 420.34,899.31 421.08,897.69 421.93,896.08 422.89,894.50 423.96,892.94 425.14,891.40 426.43,889.89 427.83,888.41 429.33,886.95 430.94,885.52 432.65,884.11 434.47,882.73 436.38,881.39 438.40,880.06 440.52,878.77 442.74,877.51 445.05,876.28 447.46,875.08 449.95,873.90 452.54,872.76 455.22,871.65 457.99,870.57 460.84,869.52 463.78,868.50 466.80,867.51 469.89,866.56 473.07,865.63 476.32,864.74 479.64,863.88 483.03,863.04 486.49,862.24 490.01,861.47 493.60,860.74 497.25,860.03 500.96,859.35 504.72,858.71 508.54,858.09 512.40,857.51 516.32,856.95 520.27,856.43 524.27,855.94 528.31,855.47 532.39,855.04 536.50,854.64 540.64,854.27 544.80,853.92 549.00,853.61 553.21,853.33 557.45,853.07 561.70,852.85 565.96,852.66 570.24,852.49 574.52,852.36 578.81,852.25 583.10,852.18 587.38,852.13 591.67,852.12 595.94,852.13 600.21,852.17 604.46,852.25 608.70,852.35 612.92,852.49 617.12,852.65 621.29,852.85 625.43,853.07 629.55,853.33 633.63,853.61 637.68,853.93 641.68,854.28 645.65,854.66 649.57,855.07 653.45,855.52 657.28,855.99 661.05,856.50 664.77,857.04 668.44,857.61 672.04,858.22 675.59,858.85 679.07,859.52 682.48,860.23 685.82,860.96 689.10,861.73 692.30,862.53 695.42,863.37 698.47,864.24 701.43,865.14 704.32,866.08 707.12,867.04 709.84,868.05 712.47,869.08 715.01,870.15 717.46,871.25 719.82,872.38 722.09,873.55 724.26,874.75 726.33,875.98 728.30,877.24 730.18,878.54 731.95,879.86 733.63,881.22 735.20,882.60 736.66,884.02 738.02,885.46 739.28,886.94 740.42,888.44 741.47,889.97 742.40,891.52 743.22,893.10 743.93,894.70 744.54,896.33 745.03,897.98 745.42,899.65 745.69,901.35 745.85,903.06 745.90,904.79 745.84,906.54 745.67,908.31 745.39,910.09 744.99,911.88 744.49,913.69 743.87,915.51 743.15,917.33 742.32,919.17 741.37,921.01 740.32,922.86 739.17,924.71 737.90,926.56 736.53,928.41 735.06,930.26 733.48,932.11 731.79,933.95 730.01,935.79 728.13,937.62 726.14,939.44 724.06,941.25 721.88,943.04 719.61,944.82 717.24,946.58 714.78,948.32 712.23,950.04 709.60,951.74 706.87,953.42 704.06,955.07 701.17,956.69 698.19,958.29 695.14,959.85 692.01,961.38 688.80,962.87 685.52,964.33 682.17,965.75 678.75,967.13 675.27,968.47 671.72,969.77 668.11,971.03 664.44,972.24 660.71,973.40 656.93,974.51 653.10,975.58 649.22,976.59 645.29,977.56 641.32,978.47 637.31,979.33 633.26,980.13 629.18,980.88 625.06,981.57 620.91,982.20 616.74,982.78 612.54,983.29 608.32,983.75 604.08,984.15 599.83,984.48 595.56,984.76 591.28,984.98 587.00,985.13 582.71,985.22 578.42,985.25 574.14,985.22 569.85,985.13 565.58,984.98 561.32,984.77 557.07,984.49 552.84,984.16 548.62,983.76 544.43,983.31 540.27,982.79 536.13,982.22 532.02,981.59 527.95,980.91 523.91,980.17 519.92,979.37 515.96,978.52 512.06,977.62 508.20,976.66 504.38,975.66 500.63,974.60 496.93,973.50 493.28,972.35 489.70,971.15 486.18,969.91 482.73,968.63 479.34,967.30 476.03,965.94 472.78,964.54 469.62,963.10 466.53,961.62 463.52,960.11 460.59,958.58 457.74,957.01 454.98,955.41 452.31,953.78 449.73,952.13 447.24,950.46 444.84,948.77 442.54,947.05 440.33,945.32 438.22,943.57 436.21,941.81 434.30,940.04 432.49,938.25 430.79,936.45 429.19,934.65 427.70,932.84 426.31,931.02 425.03,929.21 423.86,927.39 422.80,925.57 421.85,923.75 421.01,921.94 420.28,920.13 419.67,918.33 419.16,916.54 418.77,914.75 418.49,912.98 418.33,911.22" stroke="#0000ff"/>
<polyline points="435.71,912.10 435.66,910.54 435.72,908.99 435.87,907.45 436.13,905.92 436.49,904.41 436.95,902.91 437.51,901.43 438.17,899.96 438.93,898.52 439.79,897.09 440.74,895.68 441.80,894.29 442.95,892.93 444.20,891.58 445.54,890.26 446.98,888.96 448.51,887.68 450.13,886.43 451.84,885.20 453.65,883.99 455.54,882.81 457.52,881.66 459.59,880.53 461.74,879.43 463.97,878.35 466.29,877.30 468.68,876.28 471.15,875.29 473.70,874.32 476.33,873.38 479.02,872.47 481.79,871.59 484.63,870.73 487.53,869.90 490.50,869.10 493.53,868.33 496.62,867.59 499.78,866.87 502.98,866.18 506.25,865.53 509.56,864.90 512.92,864.29 516.33,863.72 519.79,863.17 523.29,862.66 526.83,862.17 530.40,861.71 534.01,861.27 537.66,860.87 541.33,860.49 545.03,860.15 548.76,859.83 552.51,859.53 556.28,859.27 560.07,859.03 563.87,858.82 567.68,858.64 571.51,858.49 575.34,858.37 579.17,858.27 583.01,858.20 586.84,858.16 590.67,858.15 594.50,858.17 598.31,858.21 602.12,858.28 605.91,858.39 609.68,858.52 613.44,858.67 617.17,858.86 620.88,859.08 624.56,859.32 628.21,859.59 631.83,859.89 635.42,860.23 638.97,860.59 642.48,860.97 645.95,861.39 649.37,861.84 652.75,862.32 656.08,862.83 659.36,863.36 662.59,863.93 665.76,864.53 668.87,865.15 671.92,865.81 674.92,866.49 677.85,867.21 680.71,867.95 683.51,868.73 686.23,869.54 688.89,870.37 691.47,871.24 693.98,872.13 696.42,873.06 698.77,874.01 701.05,874.99 703.24,876.00 705.35,877.04 707.38,878.11 709.32,879.21 711.18,880.34 712.94,881.49 714.62,882.67 716.21,883.88 717.71,885.11 719.11,886.37 720.43,887.65 721.65,888.96 722.77,890.30 723.80,891.65 724.73,893.03 725.56,894.44 726.30,895.86 726.94,897.30 727.48,898.77 727.92,900.25 728.27,901.75 728.51,903.27 728.66,904.81 728.70,906.36 728.65,907.92 728.49,909.50 728.24,911.09 727.89,912.69 727.44,914.30 726.89,915.91 726.24,917.54 725.49,919.17 724.65,920.80 723.71,922.44 722.67,924.08 721.54,925.72 720.31,927.36 718.99,929.00 717.58,930.63 716.07,932.26 714.47,933.88 712.79,935.49 711.01,937.10 709.15,938.69 707.20,940.27 705.16,941.83 703.04,943.38 700.84,944.92 698.56,946.43 696.20,947.92 693.76,949.39 691.24,950.84 688.65,952.26 685.99,953.66 683.26,955.03 680.45,956.36 677.58,957.67 674.65,958.95 671.65,960.19 668.59,961.40 665.47,962.57 662.30,963.71 659.06,964.80 655.78,965.86 652.45,966.88 649.06,967.85 645.63,968.78 642.16,969.67 638.65,970.51 635.10,971.30 631.51,972.05 627.88,972.75 624.23,973.41 620.55,974.01 616.83,974.56 613.10,975.06 609.34,975.51 605.57,975.91 601.78,976.26 597.97,976.55 594.15,976.80 590.33,976.99 586.50,977.12 582.66,977.20 578.83,977.23 574.99,977.21 571.16,977.13 567.34,977.00 563.53,976.81 559.73,976.58 555.94,976.28 552.17,975.94 548.43,975.55 544.70,975.10 541.00,974.61 537.33,974.06 533.69,973.46 530.08,972.82 526.51,972.13 522.97,971.39 519.48,970.60 516.03,969.77 512.62,968.89 509.26,967.97 505.95,967.01 502.70,966.01 499.49,964.97 496.35,963.88 493.26,962.76 490.23,961.61 487.27,960.41 484.37,959.19 481.54,957.93 478.78,956.64 476.09,955.32 473.47,953.97 470.93,952.60 468.46,951.20 466.08,949.77 463.77,948.32 461.54,946.85 459.40,945.36 457.34,943.86 455.37,942.33 453.48,940.79 451.69,939.24 449.98,937.68 448.37,936.10 446.84,934.51 445.42,932.92 444.08,931.32 442.84,929.71 441.70,928.11 440.65,926.49 439.71,924.88 438.86,923.27 438.11,921.66 437.45,920.05 436.90,918.45 436.45,916.85 436.10,915.26 435.86,913.68 435.71,912.10" stroke="#0000ff"/>
<polyline points="455.42,912.93 455.38,911.58 455.43,910.23 455.57,908.90 455.79,907.57 456.10,906.25 456.50,904.95 456.98,903.66 457.55,902.38 458.21,901.12 458.95,899.87 459.78,898.64 460.69,897.42 461.69,896.22 462.77,895.04 463.93,893.88 465.17,892.73 466.49,891.60 467.90,890.50 469.38,889.41 470.94,888.34 472.58,887.30 474.29,886.27 476.08,885.27 477.94,884.29 479.87,883.33 481.88,882.40 483.95,881.48 486.09,880.60 488.29,879.73 490.56,878.89 492.90,878.07 495.29,877.28 497.75,876.51 500.26,875.76 502.83,875.04 505.45,874.35 508.13,873.68 510.86,873.03 513.63,872.41 516.46,871.81 519.32,871.24 522.24,870.70 525.19,870.18 528.18,869.68 531.21,869.21 534.27,868.77 537.37,868.35 540.49,867.96 543.65,867.59 546.83,867.25 550.03,866.93 553.26,866.64 556.51,866.38 559.77,866.14 563.05,865.92 566.34,865.73 569.64,865.57 572.95,865.43 576.27,865.32 579.59,865.24 582.91,865.18 586.23,865.14 589.55,865.14 592.86,865.15 596.17,865.20 599.47,865.27 602.75,865.36 606.02,865.48 609.27,865.63 612.50,865.80 615.72,866.00 618.91,866.23 622.07,866.48 625.21,866.76 628.31,867.07 631.39,867.40 634.43,867.75 637.44,868.14 640.40,868.55 643.33,868.99 646.22,869.45 649.06,869.94 651.85,870.45 654.60,871.00 657.30,871.57 659.95,872.16 662.54,872.78 665.08,873.43 667.56,874.10 669.99,874.80 672.35,875.53 674.65,876.28 676.89,877.06 679.07,877.86 681.17,878.69 683.22,879.54 685.19,880.42 687.09,881.32 688.92,882.25 690.68,883.20 692.36,884.18 693.97,885.17 695.50,886.20 696.96,887.24 698.34,888.31 699.63,889.40 700.85,890.51 701.99,891.64 703.05,892.79 704.02,893.96 704.91,895.15 705.72,896.36 706.44,897.58 707.08,898.83 707.64,900.09 708.11,901.36 708.49,902.66 708.79,903.96 709.00,905.28 709.13,906.61 709.16,907.95 709.12,909.31 708.98,910.67 708.76,912.04 708.46,913.42 708.07,914.81 707.59,916.20 707.03,917.60 706.38,919.00 705.65,920.41 704.83,921.81 703.94,923.22 702.95,924.62 701.89,926.03 700.75,927.43 699.52,928.82 698.21,930.21 696.83,931.59 695.37,932.97 693.83,934.33 692.21,935.69 690.52,937.03 688.76,938.36 686.92,939.68 685.01,940.98 683.03,942.26 680.99,943.53 678.87,944.77 676.69,946.00 674.45,947.20 672.14,948.38 669.77,949.54 667.34,950.67 664.85,951.78 662.31,952.85 659.71,953.90 657.06,954.92 654.35,955.91 651.60,956.87 648.80,957.79 645.96,958.68 643.07,959.54 640.14,960.36 637.17,961.14 634.16,961.89 631.11,962.60 628.03,963.27 624.92,963.90 621.79,964.49 618.62,965.03 615.43,965.54 612.21,966.01 608.98,966.43 605.72,966.81 602.45,967.15 599.17,967.44 595.87,967.69 592.57,967.89 589.25,968.05 585.94,968.17 582.61,968.24 579.29,968.26 575.97,968.24 572.66,968.18 569.35,968.07 566.04,967.92 562.75,967.72 559.48,967.48 556.21,967.19 552.97,966.86 549.75,966.49 546.54,966.07 543.36,965.62 540.21,965.12 537.09,964.58 534.00,964.00 530.94,963.38 527.91,962.72 524.92,962.02 521.97,961.28 519.07,960.51 516.20,959.70 513.38,958.86 510.61,957.98 507.89,957.07 505.22,956.13 502.60,955.15 500.04,954.15 497.53,953.11 495.08,952.05 492.69,950.96 490.36,949.85 488.10,948.71 485.90,947.54 483.76,946.36 481.70,945.15 479.70,943.93 477.77,942.68 475.92,941.42 474.14,940.14 472.43,938.84 470.80,937.53 469.25,936.21 467.77,934.88 466.37,933.53 465.06,932.18 463.82,930.82 462.67,929.45 461.59,928.08 460.61,926.70 459.70,925.32 458.88,923.94 458.15,922.55 457.50,921.17 456.93,919.79 456.46,918.41 456.07,917.03 455.77,915.66 455.55,914.29 455.42,912.93" stroke="#0081ff"/>
<polyline points="478.79,913.67 478.76,912.56 478.80,911.46 478.91,910.37 479.09,909.28 479.34,908.20 479.67,907.13 480.06,906.07 480.53,905.02 481.06,903.98 481.67,902.95 482.34,901.93 483.09,900.92 483.90,899.93 484.78,898.94 485.73,897.98 486.74,897.02 487.82,896.08 488.97,895.16 490.17,894.25 491.45,893.36 492.78,892.48 494.18,891.62 495.64,890.78 497.15,889.95 498.73,889.14 500.36,888.35 502.05,887.58 503.80,886.83 505.60,886.09 507.45,885.38 509.35,884.69 511.31,884.01 513.31,883.36 515.36,882.72 517.46,882.11 519.60,881.51 521.78,880.94 524.00,880.38 526.27,879.85 528.57,879.34 530.91,878.85 533.29,878.38 535.70,877.94 538.14,877.51 540.61,877.11 543.11,876.72 545.64,876.36 548.19,876.02 550.76,875.71 553.36,875.41 555.97,875.14 558.61,874.89 561.26,874.66 563.92,874.46 566.60,874.27 569.28,874.11 571.98,873.97 574.68,873.85 577.39,873.76 580.10,873.69 582.81,873.64 585.53,873.61 588.24,873.61 590.94,873.62 593.64,873.66 596.33,873.73 599.01,873.81 601.68,873.92 604.34,874.05 606.98,874.20 609.60,874.38 612.21,874.58 614.79,874.80 617.36,875.04 619.89,875.31 622.41,875.60 624.89,875.91 627.35,876.25 629.77,876.60 632.16,876.98 634.52,877.38 636.84,877.81 639.13,878.25 641.37,878.72 643.58,879.21 645.74,879.72 647.86,880.26 649.94,880.81 651.96,881.39 653.95,881.99 655.88,882.61 657.76,883.25 659.59,883.91 661.37,884.59 663.09,885.29 664.76,886.02 666.37,886.76 667.93,887.52 669.42,888.31 670.86,889.11 672.24,889.93 673.55,890.77 674.80,891.62 675.99,892.50 677.12,893.39 678.18,894.30 679.18,895.22 680.11,896.16 680.97,897.12 681.77,898.09 682.50,899.08 683.16,900.08 683.75,901.09 684.27,902.12 684.73,903.16 685.11,904.21 685.42,905.27 685.67,906.34 685.84,907.42 685.94,908.51 685.97,909.60 685.94,910.71 685.83,911.82 685.65,912.94 685.40,914.06 685.08,915.19 684.69,916.32 684.23,917.45 683.70,918.58 683.10,919.72 682.43,920.85 681.70,921.98 680.90,923.12 680.03,924.25 679.09,925.37 678.09,926.49 677.02,927.61 675.89,928.71 674.69,929.82 673.43,930.91 672.11,931.99 670.73,933.06 669.29,934.12 667.79,935.17 666.23,936.21 664.61,937.23 662.94,938.24 661.21,939.23 659.43,940.20 657.59,941.16 655.70,942.10 653.77,943.01 651.78,943.91 649.75,944.79 647.67,945.64 645.55,946.47 643.38,947.28 641.17,948.06 638.92,948.81 636.63,949.54 634.31,950.25 631.95,950.92 629.55,951.57 627.13,952.19 624.67,952.78 622.18,953.33 619.67,953.86 617.13,954.36 614.56,954.82 611.98,955.26 609.37,955.65 606.74,956.02 604.10,956.35 601.44,956.65 598.77,956.92 596.09,957.15 593.40,957.35 590.70,957.51 587.99,957.64 585.28,957.73 582.57,957.78 579.86,957.81 577.15,957.79 574.44,957.74 571.74,957.66 569.04,957.54 566.36,957.39 563.68,957.20 561.02,956.97 558.37,956.72 555.74,956.43 553.12,956.10 550.53,955.74 547.96,955.35 545.41,954.93 542.88,954.47 540.39,953.99 537.92,953.47 535.48,952.92 533.08,952.34 530.70,951.74 528.37,951.10 526.07,950.43 523.80,949.74 521.58,949.03 519.40,948.28 517.27,947.51 515.18,946.72 513.13,945.90 511.13,945.06 509.18,944.20 507.28,943.32 505.44,942.41 503.64,941.49 501.90,940.55 500.22,939.59 498.59,938.61 497.02,937.62 495.51,936.62 494.05,935.60 492.66,934.56 491.33,933.52 490.06,932.46 488.86,931.39 487.72,930.32 486.65,929.23 485.64,928.14 484.70,927.04 483.82,925.94 483.02,924.83 482.28,923.71 481.61,922.60 481.01,921.48 480.48,920.36 480.02,919.24 479.64,918.12 479.32,917.00 479.07,915.89 478.90,914.77 478.79,913.67" stroke="#00ff76"/>
<polyline points="509.22,914.23 509.20,913.45 509.22,912.67 509.30,911.89 509.43,911.12 509.61,910.36 509.84,909.59 510.12,908.83 510.44,908.08 510.82,907.34 511.25,906.60 511.73,905.86 512.25,905.14 512.82,904.42 513.44,903.71 514.11,903.01 514.83,902.32 515.59,901.64 516.40,900.96 517.25,900.30 518.15,899.65 519.09,899.01 520.08,898.38 521.11,897.76 522.18,897.15 523.29,896.56 524.45,895.97 525.64,895.40 526.87,894.85 528.14,894.30 529.45,893.77 530.80,893.26 532.18,892.75 533.59,892.27 535.04,891.79 536.52,891.33 538.03,890.89 539.57,890.46 541.14,890.04 542.74,889.64 544.37,889.26 546.02,888.89 547.70,888.54 549.40,888.20 551.13,887.88 552.88,887.57 554.64,887.29 556.43,887.01 558.23,886.76 560.05,886.52 561.88,886.30 563.73,886.09 565.59,885.90 567.47,885.73 569.35,885.57 571.24,885.43 573.14,885.31 575.05,885.21 576.96,885.12 578.87,885.05 580.79,885.00 582.71,884.96 584.63,884.94 586.54,884.94 588.46,884.96 590.36,884.99 592.27,885.04 594.16,885.11 596.05,885.19 597.93,885.30 599.80,885.42 601.66,885.55 603.50,885.71 605.33,885.88 607.14,886.06 608.94,886.27 610.72,886.49 612.47,886.73 614.21,886.98 615.93,887.26 617.62,887.54 619.29,887.85 620.93,888.17 622.55,888.51 624.14,888.86 625.70,889.23 627.23,889.62 628.73,890.02 630.20,890.44 631.64,890.87 633.04,891.32 634.41,891.78 635.74,892.26 637.04,892.75 638.29,893.26 639.52,893.78 640.70,894.32 641.84,894.87 642.94,895.43 644.00,896.01 645.02,896.60 645.99,897.20 646.92,897.81 647.81,898.44 648.65,899.08 649.45,899.73 650.20,900.39 650.91,901.06 651.57,901.74 652.18,902.43 652.74,903.14 653.26,903.85 653.73,904.57 654.15,905.29 654.52,906.03 654.84,906.77 655.11,907.52 655.33,908.28 655.51,909.04 655.63,909.81 655.70,910.58 655.72,911.35 655.70,912.14 655.62,912.92 655.49,913.71 655.32,914.49 655.09,915.29 654.81,916.08 654.49,916.87 654.11,917.66 653.69,918.45 653.22,919.24 652.70,920.03 652.13,920.82 651.51,921.60 650.85,922.38 650.14,923.16 649.38,923.93 648.58,924.69 647.73,925.45 646.84,926.20 645.91,926.95 644.93,927.68 643.91,928.41 642.84,929.13 641.74,929.84 640.59,930.54 639.41,931.22 638.18,931.90 636.92,932.56 635.62,933.21 634.29,933.85 632.91,934.48 631.51,935.09 630.07,935.68 628.60,936.26 627.09,936.82 625.56,937.37 624.00,937.90 622.40,938.41 620.79,938.90 619.14,939.38 617.47,939.83 615.77,940.27 614.06,940.69 612.32,941.08 610.56,941.46 608.78,941.82 606.98,942.15 605.17,942.46 603.34,942.76 601.49,943.03 599.63,943.27 597.76,943.50 595.88,943.70 593.99,943.88 592.10,944.03 590.19,944.17 588.28,944.28 586.37,944.36 584.45,944.43 582.54,944.47 580.62,944.48 578.70,944.47 576.79,944.44 574.88,944.39 572.97,944.31 571.07,944.21 569.18,944.08 567.30,943.93 565.43,943.76 563.57,943.57 561.72,943.35 559.89,943.11 558.07,942.85 556.27,942.57 554.48,942.26 552.72,941.94 550.97,941.59 549.25,941.22 547.55,940.84 545.88,940.43 544.22,940.00 542.60,939.55 541.00,939.09 539.43,938.60 537.89,938.10 536.39,937.58 534.91,937.04 533.46,936.49 532.05,935.92 530.68,935.34 529.33,934.74 528.03,934.12 526.76,933.50 525.53,932.86 524.34,932.20 523.19,931.54 522.08,930.86 521.02,930.17 519.99,929.47 519.01,928.76 518.07,928.05 517.18,927.32 516.33,926.58 515.52,925.84 514.76,925.09 514.05,924.34 513.39,923.58 512.77,922.81 512.20,922.04 511.68,921.27 511.21,920.49 510.79,919.71 510.41,918.93 510.09,918.14 509.81,917.36 509.59,916.58 509.42,915.79 509.29,915.01 509.22,914.23" stroke="#a2ff00"/>
</g>
<circle cx="526.83" cy="945.57" r="1.1" fill="#111"/>
<circle cx="589.90" cy="945.57" r="1.1" fill="#111"/>
<circle cx="495.15" cy="929.35" r="1.1" fill="#111"/>
<circle cx="621.30" cy="929.35" r="1.1" fill="#111"/>
<circle cx="463.48" cy="913.12" r="1.1" fill="#111"/>
<circle cx="652.70" cy="913.12" r="1.1" fill="#111"/>
<circle cx="431.80" cy="896.90" r="1.4" fill="#111"/>
<circle cx="684.10" cy="896.90" r="1.4" fill="#111"/>
<circle cx="558.50" cy="961.80" r="1.4" fill="#111"/>
<g stroke="#141414" stroke-width="0.55" stroke-linejoin="round">
<polygon points="558.32,762.12 564.85,765.77 558.36,771.20 551.83,767.51" fill="#0000ff"/>
<polygon points="551.76,758.90 558.32,762.12 551.83,767.51 545.27,764.25" fill="#0000ff"/>
<polygon points="564.84,757.16 571.38,760.77 564.85,765.77 558.32,762.12" fill="#0000ff"/>
<polygon points="545.18,756.13 551.76,758.90 545.27,764.25 538.69,761.44" fill="#0000ff"/>
<polygon points="558.28,753.98 564.84,757.16 558.32,762.12 551.76,758.90" fill="#0000ff"/>
<polygon points="571.41,752.63 577.94,756.20 571.38,760.77 564.84,757.16" fill="#0000ff"/>
<polygon points="538.58,753.81 545.18,756.13 538.69,761.44 532.10,759.08" fill="#0000ff"/>
<polygon points="551.70,751.25 558.28,753.98 551.76,758.90 545.18,756.13" fill="#0000ff"/>
<polygon points="564.85,749.49 571.41,752.63 564.84,757.16 558.28,753.98" fill="#0000ff"/>
<polygon points="578.00,748.54 584.53,752.07 577.94,756.20 571.41,752.63" fill="#0000ff"/>
<polygon points="545.10,748.97 551.70,751.25 545.18,756.13 538.58,753.81" fill="#0000ff"/>
<polygon points="558.26,746.80 564.85,749.49 558.28,753.98 551.70,751.25" fill="#0000ff"/>
<polygon points="571.44,745.44 578.00,748.54 571.41,752.63 564.85,749.49" fill="#0000ff"/>
<polygon points="531.97,751.94 538.58,753.81 532.10,759.08 525.49,757.17" fill="#0000ff"/>
<polygon points="584.62,744.89 591.15,748.39 584.53,752.07 578.00,748.54" fill="#0000ff"/>
<polygon points="551.66,744.57 558.26,746.80 551.70,751.25 545.10,748.97" fill="#0000ff"/>
<polygon points="564.85,742.80 571.44,745.44 564.85,749.49 558.26,746.80" fill="#001aff"/>
<polygon points="525.34,750.55 531.97,751.94 525.49,757.17 518.87,755.72" fill="#0000ff"/>
<polygon points="538.48,747.15 545.10,748.97 538.58,753.81 531.97,751.94" fill="#0000ff"/>
<polygon points="578.06,741.84 584.62,744.89 578.00,748.54 571.44,745.44" fill="#0028ff"/>
<polygon points="591.26,741.70 597.79,745.15 591.15,748.39 584.62,744.89" fill="#0028ff"/>
<polygon points="518.71,749.62 525.34,750.55 518.87,755.72 512.25,754.75" fill="#0000ff"/>
<polygon points="531.85,745.80 538.48,747.15 531.97,751.94 525.34,750.55" fill="#000dff"/>
<polygon points="545.04,742.80 551.66,744.57 545.10,748.97 538.48,747.15" fill="#003fff"/>
<polygon points="558.25,740.62 564.85,742.80 558.26,746.80 551.66,744.57" fill="#0062ff"/>
<polygon points="571.47,739.25 578.06,741.84 571.44,745.44 564.85,742.80" fill="#0078ff"/>
<polygon points="584.70,738.71 591.26,741.70 584.62,744.89 578.06,741.84" fill="#007fff"/>
<polygon points="597.93,738.98 604.45,742.38 597.79,745.15 591.26,741.70" fill="#0078ff"/>
<polygon points="512.08,749.18 518.71,749.62 512.25,754.75 505.62,754.25" fill="#0000ff"/>
<polygon points="525.22,744.93 531.85,745.80 525.34,750.55 518.71,749.62" fill="#003fff"/>
<polygon points="538.40,741.50 545.04,742.80 538.48,747.15 531.85,745.80" fill="#0078ff"/>
<polygon points="551.62,738.90 558.25,740.62 551.66,744.57 545.04,742.80" fill="#00a2ff"/>
<polygon points="564.87,737.12 571.47,739.25 564.85,742.80 558.25,740.62" fill="#00bfff"/>
<polygon points="578.12,736.16 584.70,738.71 578.06,741.84 571.47,739.25" fill="#00cdff"/>
<polygon points="591.37,736.03 597.93,738.98 591.26,741.70 584.70,738.71" fill="#00cdff"/>
<polygon points="604.60,736.73 611.12,740.07 604.45,742.38 597.93,738.98" fill="#00bfff"/>
<polygon points="505.44,749.22 512.08,749.18 505.62,754.25 498.99,754.24" fill="#001aff"/>
<polygon points="518.57,744.54 525.22,744.93 518.71,749.62 512.08,749.18" fill="#0068ff"/>
<polygon points="531.76,740.69 538.40,741.50 531.85,745.80 525.22,744.93" fill="#00a8ff"/>
<polygon points="544.98,737.66 551.62,738.90 545.04,742.80 538.40,741.50" fill="#00daff"/>
<polygon points="558.24,735.46 564.87,737.12 558.25,740.62 551.62,738.90" fill="#00feff"/>
<polygon points="571.51,734.08 578.12,736.16 571.47,739.25 564.87,737.12" fill="#00ffe7"/>
<polygon points="584.78,733.54 591.37,736.03 584.70,738.71 578.12,736.16" fill="#00ffde"/>
<polygon points="598.05,733.83 604.60,736.73 597.93,738.98 591.37,736.03" fill="#00ffe7"/>
<polygon points="611.29,734.95 617.81,738.24 611.12,740.07 604.60,736.73" fill="#00feff"/>
<polygon points="511.93,744.64 518.57,744.54 512.08,749.18 505.44,749.22" fill="#008aff"/>
<polygon points="525.11,740.35 531.76,740.69 525.22,744.93 518.57,744.54" fill="#00d1ff"/>
<polygon points="538.34,736.90 544.98,737.66 538.40,741.50 531.76,740.69" fill="#00fff2"/>
<polygon points="578.17,731.52 584.78,733.54 578.12,736.16 571.51,734.08" fill="#00ff8c"/>
<polygon points="591.46,731.40 598.05,733.83 591.37,736.03 584.78,733.54" fill="#00ff8c"/>
<polygon points="604.74,732.11 611.29,734.95 604.60,736.73 598.05,733.83" fill="#00ff9d"/>
<polygon points="498.81,749.76 505.44,749.22 498.99,754.24 492.37,754.72" fill="#0035ff"/>
<polygon points="551.60,734.27 558.24,735.46 551.62,738.90 544.98,737.66" fill="#00ffbf"/>
<polygon points="564.88,732.48 571.51,734.08 564.87,737.12 558.24,735.46" fill="#00ff9d"/>
<polygon points="617.99,733.66 624.50,736.90 617.81,738.24 611.29,734.95" fill="#00ffbf"/>
<polygon points="518.46,740.52 525.11,740.35 518.57,744.54 511.93,744.64" fill="#00f2ff"/>
<polygon points="531.68,736.62 538.34,736.90 531.76,740.69 525.11,740.35" fill="#00ffc3"/>
<polygon points="584.86,729.44 591.46,731.40 584.78,733.54 578.17,731.52" fill="#00ff3b"/>
<polygon points="598.16,729.74 604.74,732.11 598.05,733.83 591.46,731.40" fill="#00ff43"/>
<polygon points="492.18,750.80 498.81,749.76 492.37,754.72 485.75,755.69" fill="#0047ff"/>
<polygon points="505.29,745.24 511.93,744.64 505.44,749.22 498.81,749.76" fill="#00a3ff"/>
<polygon points="544.94,733.57 551.60,734.27 544.98,737.66 538.34,736.90" fill="#00ff87"/>
<polygon points="558.24,731.35 564.88,732.48 558.24,735.46 551.60,734.27" fill="#00ff5c"/>
<polygon points="571.54,729.97 578.17,731.52 571.51,734.08 564.88,732.48" fill="#00ff43"/>
<polygon points="611.44,730.88 617.99,733.66 611.29,734.95 604.74,732.11" fill="#00ff5d"/>
<polygon points="624.68,732.87 631.19,736.04 624.50,736.90 617.99,733.66" fill="#00ff88"/>
<polygon points="525.02,736.85 531.68,736.62 525.11,740.35 518.46,740.52" fill="#00ff9d"/>
<polygon points="591.55,727.84 598.16,729.74 591.46,731.40 584.86,729.44" fill="#0cff00"/>
<polygon points="511.80,741.18 518.46,740.52 511.93,744.64 505.29,745.24" fill="#00fff2"/>
<polygon points="538.28,733.36 544.94,733.57 538.34,736.90 531.68,736.62" fill="#00ff59"/>
<polygon points="551.58,730.71 558.24,731.35 551.60,734.27 544.94,733.57" fill="#00ff26"/>
<polygon points="564.90,728.91 571.54,729.97 564.88,732.48 558.24,731.35" fill="#00ff04"/>
<polygon points="578.23,727.95 584.86,729.44 578.17,731.52 571.54,729.97" fill="#0cff00"/>
<polygon points="604.86,728.57 611.44,730.88 604.74,732.11 598.16,729.74" fill="#00ff05"/>
<polygon points="485.56,752.35 492.18,750.80 485.75,755.69 479.15,757.18" fill="#0051ff"/>
<polygon points="498.65,746.35 505.29,745.24 498.81,749.76 492.18,750.80" fill="#00b5ff"/>
<polygon points="618.14,730.15 624.68,732.87 617.99,733.66 611.44,730.88" fill="#00ff27"/>
<polygon points="631.38,732.57 637.88,735.68 631.19,736.04 624.68,732.87" fill="#00ff5b"/>
<polygon points="478.95,754.42 485.56,752.35 479.15,757.18 472.55,759.18" fill="#0053ff"/>
<polygon points="492.02,747.97 498.65,746.35 492.18,750.80 485.56,752.35" fill="#00beff"/>
<polygon points="505.16,742.36 511.80,741.18 505.29,745.24 498.65,746.35" fill="#00ffdf"/>
<polygon points="518.36,737.58 525.02,736.85 518.46,740.52 511.80,741.18" fill="#00ff81"/>
<polygon points="531.62,733.65 538.28,733.36 531.68,736.62 525.02,736.85" fill="#00ff35"/>
<polygon points="544.91,730.57 551.58,730.71 544.94,733.57 538.28,733.36" fill="#06ff00"/>
<polygon points="558.24,728.34 564.90,728.91 558.24,731.35 551.58,730.71" fill="#2fff00"/>
<polygon points="571.58,726.95 578.23,727.95 571.54,729.97 564.90,728.91" fill="#47ff00"/>
<polygon points="584.92,726.42 591.55,727.84 584.86,729.44 578.23,727.95" fill="#4fff00"/>
<polygon points="598.26,726.74 604.86,728.57 598.16,729.74 591.55,727.84" fill="#46ff00"/>
<polygon points="611.57,727.91 618.14,730.15 611.44,730.88 604.86,728.57" fill="#2dff00"/>
<polygon points="624.85,729.92 631.38,732.57 624.68,732.87 618.14,730.15" fill="#04ff00"/>
<polygon points="638.08,732.79 644.57,735.83 637.88,735.68 631.38,732.57" fill="#00ff37"/>
<polygon points="538.24,730.93 544.91,730.57 538.28,733.36 531.62,733.65" fill="#28ff00"/>
<polygon points="551.57,728.26 558.24,728.34 551.58,730.71 544.91,730.57" fill="#58ff00"/>
<polygon points="564.91,726.45 571.58,726.95 564.90,728.91 558.24,728.34" fill="#78ff00"/>
<polygon points="578.27,725.49 584.92,726.42 578.23,727.95 571.58,726.95" fill="#88ff00"/>
<polygon points="472.37,757.01 478.95,754.42 472.55,759.18 465.98,761.70" fill="#004dff"/>
<polygon points="485.40,750.11 492.02,747.97 485.56,752.35 478.95,754.42" fill="#00beff"/>
<polygon points="498.52,744.05 505.16,742.36 498.65,746.35 492.02,747.97" fill="#00ffd5"/>
<polygon points="511.70,738.83 518.36,737.58 511.80,741.18 505.16,742.36" fill="#00ff6f"/>
<polygon points="524.95,734.45 531.62,733.65 525.02,736.85 518.36,737.58" fill="#00ff1a"/>
<polygon points="591.63,725.39 598.26,726.74 591.55,727.84 584.92,726.42" fill="#88ff00"/>
<polygon points="604.97,726.14 611.57,727.91 604.86,728.57 598.26,726.74" fill="#77ff00"/>
<polygon points="618.28,727.75 624.85,729.92 618.14,730.15 611.57,727.91" fill="#56ff00"/>
<polygon points="631.55,730.21 638.08,732.79 631.38,732.57 624.85,729.92" fill="#25ff00"/>
<polygon points="644.76,733.52 651.24,736.49 644.57,735.83 638.08,732.79" fill="#00ff1e"/>
<polygon points="478.80,752.78 485.40,750.11 478.95,754.42 472.37,757.01" fill="#00b7ff"/>
<polygon points="491.89,746.26 498.52,744.05 492.02,747.97 485.40,750.11" fill="#00ffd6"/>
<polygon points="505.05,740.59 511.70,738.83 505.16,742.36 498.52,744.05" fill="#00ff67"/>
<polygon points="544.89,728.70 551.57,728.26 544.91,730.57 538.24,730.93" fill="#78ff00"/>
<polygon points="558.24,726.45 564.91,726.45 558.24,728.34 551.57,728.26" fill="#a0ff00"/>
<polygon points="571.61,725.06 578.27,725.49 571.58,726.95 564.91,726.45" fill="#b8ff00"/>
<polygon points="611.68,726.05 618.28,727.75 611.57,727.91 604.97,726.14" fill="#9eff00"/>
<polygon points="624.98,728.11 631.55,730.21 624.85,729.92 618.28,727.75" fill="#75ff00"/>
<polygon points="638.24,731.02 644.76,733.52 638.08,732.79 631.55,730.21" fill="#3cff00"/>
<polygon points="465.80,760.14 472.37,757.01 465.98,761.70 459.42,764.74" fill="#003fff"/>
<polygon points="531.57,731.81 538.24,730.93 531.62,733.65 524.95,734.45" fill="#3fff00"/>
<polygon points="584.98,724.53 591.63,725.39 584.92,726.42 578.27,725.49" fill="#c0ff00"/>
<polygon points="651.43,734.78 657.91,737.68 651.24,736.49 644.76,733.52" fill="#00ff0f"/>
<polygon points="518.28,735.77 524.95,734.45 518.36,737.58 511.70,738.83" fill="#00ff0a"/>
<polygon points="598.34,724.86 604.97,726.14 598.26,726.74 591.63,725.39" fill="#b7ff00"/>
<polygon points="551.56,726.95 558.24,726.45 551.57,728.26 544.89,728.70" fill="#beff00"/>
<polygon points="564.93,725.13 571.61,725.06 564.91,726.45 558.24,726.45" fill="#deff00"/>
<polygon points="485.27,749.01 491.89,746.26 485.40,750.11 478.80,752.78" fill="#00ffe0"/>
<polygon points="498.41,742.89 505.05,740.59 498.52,744.05 491.89,746.26" fill="#00ff69"/>
<polygon points="618.39,726.49 624.98,728.11 618.28,727.75 611.68,726.05" fill="#bcff00"/>
<polygon points="631.68,728.99 638.24,731.02 631.55,730.21 624.98,728.11" fill="#8aff00"/>
<polygon points="472.21,755.98 478.80,752.78 472.37,757.01 465.80,760.14" fill="#00a7ff"/>
<polygon points="538.21,729.64 544.89,728.70 538.24,730.93 531.57,731.81" fill="#8eff00"/>
<polygon points="578.31,724.17 584.98,724.53 578.27,725.49 571.61,725.06" fill="#eeff00"/>
<polygon points="644.92,732.35 651.43,734.78 644.76,733.52 638.24,731.02" fill="#49ff00"/>
<polygon points="511.62,737.61 518.28,735.77 511.70,738.83 505.05,740.59" fill="#00ff03"/>
<polygon points="524.89,733.20 531.57,731.81 524.95,734.45 518.28,735.77" fill="#4eff00"/>
<polygon points="591.69,724.08 598.34,724.86 591.63,725.39 584.98,724.53" fill="#eeff00"/>
<polygon points="605.05,724.85 611.68,726.05 604.97,726.14 598.34,724.86" fill="#ddff00"/>
<polygon points="459.25,763.80 465.80,760.14 459.42,764.74 452.89,768.33" fill="#0028ff"/>
<polygon points="658.09,736.57 664.55,739.39 657.91,737.68 651.43,734.78" fill="#00ff09"/>
<polygon points="558.24,725.71 564.93,725.13 558.24,726.45 551.56,726.95" fill="#fcff00"/>
<polygon points="491.79,745.72 498.41,742.89 491.89,746.26 485.27,749.01" fill="#00ff75"/>
<polygon points="625.09,727.45 631.68,728.99 624.98,728.11 618.39,726.49" fill="#d0ff00"/>
<polygon points="452.73,768.01 459.25,763.80 452.89,768.33 446.39,772.45" fill="#0009ff"/>
<polygon points="478.68,752.30 485.27,749.01 478.80,752.78 472.21,755.98" fill="#00fff4"/>
<polygon points="544.87,727.98 551.56,726.95 544.89,728.70 538.21,729.64" fill="#d4ff00"/>
<polygon points="571.63,724.32 578.31,724.17 571.61,725.06 564.93,725.13" fill="#ffec00"/>
<polygon points="638.37,730.40 644.92,732.35 638.24,731.02 631.68,728.99" fill="#96ff00"/>
<polygon points="664.72,738.90 671.18,741.64 664.55,739.39 658.09,736.57" fill="#00ff0e"/>
<polygon points="504.97,739.99 511.62,737.61 505.05,740.59 498.41,742.89" fill="#00ff06"/>
<polygon points="518.22,735.12 524.89,733.20 518.28,735.77 511.62,737.61" fill="#53ff00"/>
<polygon points="531.53,731.12 538.21,729.64 531.57,731.81 524.89,733.20" fill="#9bff00"/>
<polygon points="585.02,723.80 591.69,724.08 584.98,724.53 578.31,724.17" fill="#ffe500"/>
<polygon points="598.41,724.14 605.05,724.85 598.34,724.86 591.69,724.08" fill="#ffed00"/>
<polygon points="611.77,725.36 618.39,726.49 611.68,726.05 605.05,724.85" fill="#f9ff00"/>
<polygon points="465.65,759.73 472.21,755.98 465.80,760.14 459.25,763.80" fill="#0090ff"/>
<polygon points="651.58,734.22 658.09,736.57 651.43,734.78 644.92,732.35" fill="#4dff00"/>
<polygon points="459.12,764.03 465.65,759.73 459.25,763.80 452.73,768.01" fill="#0070ff"/>
<polygon points="485.18,749.09 491.79,745.72 485.27,749.01 478.68,752.30" fill="#00ff8a"/>
<polygon points="551.55,726.82 558.24,725.71 551.56,726.95 544.87,727.98" fill="#fff000"/>
<polygon points="564.94,724.99 571.63,724.32 564.93,725.13 558.24,725.71" fill="#ffd200"/>
<polygon points="631.78,728.94 638.37,730.40 631.68,728.99 625.09,727.45" fill="#dbff00"/>
<polygon points="658.23,736.63 664.72,738.90 658.09,736.57 651.58,734.22" fill="#47ff00"/>
<polygon points="498.34,742.90 504.97,739.99 498.41,742.89 491.79,745.72" fill="#00ff13"/>
<polygon points="511.56,737.58 518.22,735.12 511.62,737.61 504.97,739.99" fill="#4eff00"/>
<polygon points="524.85,733.12 531.53,731.12 524.89,733.20 518.22,735.12" fill="#9fff00"/>
<polygon points="538.19,729.53 544.87,727.98 538.21,729.64 531.53,731.12" fill="#dfff00"/>
<polygon points="578.34,724.03 585.02,723.80 578.31,724.17 571.63,724.32" fill="#ffc300"/>
<polygon points="591.74,723.94 598.41,724.14 591.69,724.08 585.02,723.80" fill="#ffc400"/>
<polygon points="605.12,724.74 611.77,725.36 605.05,724.85 598.41,724.14" fill="#ffd400"/>
<polygon points="618.47,726.40 625.09,727.45 618.39,726.49 611.77,725.36" fill="#fff300"/>
<polygon points="446.24,772.78 452.73,768.01 446.39,772.45 439.91,777.13" fill="#0000ff"/>
<polygon points="472.10,756.14 478.68,752.30 472.21,755.98 465.65,759.73" fill="#00efff"/>
<polygon points="645.04,732.35 651.58,734.22 644.92,732.35 638.37,730.40" fill="#99ff00"/>
<polygon points="671.34,741.77 677.78,744.43 671.18,741.64 664.72,738.90" fill="#00ff1d"/>
<polygon points="465.55,760.53 472.10,756.14 465.65,759.73 459.12,764.03" fill="#00ceff"/>
<polygon points="651.70,734.86 658.23,736.63 651.58,734.22 645.04,732.35" fill="#92ff00"/>
<polygon points="504.92,740.58 511.56,737.58 504.97,739.99 498.34,742.90" fill="#41ff00"/>
<polygon points="518.18,735.66 524.85,733.12 518.22,735.12 511.56,737.58" fill="#99ff00"/>
<polygon points="531.50,731.62 538.19,729.53 531.53,731.12 524.85,733.12" fill="#e2ff00"/>
<polygon points="544.86,728.46 551.55,726.82 544.87,727.98 538.19,729.53" fill="#ffe600"/>
<polygon points="571.65,724.78 578.34,724.03 571.63,724.32 564.94,724.99" fill="#ffaa00"/>
<polygon points="585.06,724.26 591.74,723.94 585.02,723.80 578.34,724.03" fill="#ffa400"/>
<polygon points="598.46,724.62 605.12,724.74 598.41,724.14 591.74,723.94" fill="#ffac00"/>
<polygon points="611.83,725.86 618.47,726.40 611.77,725.36 605.12,724.74" fill="#ffc300"/>
<polygon points="452.61,768.89 459.12,764.03 452.73,768.01 446.24,772.78" fill="#0048ff"/>
<polygon points="478.59,753.01 485.18,749.09 478.68,752.30 472.10,756.14" fill="#00ffa9"/>
<polygon points="491.71,746.36 498.34,742.90 491.79,745.72 485.18,749.09" fill="#00ff2a"/>
<polygon points="558.25,726.18 564.94,724.99 558.24,725.71 551.55,726.82" fill="#ffc100"/>
<polygon points="625.17,727.98 631.78,728.94 625.09,727.45 618.47,726.40" fill="#ffea00"/>
<polygon points="638.47,730.98 645.04,732.35 638.37,730.40 631.78,728.94" fill="#dcff00"/>
<polygon points="664.85,739.60 671.34,741.77 664.72,738.90 658.23,736.63" fill="#38ff00"/>
<polygon points="439.78,778.11 446.24,772.78 439.91,777.13 433.47,782.36" fill="#0000ff"/>
<polygon points="677.92,745.20 684.35,747.77 677.78,744.43 671.34,741.77" fill="#00ff35"/>
<polygon points="472.02,757.50 478.59,753.01 472.10,756.14 465.55,760.53" fill="#00ffd3"/>
<polygon points="645.13,733.57 651.70,734.86 645.04,732.35 638.47,730.98" fill="#d3ff00"/>
<polygon points="511.53,738.75 518.18,735.66 511.56,737.58 504.92,740.58" fill="#8aff00"/>
<polygon points="524.83,734.26 531.50,731.62 524.85,733.12 518.18,735.66" fill="#dbff00"/>
<polygon points="538.17,730.64 544.86,728.46 538.19,729.53 531.50,731.62" fill="#ffe500"/>
<polygon points="578.37,725.10 585.06,724.26 578.34,724.03 571.65,724.78" fill="#ff8c00"/>
<polygon points="591.78,725.02 598.46,724.62 591.74,723.94 585.06,724.26" fill="#ff8d00"/>
<polygon points="605.17,725.84 611.83,725.86 605.12,724.74 598.46,724.62" fill="#ff9d00"/>
<polygon points="433.36,784.01 439.78,778.11 433.47,782.36 427.07,788.16" fill="#0000ff"/>
<polygon points="459.03,765.48 465.55,760.53 459.12,764.03 452.61,768.89" fill="#00a5ff"/>
<polygon points="498.28,744.13 504.92,740.58 498.34,742.90 491.71,746.36" fill="#2aff00"/>
<polygon points="618.54,727.53 625.17,727.98 618.47,726.40 611.83,725.86" fill="#ffbc00"/>
<polygon points="658.33,737.91 664.85,739.60 658.23,736.63 651.70,734.86" fill="#81ff00"/>
<polygon points="684.47,749.20 690.88,751.67 684.35,747.77 677.92,745.20" fill="#00ff58"/>
<polygon points="551.55,727.91 558.25,726.18 551.55,726.82 544.86,728.46" fill="#ffb800"/>
<polygon points="564.95,726.06 571.65,724.78 564.94,724.99 558.25,726.18" fill="#ff9a00"/>
<polygon points="446.13,774.32 452.61,768.89 446.24,772.78 439.78,778.11" fill="#0017ff"/>
<polygon points="485.11,750.38 491.71,746.36 485.18,749.09 478.59,753.01" fill="#00ff4b"/>
<polygon points="631.86,730.11 638.47,730.98 631.78,728.94 625.17,727.98" fill="#ffea00"/>
<polygon points="671.45,743.12 677.92,745.20 671.34,741.77 664.85,739.60" fill="#1fff00"/>
<polygon points="518.16,737.44 524.83,734.26 518.18,735.66 511.53,738.75" fill="#cbff00"/>
<polygon points="531.49,733.36 538.17,730.64 531.50,731.62 524.83,734.26" fill="#ffec00"/>
<polygon points="585.08,725.95 591.78,725.02 585.06,724.26 578.37,725.10" fill="#ff7600"/>
<polygon points="598.49,726.33 605.17,725.84 598.46,724.62 591.78,725.02" fill="#ff7f00"/>
<polygon points="439.70,780.32 446.13,774.32 439.78,778.11 433.36,784.01" fill="#0000ff"/>
<polygon points="465.49,762.55 472.02,757.50 465.55,760.53 459.03,765.48" fill="#00faff"/>
<polygon points="478.53,754.96 485.11,750.38 478.59,753.01 472.02,757.50" fill="#00ff75"/>
<polygon points="504.88,742.40 511.53,738.75 504.92,740.58 498.28,744.13" fill="#72ff00"/>
<polygon points="611.88,727.60 618.54,727.53 611.83,725.86 605.17,725.84" fill="#ff9600"/>
<polygon points="638.53,732.80 645.13,733.57 638.47,730.98 631.86,730.11" fill="#fff300"/>
<polygon points="651.77,736.72 658.33,737.91 651.70,734.86 645.13,733.57" fill="#c2ff00"/>
<polygon points="678.01,747.21 684.47,749.20 677.92,745.20 671.45,743.12" fill="#00ff04"/>
<polygon points="544.86,730.17 551.55,727.91 544.86,728.46 538.17,730.64" fill="#ffb800"/>
<polygon points="571.67,726.47 578.37,725.10 571.65,724.78 564.95,726.06" fill="#ff7d00"/>
<polygon points="452.54,771.00 459.03,765.48 452.61,768.89 446.13,774.32" fill="#0073ff"/>
<polygon points="491.67,748.24 498.28,744.13 491.71,746.36 485.11,750.38" fill="#09ff00"/>
<polygon points="558.25,727.88 564.95,726.06 558.25,726.18 551.55,727.91" fill="#ff9300"/>
<polygon points="625.23,729.75 631.86,730.11 625.17,727.98 618.54,727.53" fill="#ffbd00"/>
<polygon points="664.93,741.53 671.45,743.12 664.85,739.60 658.33,737.91" fill="#67ff00"/>
<polygon points="524.81,736.64 531.49,733.36 524.83,734.26 518.16,737.44" fill="#fffd00"/>
<polygon points="591.80,727.35 598.49,726.33 591.78,725.02 585.08,725.95" fill="#ff6a00"/>
<polygon points="446.08,777.11 452.54,771.00 446.13,774.32 439.70,780.32" fill="#0039ff"/>
<polygon points="485.08,752.92 491.67,748.24 485.11,750.38 478.53,754.96" fill="#00ff22"/>
<polygon points="511.51,741.18 518.16,737.44 511.53,738.75 504.88,742.40" fill="#b1ff00"/>
<polygon points="605.20,728.19 611.88,727.60 605.17,725.84 598.49,726.33" fill="#ff7a00"/>
<polygon points="631.90,732.53 638.53,732.80 631.86,730.11 625.23,729.75" fill="#ffc700"/>
<polygon points="671.51,745.72 678.01,747.21 671.45,743.12 664.93,741.53" fill="#44ff00"/>
<polygon points="538.17,732.99 544.86,730.17 538.17,730.64 531.49,733.36" fill="#ffc100"/>
<polygon points="578.38,727.42 585.08,725.95 578.37,725.10 571.67,726.47" fill="#ff6900"/>
<polygon points="458.98,768.18 465.49,762.55 459.03,765.48 452.54,771.00" fill="#00c7ff"/>
<polygon points="471.98,760.11 478.53,754.96 472.02,757.50 465.49,762.55" fill="#00ffaa"/>
<polygon points="498.26,746.61 504.88,742.40 498.28,744.13 491.67,748.24" fill="#50ff00"/>
<polygon points="551.55,730.24 558.25,727.88 551.55,727.91 544.86,730.17" fill="#ff9400"/>
<polygon points="564.96,728.38 571.67,726.47 564.95,726.06 558.25,727.88" fill="#ff7700"/>
<polygon points="618.57,729.91 625.23,729.75 618.54,727.53 611.88,727.60" fill="#ff9900"/>
<polygon points="645.18,736.05 651.77,736.72 645.13,733.57 638.53,732.80" fill="#f8ff00"/>
<polygon points="658.39,740.44 664.93,741.53 658.33,737.91 651.77,736.72" fill="#a6ff00"/>
<polygon points="452.51,774.38 458.98,768.18 452.54,771.00 446.08,777.11" fill="#008cff"/>
<polygon points="491.65,751.39 498.26,746.61 491.67,748.24 485.08,752.92" fill="#25ff00"/>
<polygon points="518.15,740.49 524.81,736.64 518.16,737.44 511.51,741.18" fill="#e6ff00"/>
<polygon points="598.51,729.31 605.20,728.19 598.49,726.33 591.80,727.35" fill="#ff6600"/>
<polygon points="625.25,732.79 631.90,732.53 625.23,729.75 618.57,729.91" fill="#ffa500"/>
<polygon points="664.97,744.74 671.51,745.72 664.93,741.53 658.39,740.44" fill="#81ff00"/>
<polygon points="531.48,736.37 538.17,732.99 531.49,733.36 524.81,736.64" fill="#ffd300"/>
<polygon points="585.10,728.92 591.80,727.35 585.08,725.95 578.38,727.42" fill="#ff5d00"/>
<polygon points="478.51,758.18 485.08,752.92 478.53,754.96 471.98,760.11" fill="#00ff58"/>
<polygon points="504.87,745.49 511.51,741.18 504.88,742.40 498.26,746.61" fill="#8eff00"/>
<polygon points="544.86,733.16 551.55,730.24 544.86,730.17 538.17,732.99" fill="#ff9f00"/>
<polygon points="558.26,730.84 564.96,728.38 558.25,727.88 551.55,730.24" fill="#ff7a00"/>
<polygon points="571.68,729.43 578.38,727.42 571.67,726.47 564.96,728.38" fill="#ff6400"/>
<polygon points="611.90,730.60 618.57,729.91 611.88,727.60 605.20,728.19" fill="#ff7e00"/>
<polygon points="638.56,735.88 645.18,736.05 638.53,732.80 631.90,732.53" fill="#ffdb00"/>
<polygon points="465.46,765.84 471.98,760.11 465.49,762.55 458.98,768.18" fill="#00ffe8"/>
<polygon points="651.80,739.86 658.39,740.44 651.77,736.72 645.18,736.05" fill="#dcff00"/>
<polygon points="498.26,750.38 504.87,745.49 498.26,746.61 491.65,751.39" fill="#62ff00"/>
<polygon points="618.58,733.59 625.25,732.79 618.57,729.91 611.90,730.60" fill="#ff8a00"/>
<polygon points="458.97,772.16 465.46,765.84 458.98,768.18 452.51,774.38" fill="#00d6ff"/>
<polygon points="485.08,756.75 491.65,751.39 485.08,752.92 478.51,758.18" fill="#00ff10"/>
<polygon points="511.51,744.90 518.15,740.49 511.51,741.18 504.87,745.49" fill="#c2ff00"/>
<polygon points="524.81,740.32 531.48,736.37 524.81,736.64 518.15,740.49" fill="#ffed00"/>
<polygon points="538.17,736.64 544.86,733.16 538.17,732.99 531.48,736.37" fill="#ffb100"/>
<polygon points="551.56,733.87 558.26,730.84 551.55,730.24 544.86,733.16" fill="#ff8500"/>
<polygon points="564.97,732.00 571.68,729.43 564.96,728.38 558.26,730.84" fill="#ff6800"/>
<polygon points="578.39,731.03 585.10,728.92 578.38,727.42 571.68,729.43" fill="#ff5a00"/>
<polygon points="591.81,730.98 598.51,729.31 591.80,727.35 585.10,728.92" fill="#ff5b00"/>
<polygon points="605.21,731.83 611.90,730.60 605.20,728.19 598.51,729.31" fill="#ff6b00"/>
<polygon points="631.91,736.25 638.56,735.88 631.90,732.53 625.25,732.79" fill="#ffb900"/>
<polygon points="658.40,744.26 664.97,744.74 658.39,740.44 651.80,739.86" fill="#b6ff00"/>
<polygon points="471.98,764.02 478.51,758.18 471.98,760.11 465.46,765.84" fill="#00ff97"/>
<polygon points="645.19,739.81 651.80,739.86 645.18,736.05 638.56,735.88" fill="#fff700"/>
<polygon points="504.88,749.90 511.51,744.90 504.87,745.49 498.26,750.38" fill="#94ff00"/>
<polygon points="611.90,734.92 618.58,733.59 611.90,730.60 605.21,731.83" fill="#ff7900"/>
<polygon points="465.47,770.45 471.98,764.02 465.46,765.84 458.97,772.16" fill="#00ffe1"/>
<polygon points="491.67,755.85 498.26,750.38 491.65,751.39 485.08,756.75" fill="#2cff00"/>
<polygon points="544.86,737.45 551.56,733.87 544.86,733.16 538.17,736.64" fill="#ff9900"/>
<polygon points="558.26,735.12 564.97,732.00 558.26,730.84 551.56,733.87" fill="#ff7400"/>
<polygon points="571.68,733.70 578.39,731.03 571.68,729.43 564.97,732.00" fill="#ff5f00"/>
<polygon points="625.25,737.14 631.91,736.25 625.25,732.79 618.58,733.59" fill="#ffa000"/>
<polygon points="651.80,744.31 658.40,744.26 651.80,739.86 645.19,739.81" fill="#e0ff00"/>
<polygon points="531.49,740.69 538.17,736.64 531.48,736.37 524.81,740.32" fill="#ffcd00"/>
<polygon points="585.10,733.20 591.81,730.98 585.10,728.92 578.39,731.03" fill="#ff5800"/>
<polygon points="478.53,762.70 485.08,756.75 478.51,758.18 471.98,764.02" fill="#00ff51"/>
<polygon points="518.16,744.84 524.81,740.32 518.15,740.49 511.51,744.90" fill="#ecff00"/>
<polygon points="598.51,733.60 605.21,731.83 598.51,729.31 591.81,730.98" fill="#ff6100"/>
<polygon points="638.55,740.28 645.19,739.81 638.56,735.88 631.91,736.25" fill="#ffd600"/>
<polygon points="472.01,769.25 478.53,762.70 471.98,764.02 465.47,770.45" fill="#00ff9c"/>
<polygon points="498.28,755.48 504.88,749.90 498.26,750.38 491.67,755.85" fill="#5dff00"/>
<polygon points="511.53,749.95 518.16,744.84 511.51,744.90 504.88,749.90" fill="#bdff00"/>
<polygon points="538.18,741.62 544.86,737.45 538.17,736.64 531.49,740.69" fill="#ffb600"/>
<polygon points="551.57,738.82 558.26,735.12 551.56,733.87 544.86,737.45" fill="#ff8a00"/>
<polygon points="564.97,736.94 571.68,733.70 564.97,732.00 558.26,735.12" fill="#ff6c00"/>
<polygon points="578.39,735.98 585.10,733.20 578.39,731.03 571.68,733.70" fill="#ff5e00"/>
<polygon points="605.20,736.80 611.90,734.92 605.21,731.83 598.51,733.60" fill="#ff7000"/>
<polygon points="618.57,738.59 625.25,737.14 618.58,733.59 611.90,734.92" fill="#ff9000"/>
<polygon points="645.17,744.90 651.80,744.31 645.19,739.81 638.55,740.28" fill="#fffc00"/>
<polygon points="485.10,761.91 491.67,755.85 485.08,756.75 478.53,762.70" fill="#00ff14"/>
<polygon points="631.90,741.29 638.55,740.28 631.91,736.25 625.25,737.14" fill="#ffbe00"/>
<polygon points="524.83,745.33 531.49,740.69 524.81,740.32 518.16,744.84" fill="#fff100"/>
<polygon points="591.80,735.93 598.51,733.60 591.81,730.98 585.10,733.20" fill="#ff6000"/>
<polygon points="478.57,768.58 485.10,761.91 478.53,762.70 472.01,769.25" fill="#00ff61"/>
<polygon points="558.27,740.75 564.97,736.94 558.26,735.12 551.57,738.82" fill="#ff8300"/>
<polygon points="638.52,746.02 645.17,744.90 638.55,740.28 631.90,741.29" fill="#ffe600"/>
<polygon points="491.71,761.66 498.28,755.48 491.67,755.85 485.10,761.91" fill="#1dff00"/>
<polygon points="504.91,755.65 511.53,749.95 504.88,749.90 498.28,755.48" fill="#85ff00"/>
<polygon points="518.19,750.55 524.83,745.33 518.16,744.84 511.53,749.95" fill="#ddff00"/>
<polygon points="531.51,746.36 538.18,741.62 531.49,740.69 524.83,745.33" fill="#ffdc00"/>
<polygon points="544.88,743.10 551.57,738.82 544.86,737.45 538.18,741.62" fill="#ffa800"/>
<polygon points="571.68,739.33 578.39,735.98 571.68,733.70 564.97,736.94" fill="#ff6d00"/>
<polygon points="585.09,738.82 591.80,735.93 585.10,733.20 578.39,735.98" fill="#ff6700"/>
<polygon points="598.49,739.24 605.20,736.80 598.51,733.60 591.80,735.93" fill="#ff7000"/>
<polygon points="611.87,740.58 618.57,738.59 611.90,734.92 605.20,736.80" fill="#ff8800"/>
<polygon points="625.22,742.84 631.90,741.29 625.25,737.14 618.57,738.59" fill="#ffaf00"/>
<polygon points="485.16,768.45 491.71,761.66 485.10,761.91 478.57,768.58" fill="#00ff2f"/>
<polygon points="524.86,751.71 531.51,746.36 524.83,745.33 518.19,750.55" fill="#f3ff00"/>
<polygon points="551.58,745.15 558.27,740.75 551.57,738.82 544.88,743.10" fill="#ffa200"/>
<polygon points="564.97,743.26 571.68,739.33 564.97,736.94 558.27,740.75" fill="#ff8500"/>
<polygon points="591.78,742.26 598.49,739.24 591.80,735.93 585.09,738.82" fill="#ff7900"/>
<polygon points="631.85,747.70 638.52,746.02 631.90,741.29 625.22,742.84" fill="#ffd800"/>
<polygon points="498.33,761.95 504.91,755.65 498.28,755.48 491.71,761.66" fill="#43ff00"/>
<polygon points="511.57,756.37 518.19,750.55 511.53,749.95 504.91,755.65" fill="#a3ff00"/>
<polygon points="538.20,747.96 544.88,743.10 538.18,741.62 531.51,746.36" fill="#ffcf00"/>
<polygon points="578.38,742.29 585.09,738.82 578.39,735.98 571.68,739.33" fill="#ff7700"/>
<polygon points="605.17,743.15 611.87,740.58 605.20,736.80 598.49,739.24" fill="#ff8900"/>
<polygon points="618.53,744.96 625.22,742.84 618.57,738.59 611.87,740.58" fill="#ffa900"/>
<polygon points="491.77,768.86 498.33,761.95 491.71,761.66 485.16,768.45" fill="#00ff08"/>
<polygon points="518.23,757.65 524.86,751.71 518.19,750.55 511.57,756.37" fill="#b8ff00"/>
<polygon points="531.54,753.43 538.20,747.96 531.51,746.36 524.86,751.71" fill="#fffe00"/>
<polygon points="544.90,750.14 551.58,745.15 544.88,743.10 538.20,747.96" fill="#ffca00"/>
<polygon points="558.28,747.77 564.97,743.26 558.27,740.75 551.58,745.15" fill="#ffa600"/>
<polygon points="571.67,746.34 578.38,742.29 571.68,739.33 564.97,743.26" fill="#ff9000"/>
<polygon points="585.07,745.84 591.78,742.26 585.09,738.82 578.38,742.29" fill="#ff8a00"/>
<polygon points="598.46,746.28 605.17,743.15 598.49,739.24 591.78,742.26" fill="#ff9300"/>
<polygon points="625.16,749.94 631.85,747.70 625.22,742.84 618.53,744.96" fill="#ffd300"/>
<polygon points="504.97,762.79 511.57,756.37 504.91,755.65 498.33,761.95" fill="#60ff00"/>
<polygon points="611.83,747.64 618.53,744.96 611.87,740.58 605.17,743.15" fill="#ffab00"/>
<polygon points="538.23,755.72 544.90,750.14 538.20,747.96 531.54,753.43" fill="#fffb00"/>
<polygon points="578.36,750.02 585.07,745.84 578.38,742.29 571.67,746.34" fill="#ffa400"/>
<polygon points="498.40,769.83 504.97,762.79 498.33,761.95 491.77,768.86" fill="#14ff00"/>
<polygon points="511.63,764.20 518.23,757.65 511.57,756.37 504.97,762.79" fill="#74ff00"/>
<polygon points="524.91,759.50 531.54,753.43 524.86,751.71 518.23,757.65" fill="#c4ff00"/>
<polygon points="551.59,752.89 558.28,747.77 551.58,745.15 544.90,750.14" fill="#ffcf00"/>
<polygon points="564.97,750.99 571.67,746.34 564.97,743.26 558.28,747.77" fill="#ffb200"/>
<polygon points="591.75,749.99 598.46,746.28 591.78,742.26 585.07,745.84" fill="#ffa600"/>
<polygon points="605.12,750.90 611.83,747.64 605.17,743.15 598.46,746.28" fill="#ffb700"/>
<polygon points="618.47,752.75 625.16,749.94 618.53,744.96 611.83,747.64" fill="#ffd600"/>
<polygon points="505.05,771.37 511.63,764.20 504.97,762.79 498.40,769.83" fill="#26ff00"/>
<polygon points="531.59,761.92 538.23,755.72 531.54,753.43 524.91,759.50" fill="#c5ff00"/>
<polygon points="544.92,758.61 551.59,752.89 544.90,750.14 538.23,755.72" fill="#fdff00"/>
<polygon points="571.66,754.79 578.36,750.02 571.67,746.34 564.97,750.99" fill="#ffc700"/>
<polygon points="585.04,754.30 591.75,749.99 585.07,745.84 578.36,750.02" fill="#ffc100"/>
<polygon points="611.76,756.14 618.47,752.75 611.83,747.64 605.12,750.90" fill="#ffe300"/>
<polygon points="518.29,766.18 524.91,759.50 518.23,757.65 511.63,764.20" fill="#7eff00"/>
<polygon points="558.28,756.23 564.97,750.99 558.28,747.77 551.59,752.89" fill="#ffdd00"/>
<polygon points="598.41,754.75 605.12,750.90 598.46,746.28 591.75,749.99" fill="#ffcb00"/>
<polygon points="511.71,773.49 518.29,766.18 511.63,764.20 505.05,771.37" fill="#2fff00"/>
<polygon points="524.97,768.74 531.59,761.92 524.91,759.50 518.29,766.18" fill="#7eff00"/>
<polygon points="538.27,764.94 544.92,758.61 538.23,755.72 531.59,761.92" fill="#beff00"/>
<polygon points="551.61,762.08 558.28,756.23 551.59,752.89 544.92,758.61" fill="#edff00"/>
<polygon points="564.97,760.17 571.66,754.79 564.97,750.99 558.28,756.23" fill="#fff300"/>
<polygon points="578.34,759.20 585.04,754.30 578.36,750.02 571.66,754.79" fill="#ffe600"/>
<polygon points="591.71,759.19 598.41,754.75 591.75,749.99 585.04,754.30" fill="#ffe700"/>
<polygon points="605.06,760.11 611.76,756.14 605.12,750.90 598.41,754.75" fill="#fff800"/>
<polygon points="518.37,776.19 524.97,768.74 518.29,766.18 511.71,773.49" fill="#2eff00"/>
<polygon points="558.29,766.16 564.97,760.17 558.28,756.23 551.61,762.08" fill="#d3ff00"/>
<polygon points="598.35,764.69 605.06,760.11 598.41,754.75 591.71,759.19" fill="#e6ff00"/>
<polygon points="531.64,771.90 538.27,764.94 531.59,761.92 524.97,768.74" fill="#75ff00"/>
<polygon points="544.95,768.56 551.61,762.08 544.92,758.61 538.27,764.94" fill="#adff00"/>
<polygon points="571.65,764.72 578.34,759.20 571.66,754.79 564.97,760.17" fill="#eaff00"/>
<polygon points="585.00,764.23 591.71,759.19 585.04,754.30 578.34,759.20" fill="#f0ff00"/>
<polygon points="525.04,779.49 531.64,771.90 524.97,768.74 518.37,776.19" fill="#24ff00"/>
<polygon points="551.63,772.78 558.29,766.16 551.61,762.08 544.95,768.56" fill="#92ff00"/>
<polygon points="564.97,770.86 571.65,764.72 564.97,760.17 558.29,766.16" fill="#b1ff00"/>
<polygon points="591.65,769.88 598.35,764.69 591.71,759.19 585.00,764.23" fill="#bdff00"/>
<polygon points="538.32,775.66 544.95,768.56 538.27,764.94 531.64,771.90" fill="#63ff00"/>
<polygon points="578.31,769.89 585.00,764.23 578.34,759.20 571.65,764.72" fill="#bfff00"/>
<polygon points="531.71,783.40 538.32,775.66 531.64,771.90 525.04,779.49" fill="#10ff00"/>
<polygon points="545.00,780.03 551.63,772.78 544.95,768.56 538.32,775.66" fill="#47ff00"/>
<polygon points="558.31,777.62 564.97,770.86 558.29,766.16 551.63,772.78" fill="#6eff00"/>
<polygon points="571.63,776.17 578.31,769.89 571.65,764.72 564.97,770.86" fill="#84ff00"/>
<polygon points="584.96,775.69 591.65,769.88 585.00,764.23 578.31,769.89" fill="#8aff00"/>
<polygon points="538.38,787.92 545.00,780.03 538.32,775.66 531.71,783.40" fill="#00ff0e"/>
<polygon points="578.28,782.12 584.96,775.69 578.31,769.89 571.63,776.17" fill="#4eff00"/>
<polygon points="551.66,785.02 558.31,777.62 551.63,772.78 545.00,780.03" fill="#21ff00"/>
<polygon points="564.97,783.08 571.63,776.17 564.97,770.86 558.31,777.62" fill="#40ff00"/>
<polygon points="545.05,793.07 551.66,785.02 545.00,780.03 538.38,787.92" fill="#00ff37"/>
<polygon points="571.61,789.19 578.28,782.12 571.63,776.17 564.97,783.08" fill="#09ff00"/>
<polygon points="558.32,790.64 564.97,783.08 558.31,777.62 551.66,785.02" fill="#00ff0e"/>
<polygon points="551.70,798.85 558.32,790.64 551.66,785.02 545.05,793.07" fill="#00ff6a"/>
<polygon points="564.97,796.91 571.61,789.19 564.97,783.08 558.32,790.64" fill="#00ff4a"/>
<polygon points="558.35,805.28 564.97,796.91 558.32,790.64 551.70,798.85" fill="#00ffa6"/>
</g>
<circle cx="558.30" cy="722.00" r="2.9" fill="#dd0000" stroke="#6a0000" stroke-width="0.8"/>
<circle cx="629.40" cy="748.60" r="2.9" fill="#dd0000" stroke="#6a0000" stroke-width="0.8"/>
<circle cx="487.10" cy="769.50" r="2.6" fill="none" stroke="#e8a0b0" stroke-width="0.9"/>
<text x="416.90" y="712.50" font-size="11.50" text-anchor="end" font-family="Liberation Sans, sans-serif" fill="#111" stroke="#111" stroke-width="0.30">20</text>
<text x="418.41" y="747.16" font-size="11.50" text-anchor="end" font-family="Liberation Sans, sans-serif" fill="#111" stroke="#111" stroke-width="0.30">10</text>
<text x="419.92" y="781.81" font-size="11.50" text-anchor="end" font-family="Liberation Sans, sans-serif" fill="#111" stroke="#111" stroke-width="0.30">0</text>
<text x="421.42" y="816.47" font-size="11.50" text-anchor="end" font-family="Liberation Sans, sans-serif" fill="#111" stroke="#111" stroke-width="0.30">-10</text>
<text x="422.93" y="851.13" font-size="11.50" text-anchor="end" font-family="Liberation Sans, sans-serif" fill="#111" stroke="#111" stroke-width="0.30">-20</text>
<text x="421.30" y="908.20" font-size="11.50" text-anchor="middle" font-family="Liberation Sans, sans-serif" fill="#111" stroke="#111" stroke-width="0.30">2</text>
<text x="452.98" y="924.42" font-size="11.50" text-anchor="middle" font-family="Liberation Sans, sans-serif" fill="#111" stroke="#111" stroke-width="0.30">1</text>
<text x="484.65" y="940.65" font-size="11.50" text-anchor="middle" font-family="Liberation Sans, sans-serif" fill="#111" stroke="#111" stroke-width="0.30">0</text>
<text x="516.33" y="956.87" font-size="11.50" text-anchor="middle" font-family="Liberation Sans, sans-serif" fill="#111" stroke="#111" stroke-width="0.30">-1</text>
<text x="548.00" y="973.10" font-size="11.50" text-anchor="middle" font-family="Liberation Sans, sans-serif" fill="#111" stroke="#111" stroke-width="0.30">-2</text>
<text x="569.00" y="973.10" font-size="11.50" text-anchor="middle" font-family="Liberation Sans, sans-serif" fill="#111" stroke="#111" stroke-width="0.30">-2</text>
<text x="600.40" y="956.87" font-size="11.50" text-anchor="middle" font-family="Liberation Sans, sans-serif" fill="#111" stroke="#111" stroke-width="0.30">-1</text>
<text x="631.80" y="940.65" font-size="11.50" text-anchor="middle" font-family="Liberation Sans, sans-serif" fill="#111" stroke="#111" stroke-width="0.30">0</text>
<text x="663.20" y="924.42" font-size="11.50" text-anchor="middle" font-family="Liberation Sans, sans-serif" fill="#111" stroke="#111" stroke-width="0.30">1</text>
<text x="694.60" y="908.20" font-size="11.50" text-anchor="middle" font-family="Liberation Sans, sans-serif" fill="#111" stroke="#111" stroke-width="0.30">2</text>
<text x="0" y="0" font-size="10.70" text-anchor="middle" font-family="Liberation Sans, sans-serif" fill="#111" textLength="107.00" lengthAdjust="spacingAndGlyphs" transform="translate(386.00 808.80) rotate(-90)" stroke="#111" stroke-width="0.30">Glutamic acid (mg.mL)</text>
<text x="447.00" y="958.40" font-size="10.30" text-anchor="middle" font-family="Liberation Sans, sans-serif" fill="#111" textLength="52.50" lengthAdjust="spacingAndGlyphs" stroke="#111" stroke-width="0.30">urea  (g.dL)</text>
<text x="669.00" y="958.40" font-size="10.00" text-anchor="middle" font-family="Liberation Sans, sans-serif" fill="#111" textLength="65.50" lengthAdjust="spacingAndGlyphs" stroke="#111" stroke-width="0.30">glucose  (g.dL)</text>
</svg>
</body></html>
